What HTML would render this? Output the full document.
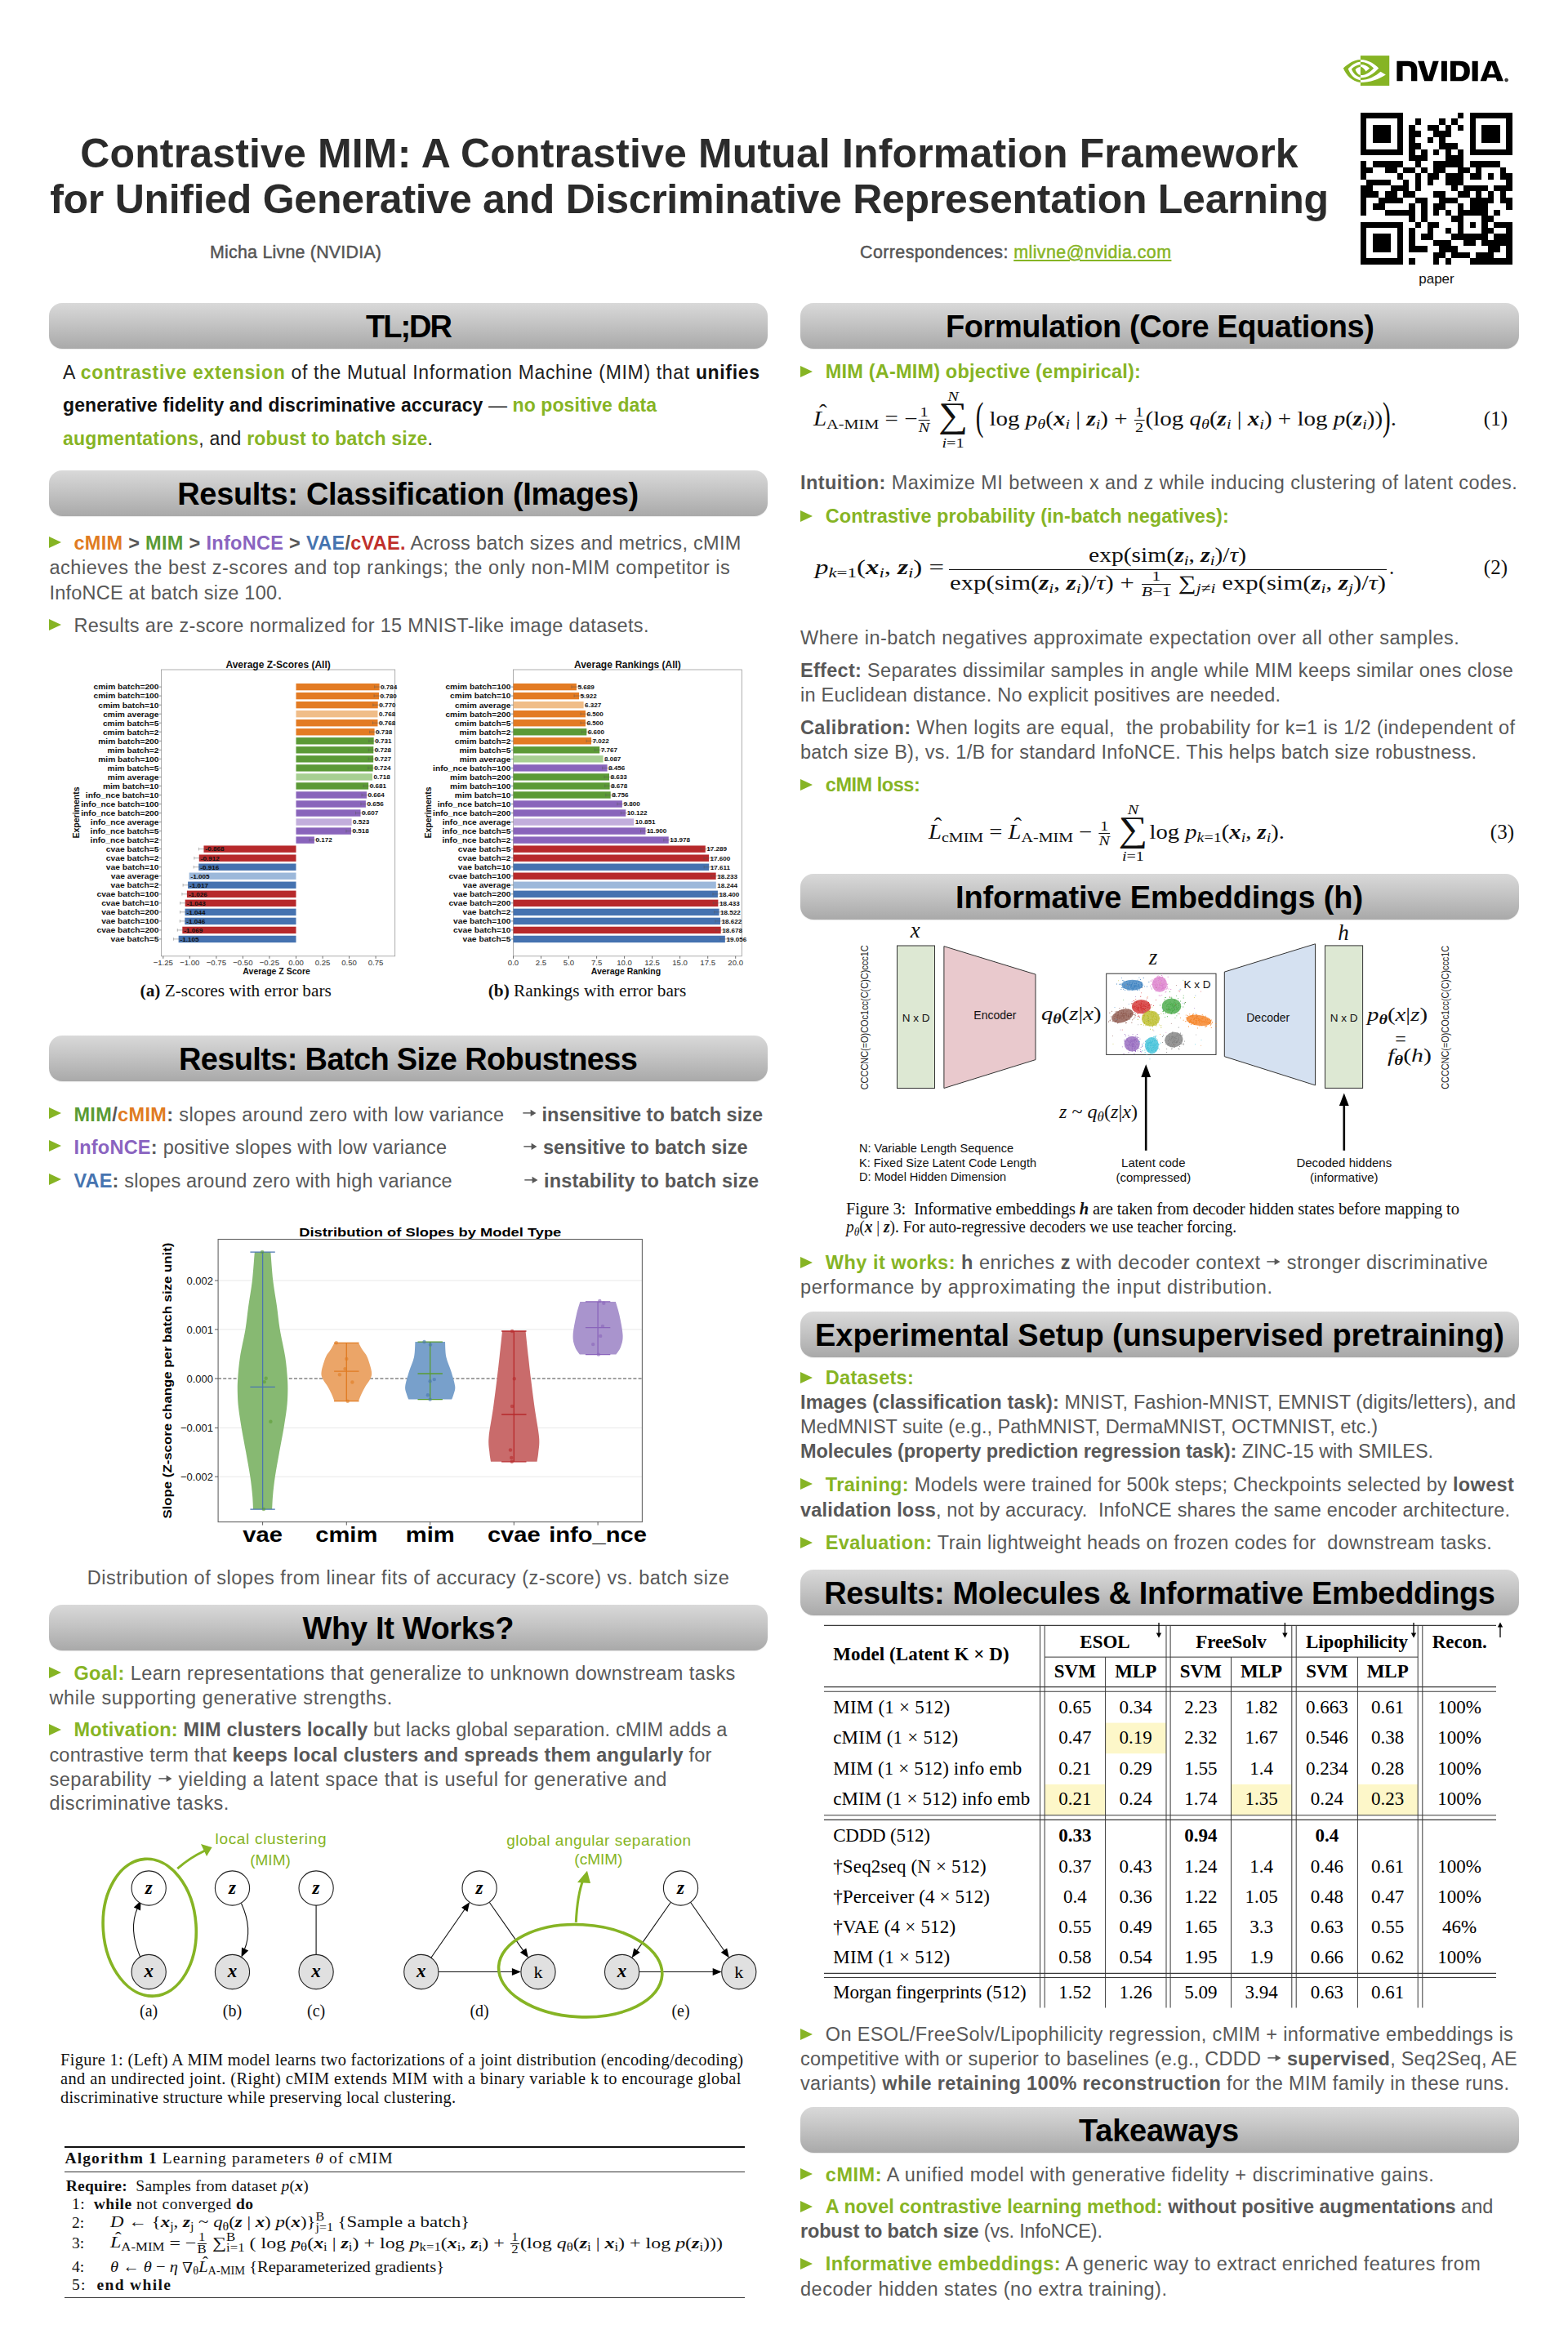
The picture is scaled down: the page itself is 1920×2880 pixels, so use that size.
<!DOCTYPE html><html><head><meta charset="utf-8"><title>Contrastive MIM poster</title><style>
*{margin:0;padding:0;box-sizing:border-box}
html,body{width:1920px;height:2880px;background:#fff;overflow:hidden}
body{position:relative;font-family:'Liberation Sans',sans-serif}
.t{position:absolute;white-space:nowrap}
.bar{position:absolute;border-radius:16px;background:linear-gradient(#d9d9d9,#c4c4c4 45%,#a9a9a9);text-align:center;font:bold 38px 'Liberation Sans',sans-serif;color:#000;box-shadow:0 1px 1px rgba(0,0,0,.08)}
.tri{position:absolute;width:0;height:0;border-top:7px solid transparent;border-bottom:7px solid transparent;border-left:15px solid #86b424}
.g{color:#86b424;font-weight:bold}
b{font-weight:bold}
svg{position:absolute;overflow:visible}
svg.arr{position:static;display:inline-block;vertical-align:0.15em;overflow:visible}
i.v{font-family:'Liberation Serif';font-style:italic}
sub,sup{font-size:0.7em;line-height:0}
sub{vertical-align:-0.25em}
sup{vertical-align:0.45em}
.ss{display:inline-block;vertical-align:-0.3em;line-height:0.75em;font-size:0.7em;text-align:left}
.ss sup,.ss sub{display:block;font-size:1em;vertical-align:0;line-height:0.9em}
.fr{display:inline-block;vertical-align:-0.45em;font-size:0.7em;line-height:1em;text-align:center;margin:0 1px}
.fr span{display:block}
.fr span:first-child{border-bottom:1px solid currentColor;padding:0 1px}
.hat{display:inline-block;font-style:italic;position:relative}
.hat::before{content:'\02C6';position:absolute;left:0.24em;top:-0.32em;font-style:normal;font-size:1em}
.nab{display:inline-block;transform:scaleY(-1)}
.op{display:inline-block;vertical-align:middle;text-align:center;line-height:1;margin:0 2px}
.op .lim{display:block;font-size:0.7em;line-height:1.05em}
.op .sym{display:block;font-size:1.75em;line-height:0.95em;font-style:normal;position:relative;top:-0.14em}
.op .lim:last-child{position:relative;top:-0.17em}
.bp{display:inline-block;transform:scaleY(1.9);transform-origin:50% 60%}


</style></head><body><div class="t" style="left:844px;top:162.80px;font-size:50px;line-height:50px;color:#2b2b2b;font-weight:bold;font-family:'Liberation Sans';letter-spacing:0.154px;transform:translateX(-50%);">Contrastive MIM: A Contrastive Mutual Information Framework</div>
<div class="t" style="left:844px;top:219.00px;font-size:50px;line-height:50px;color:#2b2b2b;font-weight:bold;font-family:'Liberation Sans';letter-spacing:-0.280px;transform:translateX(-50%);">for Unified Generative and Discriminative Representation Learning</div>
<div class="t" style="left:257px;top:298.80px;font-size:21.4px;line-height:21.4px;color:#555;font-weight:normal;font-family:'Liberation Sans';-webkit-text-stroke:0.45px currentColor;letter-spacing:0.229px;">Micha Livne (NVIDIA)</div>
<div class="t" style="left:1053px;top:298.80px;font-size:21.4px;line-height:21.4px;color:#555;font-weight:normal;font-family:'Liberation Sans';-webkit-text-stroke:0.45px currentColor;letter-spacing:0.439px;">Correspondences: <span style="color:#86b424;text-decoration:underline;text-decoration-thickness:1.5px;text-underline-offset:2px">mlivne@nvidia.com</span></div>
<svg style="left:1640px;top:62px" width="66" height="48" viewBox="0 0 1568 1140">
<rect x="615" y="145" width="840" height="875" fill="#86b424"/>
<path fill="#fff" d="M615,260 C850,265 1050,400 1145,510 C1000,680 820,790 615,790 L615,715 C780,720 900,620 1000,510 C880,390 760,325 615,325 Z"/>
<path fill="#fff" d="M615,405 C730,405 820,450 880,515 L770,605 C720,520 680,475 615,475 Z"/>
<path fill="#fff" d="M615,855 C850,850 1050,740 1200,610 L1350,700 C1150,830 900,925 615,925 Z"/>
<path fill="#86b424" d="M615,260 C420,270 250,380 115,510 C200,720 380,900 615,925 L615,860 C430,840 320,700 255,530 C350,420 470,335 615,325 Z"/>
<path fill="#86b424" d="M615,405 C500,420 420,470 355,535 C410,680 500,750 615,780 L615,715 C540,690 490,630 465,550 C510,500 560,475 615,475 Z"/>
</svg>
<svg style="left:1630px;top:55px" width="230" height="60" viewBox="0 0 1568 409">
<path fill="#000" d="M548,135 L640,135 Q718,135 718,210 L718,302 L668,302 L668,210 Q668,177 640,177 L597,177 L597,302 L548,302 Z"/>
<path fill="#000" d="M723,135 L775,135 L813,265 L850,135 L898,135 L845,302 L778,302 Z"/>
<rect x="920" y="135" width="47" height="167" fill="#000"/>
<path fill="#000" fill-rule="evenodd" d="M995,135 L1075,135 Q1158,135 1158,218 Q1158,302 1075,302 L995,302 Z M1042,172 L1065,172 Q1110,172 1110,218 Q1110,268 1065,268 L1042,268 Z"/>
<rect x="1177" y="135" width="48" height="167" fill="#000"/>
<path fill="#000" fill-rule="evenodd" d="M1245,302 L1310,135 L1372,135 L1438,302 L1385,302 L1375,272 L1305,272 L1295,302 Z M1312,245 L1368,245 L1340,168 Z"/>
<circle cx="1463" cy="293" r="13" fill="#444" stroke="#000" stroke-width="4"/>
</svg>
<svg style="left:1666.4px;top:137.9px" width="185.5" height="185.5" viewBox="0 0 25 25" shape-rendering="crispEdges"><path d="M0,0h7v1h-7zM16,0h1v1h-1zM18,0h7v1h-7zM0,1h1v1h-1zM6,1h1v1h-1zM9,1h1v1h-1zM13,1h1v1h-1zM15,1h1v1h-1zM18,1h1v1h-1zM24,1h1v1h-1zM0,2h1v1h-1zM2,2h3v1h-3zM6,2h1v1h-1zM8,2h1v1h-1zM11,2h2v1h-2zM14,2h1v1h-1zM16,2h1v1h-1zM18,2h1v1h-1zM20,2h3v1h-3zM24,2h1v1h-1zM0,3h1v1h-1zM2,3h3v1h-3zM6,3h1v1h-1zM8,3h2v1h-2zM12,3h3v1h-3zM18,3h1v1h-1zM20,3h3v1h-3zM24,3h1v1h-1zM0,4h1v1h-1zM2,4h3v1h-3zM6,4h1v1h-1zM8,4h1v1h-1zM11,4h1v1h-1zM13,4h1v1h-1zM18,4h1v1h-1zM20,4h3v1h-3zM24,4h1v1h-1zM0,5h1v1h-1zM6,5h1v1h-1zM8,5h2v1h-2zM13,5h3v1h-3zM18,5h1v1h-1zM24,5h1v1h-1zM0,6h7v1h-7zM8,6h1v1h-1zM10,6h1v1h-1zM12,6h1v1h-1zM14,6h1v1h-1zM16,6h1v1h-1zM18,6h7v1h-7zM8,7h3v1h-3zM14,7h3v1h-3zM0,8h1v1h-1zM2,8h5v1h-5zM9,8h1v1h-1zM12,8h5v1h-5zM18,8h5v1h-5zM0,9h2v1h-2zM4,9h2v1h-2zM7,9h2v1h-2zM10,9h1v1h-1zM12,9h2v1h-2zM16,9h2v1h-2zM19,9h1v1h-1zM23,9h1v1h-1zM0,10h1v1h-1zM6,10h1v1h-1zM9,10h1v1h-1zM11,10h2v1h-2zM14,10h3v1h-3zM18,10h2v1h-2zM21,10h1v1h-1zM23,10h2v1h-2zM1,11h4v1h-4zM7,11h1v1h-1zM9,11h1v1h-1zM11,11h1v1h-1zM14,11h3v1h-3zM24,11h1v1h-1zM0,12h2v1h-2zM5,12h3v1h-3zM9,12h1v1h-1zM15,12h1v1h-1zM17,12h4v1h-4zM22,12h3v1h-3zM0,13h3v1h-3zM4,13h2v1h-2zM7,13h2v1h-2zM12,13h2v1h-2zM16,13h2v1h-2zM19,13h1v1h-1zM21,13h1v1h-1zM23,13h1v1h-1zM0,14h1v1h-1zM3,14h4v1h-4zM9,14h2v1h-2zM13,14h3v1h-3zM18,14h4v1h-4zM23,14h2v1h-2zM0,15h1v1h-1zM2,15h2v1h-2zM8,15h1v1h-1zM10,15h1v1h-1zM12,15h2v1h-2zM16,15h1v1h-1zM18,15h3v1h-3zM24,15h1v1h-1zM0,16h1v1h-1zM4,16h5v1h-5zM10,16h1v1h-1zM12,16h1v1h-1zM14,16h1v1h-1zM16,16h5v1h-5zM22,16h1v1h-1zM8,17h1v1h-1zM10,17h1v1h-1zM15,17h2v1h-2zM20,17h2v1h-2zM0,18h7v1h-7zM9,18h1v1h-1zM11,18h2v1h-2zM16,18h1v1h-1zM18,18h1v1h-1zM20,18h1v1h-1zM22,18h3v1h-3zM0,19h1v1h-1zM6,19h1v1h-1zM8,19h1v1h-1zM11,19h1v1h-1zM14,19h1v1h-1zM16,19h1v1h-1zM20,19h2v1h-2zM24,19h1v1h-1zM0,20h1v1h-1zM2,20h3v1h-3zM6,20h1v1h-1zM8,20h1v1h-1zM10,20h2v1h-2zM15,20h6v1h-6zM22,20h3v1h-3zM0,21h1v1h-1zM2,21h3v1h-3zM6,21h1v1h-1zM8,21h1v1h-1zM12,21h3v1h-3zM17,21h2v1h-2zM20,21h5v1h-5zM0,22h1v1h-1zM2,22h3v1h-3zM6,22h1v1h-1zM8,22h3v1h-3zM13,22h3v1h-3zM21,22h2v1h-2zM24,22h1v1h-1zM0,23h1v1h-1zM6,23h1v1h-1zM12,23h2v1h-2zM15,23h3v1h-3zM19,23h3v1h-3zM24,23h1v1h-1zM0,24h7v1h-7zM8,24h1v1h-1zM12,24h1v1h-1zM14,24h1v1h-1zM18,24h7v1h-7z" fill="#000"/></svg>
<div class="t" style="left:1759px;top:333.00px;font-size:17px;line-height:17px;color:#111;font-weight:normal;font-family:'Liberation Sans';transform:translateX(-50%);">paper</div>
<div class="bar" style="left:60px;top:371px;width:880px;height:56px;line-height:56px"></div>
<div class="t" style="left:500.0px;top:381.00px;font-size:38px;line-height:38px;color:#000;font-weight:bold;font-family:'Liberation Sans';letter-spacing:-1.992px;transform:translateX(-50%);">TL;DR</div>
<div class="bar" style="left:60px;top:575.5px;width:880px;height:56px;line-height:56px"></div>
<div class="t" style="left:499.5px;top:585.50px;font-size:38px;line-height:38px;color:#000;font-weight:bold;font-family:'Liberation Sans';letter-spacing:-0.303px;transform:translateX(-50%);">Results: Classification (Images)</div>
<div class="bar" style="left:60px;top:1268px;width:880px;height:56px;line-height:56px"></div>
<div class="t" style="left:499.6px;top:1278.00px;font-size:38px;line-height:38px;color:#000;font-weight:bold;font-family:'Liberation Sans';letter-spacing:-0.644px;transform:translateX(-50%);">Results: Batch Size Robustness</div>
<div class="bar" style="left:60px;top:1965px;width:880px;height:56px;line-height:56px"></div>
<div class="t" style="left:499.9px;top:1975.00px;font-size:38px;line-height:38px;color:#000;font-weight:bold;font-family:'Liberation Sans';letter-spacing:-0.350px;transform:translateX(-50%);">Why It Works?</div>
<div class="bar" style="left:980px;top:371px;width:880px;height:56px;line-height:56px"></div>
<div class="t" style="left:1420.1999999999998px;top:381.00px;font-size:38px;line-height:38px;color:#000;font-weight:bold;font-family:'Liberation Sans';letter-spacing:-0.423px;transform:translateX(-50%);">Formulation (Core Equations)</div>
<div class="bar" style="left:980px;top:1070px;width:880px;height:56px;line-height:56px"></div>
<div class="t" style="left:1419.5px;top:1080.00px;font-size:38px;line-height:38px;color:#000;font-weight:bold;font-family:'Liberation Sans';letter-spacing:-0.139px;transform:translateX(-50%);">Informative Embeddings (h)</div>
<div class="bar" style="left:980px;top:1606px;width:880px;height:56px;line-height:56px"></div>
<div class="t" style="left:1419.9px;top:1616.00px;font-size:38px;line-height:38px;color:#000;font-weight:bold;font-family:'Liberation Sans';letter-spacing:-0.067px;transform:translateX(-50%);">Experimental Setup (unsupervised pretraining)</div>
<div class="bar" style="left:980px;top:1922px;width:880px;height:56px;line-height:56px"></div>
<div class="t" style="left:1419.9px;top:1932.00px;font-size:38px;line-height:38px;color:#000;font-weight:bold;font-family:'Liberation Sans';letter-spacing:-0.342px;transform:translateX(-50%);">Results: Molecules &amp; Informative Embeddings</div>
<div class="bar" style="left:980px;top:2580px;width:880px;height:56px;line-height:56px"></div>
<div class="t" style="left:1419.0px;top:2590.00px;font-size:38px;line-height:38px;color:#000;font-weight:bold;font-family:'Liberation Sans';letter-spacing:-0.236px;transform:translateX(-50%);">Takeaways</div>
<div class="t" style="left:77px;top:445.40px;font-size:23px;line-height:23px;color:#1e1e1e;font-weight:normal;font-family:'Liberation Sans';letter-spacing:0.670px;">A <span class="g">contrastive extension</span> of the Mutual Information Machine (MIM) that <b style="color:#111">unifies</b></div>
<div class="t" style="left:77px;top:485.20px;font-size:23px;line-height:23px;color:#1e1e1e;font-weight:normal;font-family:'Liberation Sans';letter-spacing:0.093px;"><b style="color:#111">generative fidelity and discriminative accuracy</b> — <span class="g">no positive data</span></div>
<div class="t" style="left:77px;top:525.80px;font-size:23px;line-height:23px;color:#1e1e1e;font-weight:normal;font-family:'Liberation Sans';letter-spacing:0.211px;"><span class="g">augmentations</span>, and <span class="g">robust to batch size</span>.</div>
<div class="tri" style="left:60px;top:657px"></div>
<div class="t" style="left:90.4px;top:654.30px;font-size:23.5px;line-height:23.5px;color:#585858;font-weight:normal;font-family:'Liberation Sans';letter-spacing:0.302px;"><b style="color:#e07b22">cMIM</b> <b>&gt;</b> <b style="color:#5a9b34">MIM</b> <b>&gt;</b> <b style="color:#8a64c0">InfoNCE</b> <b>&gt;</b> <b style="color:#4674b0">VAE</b><b>/</b><b style="color:#c0302c">cVAE.</b> Across batch sizes and metrics, cMIM</div>
<div class="t" style="left:60.4px;top:684.40px;font-size:23.5px;line-height:23.5px;color:#585858;font-weight:normal;font-family:'Liberation Sans';letter-spacing:0.549px;">achieves the best z-scores and top rankings; the only non-MIM competitor is</div>
<div class="t" style="left:60.4px;top:715.00px;font-size:23.5px;line-height:23.5px;color:#585858;font-weight:normal;font-family:'Liberation Sans';letter-spacing:0.234px;">InfoNCE at batch size 100.</div>
<div class="tri" style="left:60px;top:757.5px"></div>
<div class="t" style="left:90.4px;top:754.60px;font-size:23.5px;line-height:23.5px;color:#585858;font-weight:normal;font-family:'Liberation Sans';letter-spacing:0.312px;">Results are z-score normalized for 15 MNIST-like image datasets.</div>
<div class="tri" style="left:60px;top:1356.0px"></div>
<div class="t" style="left:90.4px;top:1353.50px;font-size:23.5px;line-height:23.5px;color:#585858;font-weight:normal;font-family:'Liberation Sans';letter-spacing:0.354px;"><b style="color:#5a9b34">MIM</b><b>/</b><b style="color:#e07b22">cMIM</b><b>:</b> slopes around zero with low variance</div>
<div class="t" style="left:638.7px;top:1353.50px;font-size:23.5px;line-height:23.5px;color:#585858;font-weight:normal;font-family:'Liberation Sans';letter-spacing:0.004px;"><svg class="arr" viewBox="0 0 18 12" width="0.78em" height="0.5em"><path d="M1,6H12" stroke="currentColor" stroke-width="1.5"/><path d="M10.5,1.8 L17.5,6 L10.5,10.2 Z" fill="currentColor"/></svg> <b>insensitive to batch size</b></div>
<div class="tri" style="left:60px;top:1396.3px"></div>
<div class="t" style="left:90.4px;top:1393.80px;font-size:23.5px;line-height:23.5px;color:#585858;font-weight:normal;font-family:'Liberation Sans';letter-spacing:0.243px;"><b style="color:#8a64c0">InfoNCE</b><b>:</b> positive slopes with low variance</div>
<div class="t" style="left:640px;top:1393.80px;font-size:23.5px;line-height:23.5px;color:#585858;font-weight:normal;font-family:'Liberation Sans';letter-spacing:0.052px;"><svg class="arr" viewBox="0 0 18 12" width="0.78em" height="0.5em"><path d="M1,6H12" stroke="currentColor" stroke-width="1.5"/><path d="M10.5,1.8 L17.5,6 L10.5,10.2 Z" fill="currentColor"/></svg> <b>sensitive to batch size</b></div>
<div class="tri" style="left:60px;top:1437.3px"></div>
<div class="t" style="left:90.4px;top:1434.80px;font-size:23.5px;line-height:23.5px;color:#585858;font-weight:normal;font-family:'Liberation Sans';letter-spacing:0.191px;"><b style="color:#4674b0">VAE</b><b>:</b> slopes around zero with high variance</div>
<div class="t" style="left:641px;top:1434.80px;font-size:23.5px;line-height:23.5px;color:#585858;font-weight:normal;font-family:'Liberation Sans';letter-spacing:0.184px;"><svg class="arr" viewBox="0 0 18 12" width="0.78em" height="0.5em"><path d="M1,6H12" stroke="currentColor" stroke-width="1.5"/><path d="M10.5,1.8 L17.5,6 L10.5,10.2 Z" fill="currentColor"/></svg> <b>instability to batch size</b></div>
<div class="tri" style="left:60px;top:2041px"></div>
<div class="t" style="left:90.4px;top:2037.70px;font-size:23.5px;line-height:23.5px;color:#585858;font-weight:normal;font-family:'Liberation Sans';letter-spacing:0.449px;"><span class="g">Goal:</span> Learn representations that generalize to unknown downstream tasks</div>
<div class="t" style="left:60.4px;top:2067.50px;font-size:23.5px;line-height:23.5px;color:#585858;font-weight:normal;font-family:'Liberation Sans';letter-spacing:0.653px;">while supporting generative strengths.</div>
<div class="tri" style="left:60px;top:2110.5px"></div>
<div class="t" style="left:90.4px;top:2107.40px;font-size:23.5px;line-height:23.5px;color:#585858;font-weight:normal;font-family:'Liberation Sans';letter-spacing:0.191px;"><span class="g">Motivation:</span> <b>MIM clusters locally</b> but lacks global separation. cMIM adds a</div>
<div class="t" style="left:60.4px;top:2137.70px;font-size:23.5px;line-height:23.5px;color:#585858;font-weight:normal;font-family:'Liberation Sans';letter-spacing:0.216px;">contrastive term that <b>keeps local clusters and spreads them angularly</b> for</div>
<div class="t" style="left:60.4px;top:2168.00px;font-size:23.5px;line-height:23.5px;color:#585858;font-weight:normal;font-family:'Liberation Sans';letter-spacing:0.554px;">separability <svg class="arr" viewBox="0 0 18 12" width="0.78em" height="0.5em"><path d="M1,6H12" stroke="currentColor" stroke-width="1.5"/><path d="M10.5,1.8 L17.5,6 L10.5,10.2 Z" fill="currentColor"/></svg> yielding a latent space that is useful for generative and</div>
<div class="t" style="left:60.4px;top:2197.20px;font-size:23.5px;line-height:23.5px;color:#585858;font-weight:normal;font-family:'Liberation Sans';letter-spacing:0.487px;">discriminative tasks.</div>
<svg style="left:60px;top:790px" width="440" height="450" viewBox="60 790 440 450"><rect x="197.5" y="820" width="286.2" height="350.79999999999995" fill="none" stroke="#999" stroke-width="0.8"/><rect x="362.50" y="836.90" width="102.08" height="8.4" fill="#e37b23"/><path d="M458.6,841.1H470.6M458.6,839.3v3.6M470.6,839.3v3.6" stroke="#555" stroke-width="0.6" opacity="0.7"/><text transform="translate(194.5,844.4) scale(1.09,1)" text-anchor="end" font-size="9.4" font-weight="bold" fill="#111">cmim batch=200</text><path d="M195.0,841.1h2.5" stroke="#444" stroke-width="0.6"/><text transform="translate(466.1,843.9) scale(1.08,1)" font-size="7.5" font-weight="bold" fill="#111">0.784</text><rect x="362.50" y="847.93" width="101.56" height="8.4" fill="#e37b23"/><path d="M458.1,852.1H470.1M458.1,850.3v3.6M470.1,850.3v3.6" stroke="#555" stroke-width="0.6" opacity="0.7"/><text transform="translate(194.5,855.4) scale(1.09,1)" text-anchor="end" font-size="9.4" font-weight="bold" fill="#111">cmim batch=100</text><path d="M195.0,852.1h2.5" stroke="#444" stroke-width="0.6"/><text transform="translate(465.6,854.9) scale(1.08,1)" font-size="7.5" font-weight="bold" fill="#111">0.780</text><rect x="362.50" y="858.96" width="100.25" height="8.4" fill="#e37b23"/><path d="M456.8,863.2H468.8M456.8,861.4v3.6M468.8,861.4v3.6" stroke="#555" stroke-width="0.6" opacity="0.7"/><text transform="translate(194.5,866.5) scale(1.09,1)" text-anchor="end" font-size="9.4" font-weight="bold" fill="#111">cmim batch=10</text><path d="M195.0,863.2h2.5" stroke="#444" stroke-width="0.6"/><text transform="translate(464.3,866.0) scale(1.08,1)" font-size="7.5" font-weight="bold" fill="#111">0.770</text><rect x="362.50" y="869.99" width="99.99" height="8.4" fill="#f0bd88"/><text transform="translate(194.5,877.5) scale(1.09,1)" text-anchor="end" font-size="9.4" font-weight="bold" fill="#111">cmim average</text><path d="M195.0,874.2h2.5" stroke="#444" stroke-width="0.6"/><text transform="translate(464.0,877.0) scale(1.08,1)" font-size="7.5" font-weight="bold" fill="#111">0.768</text><rect x="362.50" y="881.02" width="99.99" height="8.4" fill="#e37b23"/><path d="M456.5,885.2H468.5M456.5,883.4v3.6M468.5,883.4v3.6" stroke="#555" stroke-width="0.6" opacity="0.7"/><text transform="translate(194.5,888.5) scale(1.09,1)" text-anchor="end" font-size="9.4" font-weight="bold" fill="#111">cmim batch=5</text><path d="M195.0,885.2h2.5" stroke="#444" stroke-width="0.6"/><text transform="translate(464.0,888.0) scale(1.08,1)" font-size="7.5" font-weight="bold" fill="#111">0.768</text><rect x="362.50" y="892.05" width="96.09" height="8.4" fill="#e37b23"/><path d="M452.6,896.2H464.6M452.6,894.5v3.6M464.6,894.5v3.6" stroke="#555" stroke-width="0.6" opacity="0.7"/><text transform="translate(194.5,899.5) scale(1.09,1)" text-anchor="end" font-size="9.4" font-weight="bold" fill="#111">cmim batch=2</text><path d="M195.0,896.2h2.5" stroke="#444" stroke-width="0.6"/><text transform="translate(460.1,899.0) scale(1.08,1)" font-size="7.5" font-weight="bold" fill="#111">0.738</text><rect x="362.50" y="903.08" width="95.18" height="8.4" fill="#5b9a36"/><path d="M451.7,907.3H463.7M451.7,905.5v3.6M463.7,905.5v3.6" stroke="#555" stroke-width="0.6" opacity="0.7"/><text transform="translate(194.5,910.6) scale(1.09,1)" text-anchor="end" font-size="9.4" font-weight="bold" fill="#111">mim batch=200</text><path d="M195.0,907.3h2.5" stroke="#444" stroke-width="0.6"/><text transform="translate(459.2,910.1) scale(1.08,1)" font-size="7.5" font-weight="bold" fill="#111">0.731</text><rect x="362.50" y="914.11" width="94.79" height="8.4" fill="#5b9a36"/><path d="M451.3,918.3H463.3M451.3,916.5v3.6M463.3,916.5v3.6" stroke="#555" stroke-width="0.6" opacity="0.7"/><text transform="translate(194.5,921.6) scale(1.09,1)" text-anchor="end" font-size="9.4" font-weight="bold" fill="#111">mim batch=2</text><path d="M195.0,918.3h2.5" stroke="#444" stroke-width="0.6"/><text transform="translate(458.8,921.1) scale(1.08,1)" font-size="7.5" font-weight="bold" fill="#111">0.728</text><rect x="362.50" y="925.14" width="94.66" height="8.4" fill="#5b9a36"/><path d="M451.2,929.3H463.2M451.2,927.5v3.6M463.2,927.5v3.6" stroke="#555" stroke-width="0.6" opacity="0.7"/><text transform="translate(194.5,932.6) scale(1.09,1)" text-anchor="end" font-size="9.4" font-weight="bold" fill="#111">mim batch=100</text><path d="M195.0,929.3h2.5" stroke="#444" stroke-width="0.6"/><text transform="translate(458.7,932.1) scale(1.08,1)" font-size="7.5" font-weight="bold" fill="#111">0.727</text><rect x="362.50" y="936.17" width="94.26" height="8.4" fill="#5b9a36"/><path d="M450.8,940.4H462.8M450.8,938.6v3.6M462.8,938.6v3.6" stroke="#555" stroke-width="0.6" opacity="0.7"/><text transform="translate(194.5,943.7) scale(1.09,1)" text-anchor="end" font-size="9.4" font-weight="bold" fill="#111">mim batch=5</text><path d="M195.0,940.4h2.5" stroke="#444" stroke-width="0.6"/><text transform="translate(458.3,943.2) scale(1.08,1)" font-size="7.5" font-weight="bold" fill="#111">0.724</text><rect x="362.50" y="947.20" width="93.48" height="8.4" fill="#a7cf92"/><text transform="translate(194.5,954.7) scale(1.09,1)" text-anchor="end" font-size="9.4" font-weight="bold" fill="#111">mim average</text><path d="M195.0,951.4h2.5" stroke="#444" stroke-width="0.6"/><text transform="translate(457.5,954.2) scale(1.08,1)" font-size="7.5" font-weight="bold" fill="#111">0.718</text><rect x="362.50" y="958.23" width="88.67" height="8.4" fill="#5b9a36"/><path d="M445.2,962.4H457.2M445.2,960.6v3.6M457.2,960.6v3.6" stroke="#555" stroke-width="0.6" opacity="0.7"/><text transform="translate(194.5,965.7) scale(1.09,1)" text-anchor="end" font-size="9.4" font-weight="bold" fill="#111">mim batch=10</text><path d="M195.0,962.4h2.5" stroke="#444" stroke-width="0.6"/><text transform="translate(452.7,965.2) scale(1.08,1)" font-size="7.5" font-weight="bold" fill="#111">0.681</text><rect x="362.50" y="969.26" width="86.45" height="8.4" fill="#8964bb"/><path d="M443.0,973.5H455.0M443.0,971.7v3.6M455.0,971.7v3.6" stroke="#555" stroke-width="0.6" opacity="0.7"/><text transform="translate(194.5,976.8) scale(1.09,1)" text-anchor="end" font-size="9.4" font-weight="bold" fill="#111">info_nce batch=10</text><path d="M195.0,973.5h2.5" stroke="#444" stroke-width="0.6"/><text transform="translate(450.5,976.3) scale(1.08,1)" font-size="7.5" font-weight="bold" fill="#111">0.664</text><rect x="362.50" y="980.29" width="85.41" height="8.4" fill="#8964bb"/><path d="M441.9,984.5H453.9M441.9,982.7v3.6M453.9,982.7v3.6" stroke="#555" stroke-width="0.6" opacity="0.7"/><text transform="translate(194.5,987.8) scale(1.09,1)" text-anchor="end" font-size="9.4" font-weight="bold" fill="#111">info_nce batch=100</text><path d="M195.0,984.5h2.5" stroke="#444" stroke-width="0.6"/><text transform="translate(449.4,987.3) scale(1.08,1)" font-size="7.5" font-weight="bold" fill="#111">0.656</text><rect x="362.50" y="991.32" width="79.03" height="8.4" fill="#8964bb"/><path d="M435.5,995.5H447.5M435.5,993.7v3.6M447.5,993.7v3.6" stroke="#555" stroke-width="0.6" opacity="0.7"/><text transform="translate(194.5,998.8) scale(1.09,1)" text-anchor="end" font-size="9.4" font-weight="bold" fill="#111">info_nce batch=200</text><path d="M195.0,995.5h2.5" stroke="#444" stroke-width="0.6"/><text transform="translate(443.0,998.3) scale(1.08,1)" font-size="7.5" font-weight="bold" fill="#111">0.607</text><rect x="362.50" y="1002.35" width="68.09" height="8.4" fill="#c2aedc"/><text transform="translate(194.5,1009.8) scale(1.09,1)" text-anchor="end" font-size="9.4" font-weight="bold" fill="#111">info_nce average</text><path d="M195.0,1006.5h2.5" stroke="#444" stroke-width="0.6"/><text transform="translate(432.1,1009.3) scale(1.08,1)" font-size="7.5" font-weight="bold" fill="#111">0.523</text><rect x="362.50" y="1013.38" width="67.44" height="8.4" fill="#8964bb"/><path d="M423.9,1017.6H435.9M423.9,1015.8v3.6M435.9,1015.8v3.6" stroke="#555" stroke-width="0.6" opacity="0.7"/><text transform="translate(194.5,1020.9) scale(1.09,1)" text-anchor="end" font-size="9.4" font-weight="bold" fill="#111">info_nce batch=5</text><path d="M195.0,1017.6h2.5" stroke="#444" stroke-width="0.6"/><text transform="translate(431.4,1020.4) scale(1.08,1)" font-size="7.5" font-weight="bold" fill="#111">0.518</text><rect x="362.50" y="1024.41" width="22.39" height="8.4" fill="#8964bb"/><path d="M378.9,1028.6H390.9M378.9,1026.8v3.6M390.9,1026.8v3.6" stroke="#555" stroke-width="0.6" opacity="0.7"/><text transform="translate(194.5,1031.9) scale(1.09,1)" text-anchor="end" font-size="9.4" font-weight="bold" fill="#111">info_nce batch=2</text><path d="M195.0,1028.6h2.5" stroke="#444" stroke-width="0.6"/><text transform="translate(386.4,1031.4) scale(1.08,1)" font-size="7.5" font-weight="bold" fill="#111">0.172</text><rect x="249.49" y="1035.44" width="113.01" height="8.4" fill="#b7292b"/><path d="M243.5,1039.6H255.5M243.5,1037.8v3.6M255.5,1037.8v3.6" stroke="#555" stroke-width="0.6" opacity="0.7"/><text transform="translate(194.5,1042.9) scale(1.09,1)" text-anchor="end" font-size="9.4" font-weight="bold" fill="#111">cvae batch=5</text><path d="M195.0,1039.6h2.5" stroke="#444" stroke-width="0.6"/><text transform="translate(251.5,1042.4) scale(1.08,1)" font-size="7.5" font-weight="bold" fill="#111">-0.868</text><rect x="243.76" y="1046.47" width="118.74" height="8.4" fill="#b7292b"/><path d="M237.8,1050.7H249.8M237.8,1048.9v3.6M249.8,1048.9v3.6" stroke="#555" stroke-width="0.6" opacity="0.7"/><text transform="translate(194.5,1054.0) scale(1.09,1)" text-anchor="end" font-size="9.4" font-weight="bold" fill="#111">cvae batch=2</text><path d="M195.0,1050.7h2.5" stroke="#444" stroke-width="0.6"/><text transform="translate(245.8,1053.5) scale(1.08,1)" font-size="7.5" font-weight="bold" fill="#111">-0.912</text><rect x="243.24" y="1057.50" width="119.26" height="8.4" fill="#4572b0"/><path d="M237.2,1061.7H249.2M237.2,1059.9v3.6M249.2,1059.9v3.6" stroke="#555" stroke-width="0.6" opacity="0.7"/><text transform="translate(194.5,1065.0) scale(1.09,1)" text-anchor="end" font-size="9.4" font-weight="bold" fill="#111">vae batch=10</text><path d="M195.0,1061.7h2.5" stroke="#444" stroke-width="0.6"/><text transform="translate(245.2,1064.5) scale(1.08,1)" font-size="7.5" font-weight="bold" fill="#111">-0.916</text><rect x="231.65" y="1068.53" width="130.85" height="8.4" fill="#9cb8da"/><text transform="translate(194.5,1076.0) scale(1.09,1)" text-anchor="end" font-size="9.4" font-weight="bold" fill="#111">vae average</text><path d="M195.0,1072.7h2.5" stroke="#444" stroke-width="0.6"/><text transform="translate(233.6,1075.5) scale(1.08,1)" font-size="7.5" font-weight="bold" fill="#111">-1.005</text><rect x="230.09" y="1079.56" width="132.41" height="8.4" fill="#4572b0"/><path d="M224.1,1083.8H236.1M224.1,1082.0v3.6M236.1,1082.0v3.6" stroke="#555" stroke-width="0.6" opacity="0.7"/><text transform="translate(194.5,1087.1) scale(1.09,1)" text-anchor="end" font-size="9.4" font-weight="bold" fill="#111">vae batch=2</text><path d="M195.0,1083.8h2.5" stroke="#444" stroke-width="0.6"/><text transform="translate(232.1,1086.6) scale(1.08,1)" font-size="7.5" font-weight="bold" fill="#111">-1.017</text><rect x="228.91" y="1090.59" width="133.59" height="8.4" fill="#b7292b"/><path d="M222.9,1094.8H234.9M222.9,1093.0v3.6M234.9,1093.0v3.6" stroke="#555" stroke-width="0.6" opacity="0.7"/><text transform="translate(194.5,1098.1) scale(1.09,1)" text-anchor="end" font-size="9.4" font-weight="bold" fill="#111">cvae batch=100</text><path d="M195.0,1094.8h2.5" stroke="#444" stroke-width="0.6"/><text transform="translate(230.9,1097.6) scale(1.08,1)" font-size="7.5" font-weight="bold" fill="#111">-1.026</text><rect x="226.70" y="1101.62" width="135.80" height="8.4" fill="#b7292b"/><path d="M220.7,1105.8H232.7M220.7,1104.0v3.6M232.7,1104.0v3.6" stroke="#555" stroke-width="0.6" opacity="0.7"/><text transform="translate(194.5,1109.1) scale(1.09,1)" text-anchor="end" font-size="9.4" font-weight="bold" fill="#111">cvae batch=10</text><path d="M195.0,1105.8h2.5" stroke="#444" stroke-width="0.6"/><text transform="translate(228.7,1108.6) scale(1.08,1)" font-size="7.5" font-weight="bold" fill="#111">-1.043</text><rect x="226.57" y="1112.65" width="135.93" height="8.4" fill="#4572b0"/><path d="M220.6,1116.8H232.6M220.6,1115.0v3.6M232.6,1115.0v3.6" stroke="#555" stroke-width="0.6" opacity="0.7"/><text transform="translate(194.5,1120.1) scale(1.09,1)" text-anchor="end" font-size="9.4" font-weight="bold" fill="#111">vae batch=200</text><path d="M195.0,1116.8h2.5" stroke="#444" stroke-width="0.6"/><text transform="translate(228.6,1119.6) scale(1.08,1)" font-size="7.5" font-weight="bold" fill="#111">-1.044</text><rect x="226.31" y="1123.68" width="136.19" height="8.4" fill="#4572b0"/><path d="M220.3,1127.9H232.3M220.3,1126.1v3.6M232.3,1126.1v3.6" stroke="#555" stroke-width="0.6" opacity="0.7"/><text transform="translate(194.5,1131.2) scale(1.09,1)" text-anchor="end" font-size="9.4" font-weight="bold" fill="#111">vae batch=100</text><path d="M195.0,1127.9h2.5" stroke="#444" stroke-width="0.6"/><text transform="translate(228.3,1130.7) scale(1.08,1)" font-size="7.5" font-weight="bold" fill="#111">-1.046</text><rect x="223.32" y="1134.71" width="139.18" height="8.4" fill="#b7292b"/><path d="M217.3,1138.9H229.3M217.3,1137.1v3.6M229.3,1137.1v3.6" stroke="#555" stroke-width="0.6" opacity="0.7"/><text transform="translate(194.5,1142.2) scale(1.09,1)" text-anchor="end" font-size="9.4" font-weight="bold" fill="#111">cvae batch=200</text><path d="M195.0,1138.9h2.5" stroke="#444" stroke-width="0.6"/><text transform="translate(225.3,1141.7) scale(1.08,1)" font-size="7.5" font-weight="bold" fill="#111">-1.069</text><rect x="218.63" y="1145.74" width="143.87" height="8.4" fill="#4572b0"/><path d="M212.6,1149.9H224.6M212.6,1148.1v3.6M224.6,1148.1v3.6" stroke="#555" stroke-width="0.6" opacity="0.7"/><text transform="translate(194.5,1153.2) scale(1.09,1)" text-anchor="end" font-size="9.4" font-weight="bold" fill="#111">vae batch=5</text><path d="M195.0,1149.9h2.5" stroke="#444" stroke-width="0.6"/><text transform="translate(220.6,1152.7) scale(1.08,1)" font-size="7.5" font-weight="bold" fill="#111">-1.105</text><path d="M199.8,1170.8v3" stroke="#333" stroke-width="0.7"/><text x="199.8" y="1182.3" text-anchor="middle" font-size="9.6" fill="#333">−1.25</text><path d="M232.3,1170.8v3" stroke="#333" stroke-width="0.7"/><text x="232.3" y="1182.3" text-anchor="middle" font-size="9.6" fill="#333">−1.00</text><path d="M264.9,1170.8v3" stroke="#333" stroke-width="0.7"/><text x="264.9" y="1182.3" text-anchor="middle" font-size="9.6" fill="#333">−0.75</text><path d="M297.4,1170.8v3" stroke="#333" stroke-width="0.7"/><text x="297.4" y="1182.3" text-anchor="middle" font-size="9.6" fill="#333">−0.50</text><path d="M329.9,1170.8v3" stroke="#333" stroke-width="0.7"/><text x="329.9" y="1182.3" text-anchor="middle" font-size="9.6" fill="#333">−0.25</text><path d="M362.5,1170.8v3" stroke="#333" stroke-width="0.7"/><text x="362.5" y="1182.3" text-anchor="middle" font-size="9.6" fill="#333">0.00</text><path d="M395.1,1170.8v3" stroke="#333" stroke-width="0.7"/><text x="395.1" y="1182.3" text-anchor="middle" font-size="9.6" fill="#333">0.25</text><path d="M427.6,1170.8v3" stroke="#333" stroke-width="0.7"/><text x="427.6" y="1182.3" text-anchor="middle" font-size="9.6" fill="#333">0.50</text><path d="M460.1,1170.8v3" stroke="#333" stroke-width="0.7"/><text x="460.1" y="1182.3" text-anchor="middle" font-size="9.6" fill="#333">0.75</text><text x="340.6" y="817.5" text-anchor="middle" font-size="12" font-weight="bold" fill="#111">Average Z-Scores (All)</text><text x="338.6" y="1192.8" text-anchor="middle" font-size="10.5" font-weight="bold" fill="#111">Average Z Score</text><text transform="translate(97,995) rotate(-90)" text-anchor="middle" font-size="10.5" font-weight="bold" fill="#111">Experiments</text></svg>
<div class="t" style="left:288.7px;top:1203.00px;font-size:21.3px;line-height:21.3px;color:#111;font-weight:normal;font-family:'Liberation Serif';transform:translateX(-50%);"><b>(a)</b> Z-scores with error bars</div>
<svg style="left:500px;top:790px" width="440" height="450" viewBox="500 790 440 450"><rect x="628.5" y="820" width="279.79999999999995" height="350.79999999999995" fill="none" stroke="#999" stroke-width="0.8"/><rect x="628.50" y="836.90" width="77.43" height="8.4" fill="#e37b23"/><path d="M699.9,841.1H711.9M699.9,839.3v3.6M711.9,839.3v3.6" stroke="#555" stroke-width="0.6" opacity="0.7"/><text transform="translate(625.4,844.4) scale(1.09,1)" text-anchor="end" font-size="9.4" font-weight="bold" fill="#111">cmim batch=100</text><path d="M626.0,841.1h2.5" stroke="#444" stroke-width="0.6"/><text transform="translate(707.4,843.9) scale(1.08,1)" font-size="7.5" font-weight="bold" fill="#111">5.689</text><rect x="628.50" y="847.93" width="80.60" height="8.4" fill="#e37b23"/><path d="M703.1,852.1H715.1M703.1,850.3v3.6M715.1,850.3v3.6" stroke="#555" stroke-width="0.6" opacity="0.7"/><text transform="translate(625.4,855.4) scale(1.09,1)" text-anchor="end" font-size="9.4" font-weight="bold" fill="#111">cmim batch=10</text><path d="M626.0,852.1h2.5" stroke="#444" stroke-width="0.6"/><text transform="translate(710.6,854.9) scale(1.08,1)" font-size="7.5" font-weight="bold" fill="#111">5.922</text><rect x="628.50" y="858.96" width="86.11" height="8.4" fill="#f0bd88"/><text transform="translate(625.4,866.5) scale(1.09,1)" text-anchor="end" font-size="9.4" font-weight="bold" fill="#111">cmim average</text><path d="M626.0,863.2h2.5" stroke="#444" stroke-width="0.6"/><text transform="translate(716.1,866.0) scale(1.08,1)" font-size="7.5" font-weight="bold" fill="#111">6.327</text><rect x="628.50" y="869.99" width="88.47" height="8.4" fill="#e37b23"/><path d="M711.0,874.2H723.0M711.0,872.4v3.6M723.0,872.4v3.6" stroke="#555" stroke-width="0.6" opacity="0.7"/><text transform="translate(625.4,877.5) scale(1.09,1)" text-anchor="end" font-size="9.4" font-weight="bold" fill="#111">cmim batch=200</text><path d="M626.0,874.2h2.5" stroke="#444" stroke-width="0.6"/><text transform="translate(718.5,877.0) scale(1.08,1)" font-size="7.5" font-weight="bold" fill="#111">6.500</text><rect x="628.50" y="881.02" width="88.47" height="8.4" fill="#e37b23"/><path d="M711.0,885.2H723.0M711.0,883.4v3.6M723.0,883.4v3.6" stroke="#555" stroke-width="0.6" opacity="0.7"/><text transform="translate(625.4,888.5) scale(1.09,1)" text-anchor="end" font-size="9.4" font-weight="bold" fill="#111">cmim batch=5</text><path d="M626.0,885.2h2.5" stroke="#444" stroke-width="0.6"/><text transform="translate(718.5,888.0) scale(1.08,1)" font-size="7.5" font-weight="bold" fill="#111">6.500</text><rect x="628.50" y="892.05" width="89.83" height="8.4" fill="#5b9a36"/><path d="M712.3,896.2H724.3M712.3,894.5v3.6M724.3,894.5v3.6" stroke="#555" stroke-width="0.6" opacity="0.7"/><text transform="translate(625.4,899.5) scale(1.09,1)" text-anchor="end" font-size="9.4" font-weight="bold" fill="#111">mim batch=2</text><path d="M626.0,896.2h2.5" stroke="#444" stroke-width="0.6"/><text transform="translate(719.8,899.0) scale(1.08,1)" font-size="7.5" font-weight="bold" fill="#111">6.600</text><rect x="628.50" y="903.08" width="95.57" height="8.4" fill="#e37b23"/><path d="M718.1,907.3H730.1M718.1,905.5v3.6M730.1,905.5v3.6" stroke="#555" stroke-width="0.6" opacity="0.7"/><text transform="translate(625.4,910.6) scale(1.09,1)" text-anchor="end" font-size="9.4" font-weight="bold" fill="#111">cmim batch=2</text><path d="M626.0,907.3h2.5" stroke="#444" stroke-width="0.6"/><text transform="translate(725.6,910.1) scale(1.08,1)" font-size="7.5" font-weight="bold" fill="#111">7.022</text><rect x="628.50" y="914.11" width="105.71" height="8.4" fill="#5b9a36"/><path d="M728.2,918.3H740.2M728.2,916.5v3.6M740.2,916.5v3.6" stroke="#555" stroke-width="0.6" opacity="0.7"/><text transform="translate(625.4,921.6) scale(1.09,1)" text-anchor="end" font-size="9.4" font-weight="bold" fill="#111">mim batch=5</text><path d="M626.0,918.3h2.5" stroke="#444" stroke-width="0.6"/><text transform="translate(735.7,921.1) scale(1.08,1)" font-size="7.5" font-weight="bold" fill="#111">7.767</text><rect x="628.50" y="925.14" width="110.06" height="8.4" fill="#a7cf92"/><text transform="translate(625.4,932.6) scale(1.09,1)" text-anchor="end" font-size="9.4" font-weight="bold" fill="#111">mim average</text><path d="M626.0,929.3h2.5" stroke="#444" stroke-width="0.6"/><text transform="translate(740.1,932.1) scale(1.08,1)" font-size="7.5" font-weight="bold" fill="#111">8.087</text><rect x="628.50" y="936.17" width="115.09" height="8.4" fill="#8964bb"/><path d="M737.6,940.4H749.6M737.6,938.6v3.6M749.6,938.6v3.6" stroke="#555" stroke-width="0.6" opacity="0.7"/><text transform="translate(625.4,943.7) scale(1.09,1)" text-anchor="end" font-size="9.4" font-weight="bold" fill="#111">info_nce batch=100</text><path d="M626.0,940.4h2.5" stroke="#444" stroke-width="0.6"/><text transform="translate(745.1,943.2) scale(1.08,1)" font-size="7.5" font-weight="bold" fill="#111">8.456</text><rect x="628.50" y="947.20" width="117.50" height="8.4" fill="#5b9a36"/><path d="M740.0,951.4H752.0M740.0,949.6v3.6M752.0,949.6v3.6" stroke="#555" stroke-width="0.6" opacity="0.7"/><text transform="translate(625.4,954.7) scale(1.09,1)" text-anchor="end" font-size="9.4" font-weight="bold" fill="#111">mim batch=200</text><path d="M626.0,951.4h2.5" stroke="#444" stroke-width="0.6"/><text transform="translate(747.5,954.2) scale(1.08,1)" font-size="7.5" font-weight="bold" fill="#111">8.633</text><rect x="628.50" y="958.23" width="118.11" height="8.4" fill="#5b9a36"/><path d="M740.6,962.4H752.6M740.6,960.6v3.6M752.6,960.6v3.6" stroke="#555" stroke-width="0.6" opacity="0.7"/><text transform="translate(625.4,965.7) scale(1.09,1)" text-anchor="end" font-size="9.4" font-weight="bold" fill="#111">mim batch=100</text><path d="M626.0,962.4h2.5" stroke="#444" stroke-width="0.6"/><text transform="translate(748.1,965.2) scale(1.08,1)" font-size="7.5" font-weight="bold" fill="#111">8.678</text><rect x="628.50" y="969.26" width="119.17" height="8.4" fill="#5b9a36"/><path d="M741.7,973.5H753.7M741.7,971.7v3.6M753.7,971.7v3.6" stroke="#555" stroke-width="0.6" opacity="0.7"/><text transform="translate(625.4,976.8) scale(1.09,1)" text-anchor="end" font-size="9.4" font-weight="bold" fill="#111">mim batch=10</text><path d="M626.0,973.5h2.5" stroke="#444" stroke-width="0.6"/><text transform="translate(749.2,976.3) scale(1.08,1)" font-size="7.5" font-weight="bold" fill="#111">8.756</text><rect x="628.50" y="980.29" width="133.38" height="8.4" fill="#8964bb"/><path d="M755.9,984.5H767.9M755.9,982.7v3.6M767.9,982.7v3.6" stroke="#555" stroke-width="0.6" opacity="0.7"/><text transform="translate(625.4,987.8) scale(1.09,1)" text-anchor="end" font-size="9.4" font-weight="bold" fill="#111">info_nce batch=10</text><path d="M626.0,984.5h2.5" stroke="#444" stroke-width="0.6"/><text transform="translate(763.4,987.3) scale(1.08,1)" font-size="7.5" font-weight="bold" fill="#111">9.800</text><rect x="628.50" y="991.32" width="137.76" height="8.4" fill="#8964bb"/><path d="M760.3,995.5H772.3M760.3,993.7v3.6M772.3,993.7v3.6" stroke="#555" stroke-width="0.6" opacity="0.7"/><text transform="translate(625.4,998.8) scale(1.09,1)" text-anchor="end" font-size="9.4" font-weight="bold" fill="#111">info_nce batch=200</text><path d="M626.0,995.5h2.5" stroke="#444" stroke-width="0.6"/><text transform="translate(767.8,998.3) scale(1.08,1)" font-size="7.5" font-weight="bold" fill="#111">10.122</text><rect x="628.50" y="1002.35" width="147.68" height="8.4" fill="#c2aedc"/><text transform="translate(625.4,1009.8) scale(1.09,1)" text-anchor="end" font-size="9.4" font-weight="bold" fill="#111">info_nce average</text><path d="M626.0,1006.5h2.5" stroke="#444" stroke-width="0.6"/><text transform="translate(777.7,1009.3) scale(1.08,1)" font-size="7.5" font-weight="bold" fill="#111">10.851</text><rect x="628.50" y="1013.38" width="161.96" height="8.4" fill="#8964bb"/><path d="M784.5,1017.6H796.5M784.5,1015.8v3.6M796.5,1015.8v3.6" stroke="#555" stroke-width="0.6" opacity="0.7"/><text transform="translate(625.4,1020.9) scale(1.09,1)" text-anchor="end" font-size="9.4" font-weight="bold" fill="#111">info_nce batch=5</text><path d="M626.0,1017.6h2.5" stroke="#444" stroke-width="0.6"/><text transform="translate(792.0,1020.4) scale(1.08,1)" font-size="7.5" font-weight="bold" fill="#111">11.900</text><rect x="628.50" y="1024.41" width="190.24" height="8.4" fill="#8964bb"/><path d="M812.7,1028.6H824.7M812.7,1026.8v3.6M824.7,1026.8v3.6" stroke="#555" stroke-width="0.6" opacity="0.7"/><text transform="translate(625.4,1031.9) scale(1.09,1)" text-anchor="end" font-size="9.4" font-weight="bold" fill="#111">info_nce batch=2</text><path d="M626.0,1028.6h2.5" stroke="#444" stroke-width="0.6"/><text transform="translate(820.2,1031.4) scale(1.08,1)" font-size="7.5" font-weight="bold" fill="#111">13.978</text><rect x="628.50" y="1035.44" width="235.30" height="8.4" fill="#b7292b"/><path d="M857.8,1039.6H869.8M857.8,1037.8v3.6M869.8,1037.8v3.6" stroke="#555" stroke-width="0.6" opacity="0.7"/><text transform="translate(625.4,1042.9) scale(1.09,1)" text-anchor="end" font-size="9.4" font-weight="bold" fill="#111">cvae batch=5</text><path d="M626.0,1039.6h2.5" stroke="#444" stroke-width="0.6"/><text transform="translate(865.3,1042.4) scale(1.08,1)" font-size="7.5" font-weight="bold" fill="#111">17.289</text><rect x="628.50" y="1046.47" width="239.54" height="8.4" fill="#b7292b"/><path d="M862.0,1050.7H874.0M862.0,1048.9v3.6M874.0,1048.9v3.6" stroke="#555" stroke-width="0.6" opacity="0.7"/><text transform="translate(625.4,1054.0) scale(1.09,1)" text-anchor="end" font-size="9.4" font-weight="bold" fill="#111">cvae batch=2</text><path d="M626.0,1050.7h2.5" stroke="#444" stroke-width="0.6"/><text transform="translate(869.5,1053.5) scale(1.08,1)" font-size="7.5" font-weight="bold" fill="#111">17.600</text><rect x="628.50" y="1057.50" width="239.69" height="8.4" fill="#4572b0"/><path d="M862.2,1061.7H874.2M862.2,1059.9v3.6M874.2,1059.9v3.6" stroke="#555" stroke-width="0.6" opacity="0.7"/><text transform="translate(625.4,1065.0) scale(1.09,1)" text-anchor="end" font-size="9.4" font-weight="bold" fill="#111">vae batch=10</text><path d="M626.0,1061.7h2.5" stroke="#444" stroke-width="0.6"/><text transform="translate(869.7,1064.5) scale(1.08,1)" font-size="7.5" font-weight="bold" fill="#111">17.611</text><rect x="628.50" y="1068.53" width="248.15" height="8.4" fill="#b7292b"/><path d="M870.7,1072.7H882.7M870.7,1070.9v3.6M882.7,1070.9v3.6" stroke="#555" stroke-width="0.6" opacity="0.7"/><text transform="translate(625.4,1076.0) scale(1.09,1)" text-anchor="end" font-size="9.4" font-weight="bold" fill="#111">cvae batch=100</text><path d="M626.0,1072.7h2.5" stroke="#444" stroke-width="0.6"/><text transform="translate(878.2,1075.5) scale(1.08,1)" font-size="7.5" font-weight="bold" fill="#111">18.233</text><rect x="628.50" y="1079.56" width="248.30" height="8.4" fill="#9cb8da"/><text transform="translate(625.4,1087.1) scale(1.09,1)" text-anchor="end" font-size="9.4" font-weight="bold" fill="#111">vae average</text><path d="M626.0,1083.8h2.5" stroke="#444" stroke-width="0.6"/><text transform="translate(878.3,1086.6) scale(1.08,1)" font-size="7.5" font-weight="bold" fill="#111">18.244</text><rect x="628.50" y="1090.59" width="250.42" height="8.4" fill="#4572b0"/><path d="M872.9,1094.8H884.9M872.9,1093.0v3.6M884.9,1093.0v3.6" stroke="#555" stroke-width="0.6" opacity="0.7"/><text transform="translate(625.4,1098.1) scale(1.09,1)" text-anchor="end" font-size="9.4" font-weight="bold" fill="#111">vae batch=200</text><path d="M626.0,1094.8h2.5" stroke="#444" stroke-width="0.6"/><text transform="translate(880.4,1097.6) scale(1.08,1)" font-size="7.5" font-weight="bold" fill="#111">18.400</text><rect x="628.50" y="1101.62" width="250.87" height="8.4" fill="#b7292b"/><path d="M873.4,1105.8H885.4M873.4,1104.0v3.6M885.4,1104.0v3.6" stroke="#555" stroke-width="0.6" opacity="0.7"/><text transform="translate(625.4,1109.1) scale(1.09,1)" text-anchor="end" font-size="9.4" font-weight="bold" fill="#111">cvae batch=200</text><path d="M626.0,1105.8h2.5" stroke="#444" stroke-width="0.6"/><text transform="translate(880.9,1108.6) scale(1.08,1)" font-size="7.5" font-weight="bold" fill="#111">18.433</text><rect x="628.50" y="1112.65" width="252.08" height="8.4" fill="#4572b0"/><path d="M874.6,1116.8H886.6M874.6,1115.0v3.6M886.6,1115.0v3.6" stroke="#555" stroke-width="0.6" opacity="0.7"/><text transform="translate(625.4,1120.1) scale(1.09,1)" text-anchor="end" font-size="9.4" font-weight="bold" fill="#111">vae batch=2</text><path d="M626.0,1116.8h2.5" stroke="#444" stroke-width="0.6"/><text transform="translate(882.1,1119.6) scale(1.08,1)" font-size="7.5" font-weight="bold" fill="#111">18.522</text><rect x="628.50" y="1123.68" width="253.45" height="8.4" fill="#4572b0"/><path d="M875.9,1127.9H887.9M875.9,1126.1v3.6M887.9,1126.1v3.6" stroke="#555" stroke-width="0.6" opacity="0.7"/><text transform="translate(625.4,1131.2) scale(1.09,1)" text-anchor="end" font-size="9.4" font-weight="bold" fill="#111">vae batch=100</text><path d="M626.0,1127.9h2.5" stroke="#444" stroke-width="0.6"/><text transform="translate(883.4,1130.7) scale(1.08,1)" font-size="7.5" font-weight="bold" fill="#111">18.622</text><rect x="628.50" y="1134.71" width="254.21" height="8.4" fill="#b7292b"/><path d="M876.7,1138.9H888.7M876.7,1137.1v3.6M888.7,1137.1v3.6" stroke="#555" stroke-width="0.6" opacity="0.7"/><text transform="translate(625.4,1142.2) scale(1.09,1)" text-anchor="end" font-size="9.4" font-weight="bold" fill="#111">cvae batch=10</text><path d="M626.0,1138.9h2.5" stroke="#444" stroke-width="0.6"/><text transform="translate(884.2,1141.7) scale(1.08,1)" font-size="7.5" font-weight="bold" fill="#111">18.678</text><rect x="628.50" y="1145.74" width="259.35" height="8.4" fill="#4572b0"/><path d="M881.9,1149.9H893.9M881.9,1148.1v3.6M893.9,1148.1v3.6" stroke="#555" stroke-width="0.6" opacity="0.7"/><text transform="translate(625.4,1153.2) scale(1.09,1)" text-anchor="end" font-size="9.4" font-weight="bold" fill="#111">vae batch=5</text><path d="M626.0,1149.9h2.5" stroke="#444" stroke-width="0.6"/><text transform="translate(889.4,1152.7) scale(1.08,1)" font-size="7.5" font-weight="bold" fill="#111">19.056</text><path d="M628.5,1170.8v3" stroke="#333" stroke-width="0.7"/><text x="628.5" y="1182.3" text-anchor="middle" font-size="9.6" fill="#333">0.0</text><path d="M662.5,1170.8v3" stroke="#333" stroke-width="0.7"/><text x="662.5" y="1182.3" text-anchor="middle" font-size="9.6" fill="#333">2.5</text><path d="M696.5,1170.8v3" stroke="#333" stroke-width="0.7"/><text x="696.5" y="1182.3" text-anchor="middle" font-size="9.6" fill="#333">5.0</text><path d="M730.6,1170.8v3" stroke="#333" stroke-width="0.7"/><text x="730.6" y="1182.3" text-anchor="middle" font-size="9.6" fill="#333">7.5</text><path d="M764.6,1170.8v3" stroke="#333" stroke-width="0.7"/><text x="764.6" y="1182.3" text-anchor="middle" font-size="9.6" fill="#333">10.0</text><path d="M798.6,1170.8v3" stroke="#333" stroke-width="0.7"/><text x="798.6" y="1182.3" text-anchor="middle" font-size="9.6" fill="#333">12.5</text><path d="M832.6,1170.8v3" stroke="#333" stroke-width="0.7"/><text x="832.6" y="1182.3" text-anchor="middle" font-size="9.6" fill="#333">15.0</text><path d="M866.7,1170.8v3" stroke="#333" stroke-width="0.7"/><text x="866.7" y="1182.3" text-anchor="middle" font-size="9.6" fill="#333">17.5</text><path d="M900.7,1170.8v3" stroke="#333" stroke-width="0.7"/><text x="900.7" y="1182.3" text-anchor="middle" font-size="9.6" fill="#333">20.0</text><text x="768.4" y="817.5" text-anchor="middle" font-size="12" font-weight="bold" fill="#111">Average Rankings (All)</text><text x="766.4" y="1192.8" text-anchor="middle" font-size="10.5" font-weight="bold" fill="#111">Average Ranking</text><text transform="translate(528,995) rotate(-90)" text-anchor="middle" font-size="10.5" font-weight="bold" fill="#111">Experiments</text></svg>
<div class="t" style="left:719px;top:1203.00px;font-size:21.3px;line-height:21.3px;color:#111;font-weight:normal;font-family:'Liberation Serif';transform:translateX(-50%);"><b>(b)</b> Rankings with error bars</div>
<svg style="left:170px;top:1490px" width="640" height="420" viewBox="170 1490 640 420"><path d="M267,1568H786" stroke="#e8e8e8" stroke-width="1"/><path d="M267,1627.9H786" stroke="#e8e8e8" stroke-width="1"/><path d="M267,1748.4H786" stroke="#e8e8e8" stroke-width="1"/><path d="M267,1808.2H786" stroke="#e8e8e8" stroke-width="1"/><path d="M267,1688H786" stroke="#444" stroke-width="1" stroke-dasharray="4,2.2"/><path d="M331.40,1533.21 C331.88,1539.02 333.03,1557.02 334.30,1568.04 C335.57,1579.05 337.60,1589.32 339.00,1599.29 C340.40,1609.26 340.98,1617.44 342.70,1627.86 C344.42,1638.27 347.75,1651.67 349.30,1661.79 C350.85,1671.90 351.50,1681.13 352.00,1688.57 C352.50,1696.01 352.45,1700.48 352.30,1706.43 C352.15,1712.38 351.90,1717.29 351.10,1724.29 C350.30,1731.28 349.00,1739.46 347.50,1748.39 C346.00,1757.32 343.88,1767.89 342.10,1777.86 C340.32,1787.83 338.13,1799.29 336.80,1808.21 C335.47,1817.14 334.70,1824.79 334.10,1831.43 C333.50,1838.07 333.35,1845.27 333.20,1848.04 L310.00,1848.04 C309.85,1845.27 309.70,1838.07 309.10,1831.43 C308.50,1824.79 307.73,1817.14 306.40,1808.21 C305.07,1799.29 302.88,1787.83 301.10,1777.86 C299.32,1767.89 297.20,1757.32 295.70,1748.39 C294.20,1739.46 292.90,1731.28 292.10,1724.29 C291.30,1717.29 291.05,1712.38 290.90,1706.43 C290.75,1700.48 290.70,1696.01 291.20,1688.57 C291.70,1681.13 292.35,1671.90 293.90,1661.79 C295.45,1651.67 298.78,1638.27 300.50,1627.86 C302.22,1617.44 302.80,1609.26 304.20,1599.29 C305.60,1589.32 307.63,1579.05 308.90,1568.04 C310.17,1557.02 311.32,1539.02 311.80,1533.21 Z" fill="#87b972"/><path d="M321.6,1533.2142857142858V1848.0357142857142M306.40000000000003,1533.2142857142858h30.4M306.40000000000003,1848.0357142857142h30.4M306.40000000000003,1698.4h30.4" stroke="#4a76b0" stroke-width="1.3" fill="none"/><circle cx="321.1" cy="1532.9" r="2.2" fill="#5a9b34" opacity="0.6"/><circle cx="325.7" cy="1687.7" r="2.2" fill="#5a9b34" opacity="0.6"/><circle cx="323.8" cy="1692.1" r="2.2" fill="#5a9b34" opacity="0.6"/><circle cx="331.4" cy="1740.7" r="2.2" fill="#5a9b34" opacity="0.6"/><circle cx="322.9" cy="1848.0" r="2.2" fill="#5a9b34" opacity="0.6"/><path d="M439.00,1644.29 C439.80,1645.71 442.02,1649.94 443.80,1652.86 C445.58,1655.77 447.83,1657.32 449.70,1661.79 C451.57,1666.25 454.40,1675.18 455.00,1679.64 C455.60,1684.11 454.55,1685.60 453.30,1688.57 C452.05,1691.55 449.25,1694.52 447.50,1697.50 C445.75,1700.48 444.22,1703.39 442.80,1706.43 C441.38,1709.46 439.63,1714.17 439.00,1715.71 L409.60,1715.71 C408.97,1714.17 407.22,1709.46 405.80,1706.43 C404.38,1703.39 402.85,1700.48 401.10,1697.50 C399.35,1694.52 396.55,1691.55 395.30,1688.57 C394.05,1685.60 393.00,1684.11 393.60,1679.64 C394.20,1675.18 397.03,1666.25 398.90,1661.79 C400.77,1657.32 403.02,1655.77 404.80,1652.86 C406.58,1649.94 408.80,1645.71 409.60,1644.29 Z" fill="#eba568"/><path d="M424.3,1644.2857142857142V1715.7142857142858M409.1,1644.2857142857142h30.4M409.1,1715.7142857142858h30.4M409.1,1679.1h30.4" stroke="#e07b22" stroke-width="1.3" fill="none"/><circle cx="411.8" cy="1644.3" r="2.2" fill="#e07b22" opacity="0.6"/><circle cx="424.3" cy="1663.9" r="2.2" fill="#e07b22" opacity="0.6"/><circle cx="422.5" cy="1676.1" r="2.2" fill="#e07b22" opacity="0.6"/><circle cx="415.9" cy="1683.2" r="2.2" fill="#e07b22" opacity="0.6"/><circle cx="431.4" cy="1692.5" r="2.2" fill="#e07b22" opacity="0.6"/><circle cx="425.7" cy="1715.7" r="2.2" fill="#e07b22" opacity="0.6"/><path d="M545.00,1643.04 C545.23,1646.16 545.13,1655.68 546.40,1661.79 C547.67,1667.89 550.80,1673.69 552.60,1679.64 C554.40,1685.60 556.68,1693.04 557.20,1697.50 C557.72,1701.96 556.38,1703.75 555.70,1706.43 C555.02,1709.11 553.53,1712.38 553.10,1713.57 L500.30,1713.57 C499.87,1712.38 498.38,1709.11 497.70,1706.43 C497.02,1703.75 495.68,1701.96 496.20,1697.50 C496.72,1693.04 499.00,1685.60 500.80,1679.64 C502.60,1673.69 505.73,1667.89 507.00,1661.79 C508.27,1655.68 508.17,1646.16 508.40,1643.04 Z" fill="#78a0cb"/><path d="M526.7,1643.0357142857142V1713.5714285714287M511.50000000000006,1643.0357142857142h30.4M511.50000000000006,1713.5714285714287h30.4M511.50000000000006,1682h30.4" stroke="#5a9b34" stroke-width="1.3" fill="none"/><circle cx="519.5" cy="1643.0" r="2.2" fill="#4674b0" opacity="0.6"/><circle cx="527.0" cy="1646.6" r="2.2" fill="#4674b0" opacity="0.6"/><circle cx="526.6" cy="1691.2" r="2.2" fill="#4674b0" opacity="0.6"/><circle cx="531.8" cy="1689.1" r="2.2" fill="#4674b0" opacity="0.6"/><circle cx="523.9" cy="1708.2" r="2.2" fill="#4674b0" opacity="0.6"/><circle cx="526.6" cy="1713.6" r="2.2" fill="#4674b0" opacity="0.6"/><path d="M643.60,1630.00 C644.17,1635.30 645.92,1652.02 647.00,1661.79 C648.08,1671.55 648.82,1678.15 650.10,1688.57 C651.38,1698.99 653.03,1712.38 654.70,1724.29 C656.37,1736.19 659.33,1751.07 660.10,1760.00 C660.87,1768.93 659.72,1772.89 659.30,1777.86 C658.88,1782.83 657.88,1787.83 657.60,1789.82 L601.00,1789.82 C600.72,1787.83 599.72,1782.83 599.30,1777.86 C598.88,1772.89 597.73,1768.93 598.50,1760.00 C599.27,1751.07 602.23,1736.19 603.90,1724.29 C605.57,1712.38 607.22,1698.99 608.50,1688.57 C609.78,1678.15 610.52,1671.55 611.60,1661.79 C612.68,1652.02 614.43,1635.30 615.00,1630.00 Z" fill="#c96b6b"/><path d="M629.3,1630.0V1789.8214285714287M614.0999999999999,1630.0h30.4M614.0999999999999,1789.8214285714287h30.4M614.0999999999999,1732h30.4" stroke="#b7292b" stroke-width="1.3" fill="none"/><circle cx="627.1" cy="1630.0" r="2.2" fill="#b7292b" opacity="0.6"/><circle cx="629.8" cy="1688.2" r="2.2" fill="#b7292b" opacity="0.6"/><circle cx="627.1" cy="1722.0" r="2.2" fill="#b7292b" opacity="0.6"/><circle cx="625.0" cy="1775.5" r="2.2" fill="#b7292b" opacity="0.6"/><circle cx="626.2" cy="1785.0" r="2.2" fill="#b7292b" opacity="0.6"/><circle cx="626.8" cy="1789.8" r="2.2" fill="#b7292b" opacity="0.6"/><path d="M753.90,1593.93 C754.65,1596.61 756.95,1603.15 758.40,1610.00 C759.85,1616.85 762.32,1628.45 762.60,1635.00 C762.88,1641.55 761.47,1645.36 760.10,1649.29 C758.73,1653.21 755.35,1657.02 754.40,1658.57 L709.80,1658.57 C708.85,1657.02 705.47,1653.21 704.10,1649.29 C702.73,1645.36 701.32,1641.55 701.60,1635.00 C701.88,1628.45 704.35,1616.85 705.80,1610.00 C707.25,1603.15 709.55,1596.61 710.30,1593.93 Z" fill="#a994cd"/><path d="M732.1,1593.9285714285713V1658.5714285714287M716.9,1593.9285714285713h30.4M716.9,1658.5714285714287h30.4M716.9,1625.7h30.4" stroke="#8a64bb" stroke-width="1.3" fill="none"/><circle cx="734.3" cy="1593.0" r="2.2" fill="#8a64bb" opacity="0.6"/><circle cx="739.3" cy="1595.7" r="2.2" fill="#8a64bb" opacity="0.6"/><circle cx="737.9" cy="1623.9" r="2.2" fill="#8a64bb" opacity="0.6"/><circle cx="735.2" cy="1635.9" r="2.2" fill="#8a64bb" opacity="0.6"/><circle cx="726.2" cy="1646.1" r="2.2" fill="#8a64bb" opacity="0.6"/><circle cx="732.9" cy="1658.6" r="2.2" fill="#8a64bb" opacity="0.6"/><rect x="267.1" y="1517.5" width="519.3" height="346.1" fill="none" stroke="#666" stroke-width="1.1"/><path d="M263,1568h4" stroke="#333" stroke-width="0.8"/><text x="261" y="1572.6" text-anchor="end" font-size="13" fill="#111">0.002</text><path d="M263,1627.9h4" stroke="#333" stroke-width="0.8"/><text x="261" y="1632.5" text-anchor="end" font-size="13" fill="#111">0.001</text><path d="M263,1688h4" stroke="#333" stroke-width="0.8"/><text x="261" y="1692.6" text-anchor="end" font-size="13" fill="#111">0.000</text><path d="M263,1748.4h4" stroke="#333" stroke-width="0.8"/><text x="261" y="1753.0" text-anchor="end" font-size="13" fill="#111">−0.001</text><path d="M263,1808.2h4" stroke="#333" stroke-width="0.8"/><text x="261" y="1812.8" text-anchor="end" font-size="13" fill="#111">−0.002</text><path d="M321.6,1863.6v4" stroke="#333" stroke-width="0.8"/><text transform="translate(321.6,1887.5) scale(1.1,1)" text-anchor="middle" font-size="26.5" font-weight="bold" fill="#000">vae</text><path d="M424.3,1863.6v4" stroke="#333" stroke-width="0.8"/><text transform="translate(424.3,1887.5) scale(1.1,1)" text-anchor="middle" font-size="26.5" font-weight="bold" fill="#000">cmim</text><path d="M526.7,1863.6v4" stroke="#333" stroke-width="0.8"/><text transform="translate(526.7,1887.5) scale(1.1,1)" text-anchor="middle" font-size="26.5" font-weight="bold" fill="#000">mim</text><path d="M629.3,1863.6v4" stroke="#333" stroke-width="0.8"/><text transform="translate(629.3,1887.5) scale(1.1,1)" text-anchor="middle" font-size="26.5" font-weight="bold" fill="#000">cvae</text><path d="M732.1,1863.6v4" stroke="#333" stroke-width="0.8"/><text transform="translate(732.1,1887.5) scale(1.1,1)" text-anchor="middle" font-size="26.5" font-weight="bold" fill="#000">info_nce</text><text x="526.8" y="1513.6" text-anchor="middle" font-size="15" font-weight="bold" fill="#000" textLength="321" lengthAdjust="spacingAndGlyphs">Distribution of Slopes by Model Type</text><text transform="translate(209.5,1690.6) rotate(-90)" text-anchor="middle" font-size="14.2" font-weight="bold" fill="#000" textLength="338" lengthAdjust="spacingAndGlyphs">Slope (Z-score change per batch size unit)</text></svg>
<div class="t" style="left:500px;top:1921.00px;font-size:23.5px;line-height:23.5px;color:#585858;font-weight:normal;font-family:'Liberation Sans';letter-spacing:0.519px;transform:translateX(-50%);">Distribution of slopes from linear fits of accuracy (z-score) vs. batch size</div>
<svg style="left:60px;top:2230px" width="880" height="260" viewBox="60 2230 880 260"><path d="M171.8,2396.5 Q157,2362 168.5,2336" stroke="#111" stroke-width="1.1" fill="none"/><path d="M172.5,2327.5L172.0,2339.4L163.8,2335.6Z" fill="#000"/><path d="M295.4,2330.4 Q310,2362 299,2388" stroke="#111" stroke-width="1.1" fill="none"/><path d="M295.5,2396.5L296.0,2384.6L304.2,2388.4Z" fill="#000"/><path d="M387.1,2333.1V2393.4" stroke="#111" stroke-width="1.1"/><circle cx="182.2" cy="2312" r="21.1" fill="#fff" stroke="#222" stroke-width="1.1"/><text x="182.2" y="2318.5" text-anchor="middle" font-family="Liberation Serif" font-style="italic" font-weight="bold" font-size="23" fill="#000">z</text><circle cx="182.2" cy="2414.5" r="21.1" fill="#e0e0e0" stroke="#222" stroke-width="1.1"/><text x="182.2" y="2421.0" text-anchor="middle" font-family="Liberation Serif" font-style="italic" font-weight="bold" font-size="23" fill="#000">x</text><circle cx="284.5" cy="2312" r="21.1" fill="#fff" stroke="#222" stroke-width="1.1"/><text x="284.5" y="2318.5" text-anchor="middle" font-family="Liberation Serif" font-style="italic" font-weight="bold" font-size="23" fill="#000">z</text><circle cx="284.5" cy="2414.5" r="21.1" fill="#e0e0e0" stroke="#222" stroke-width="1.1"/><text x="284.5" y="2421.0" text-anchor="middle" font-family="Liberation Serif" font-style="italic" font-weight="bold" font-size="23" fill="#000">x</text><circle cx="387.1" cy="2312" r="21.1" fill="#fff" stroke="#222" stroke-width="1.1"/><text x="387.1" y="2318.5" text-anchor="middle" font-family="Liberation Serif" font-style="italic" font-weight="bold" font-size="23" fill="#000">z</text><circle cx="387.1" cy="2414.5" r="21.1" fill="#e0e0e0" stroke="#222" stroke-width="1.1"/><text x="387.1" y="2421.0" text-anchor="middle" font-family="Liberation Serif" font-style="italic" font-weight="bold" font-size="23" fill="#000">x</text><path d="M527.8,2397.2L569.9,2336.7" stroke="#111" stroke-width="1.1" fill="none"/><path d="M575.1,2329.3L572.5,2340.9L565.1,2335.8Z" fill="#000"/><path d="M536.9,2414.5L628.9,2414.5" stroke="#111" stroke-width="1.1" fill="none"/><path d="M637.9,2414.5L626.9,2419.0L626.9,2410.0Z" fill="#000"/><path d="M599.2,2329.3L641.7,2389.9" stroke="#111" stroke-width="1.1" fill="none"/><path d="M646.9,2397.2L636.9,2390.8L644.3,2385.6Z" fill="#000"/><path d="M821.4,2329.3L778.9,2389.9" stroke="#111" stroke-width="1.1" fill="none"/><path d="M773.7,2397.2L776.3,2385.6L783.7,2390.8Z" fill="#000"/><path d="M845.5,2329.3L887.6,2389.8" stroke="#111" stroke-width="1.1" fill="none"/><path d="M892.8,2397.2L882.8,2390.7L890.2,2385.6Z" fill="#000"/><path d="M782.7,2414.5L874.7,2414.5" stroke="#111" stroke-width="1.1" fill="none"/><path d="M883.7,2414.5L872.7,2419.0L872.7,2410.0Z" fill="#000"/><circle cx="587.1" cy="2312" r="21.1" fill="#fff" stroke="#222" stroke-width="1.1"/><text x="587.1" y="2318.5" text-anchor="middle" font-family="Liberation Serif" font-style="italic" font-weight="bold" font-size="23" fill="#000">z</text><circle cx="515.8" cy="2414.5" r="21.1" fill="#e0e0e0" stroke="#222" stroke-width="1.1"/><text x="515.8" y="2421.0" text-anchor="middle" font-family="Liberation Serif" font-style="italic" font-weight="bold" font-size="23" fill="#000">x</text><circle cx="659" cy="2414.5" r="21.1" fill="#e0e0e0" stroke="#222" stroke-width="1.1"/><text x="659" y="2421.5" text-anchor="middle" font-family="Liberation Serif" font-size="22" fill="#000">k</text><circle cx="833.5" cy="2312" r="21.1" fill="#fff" stroke="#222" stroke-width="1.1"/><text x="833.5" y="2318.5" text-anchor="middle" font-family="Liberation Serif" font-style="italic" font-weight="bold" font-size="23" fill="#000">z</text><circle cx="761.6" cy="2414.5" r="21.1" fill="#e0e0e0" stroke="#222" stroke-width="1.1"/><text x="761.6" y="2421.0" text-anchor="middle" font-family="Liberation Serif" font-style="italic" font-weight="bold" font-size="23" fill="#000">x</text><circle cx="904.8" cy="2414.5" r="21.1" fill="#e0e0e0" stroke="#222" stroke-width="1.1"/><text x="904.8" y="2421.5" text-anchor="middle" font-family="Liberation Serif" font-size="22" fill="#000">k</text><ellipse cx="183.2" cy="2360.2" rx="56.9" ry="84" fill="none" stroke="#86b424" stroke-width="3.6" transform="rotate(-4 183.2 2360.2)"/><ellipse cx="710.7" cy="2413.2" rx="100.2" ry="56.5" fill="none" stroke="#86b424" stroke-width="3.6" transform="rotate(3 710.7 2413.2)"/><path d="M217.3,2288.1 Q232,2275 251,2266" stroke="#86b424" stroke-width="3" fill="none"/><path d="M259.6,2262.1 L246,2258 L253,2273 Z" fill="#86b424"/><path d="M705.3,2353.8 Q707,2320 714,2302" stroke="#86b424" stroke-width="3" fill="none"/><path d="M719,2290.7 L707,2305 L723,2306 Z" fill="#86b424"/></svg>
<div class="t" style="left:263.5px;top:2241.80px;font-size:19px;line-height:19px;color:#86b424;font-weight:normal;font-family:'Liberation Sans';letter-spacing:0.689px;">local clustering</div>
<div class="t" style="left:331px;top:2267.80px;font-size:19px;line-height:19px;color:#86b424;font-weight:normal;font-family:'Liberation Sans';transform:translateX(-50%);">(MIM)</div>
<div class="t" style="left:620.2px;top:2244.00px;font-size:19px;line-height:19px;color:#86b424;font-weight:normal;font-family:'Liberation Sans';letter-spacing:0.525px;">global angular separation</div>
<div class="t" style="left:732.9px;top:2267.40px;font-size:19px;line-height:19px;color:#86b424;font-weight:normal;font-family:'Liberation Sans';transform:translateX(-50%);">(cMIM)</div>
<div class="t" style="left:182.2px;top:2452.00px;font-size:20px;line-height:20px;color:#111;font-weight:normal;font-family:'Liberation Serif';transform:translateX(-50%);">(a)</div>
<div class="t" style="left:284.5px;top:2452.00px;font-size:20px;line-height:20px;color:#111;font-weight:normal;font-family:'Liberation Serif';transform:translateX(-50%);">(b)</div>
<div class="t" style="left:387.1px;top:2452.00px;font-size:20px;line-height:20px;color:#111;font-weight:normal;font-family:'Liberation Serif';transform:translateX(-50%);">(c)</div>
<div class="t" style="left:587.1px;top:2452.00px;font-size:20px;line-height:20px;color:#111;font-weight:normal;font-family:'Liberation Serif';transform:translateX(-50%);">(d)</div>
<div class="t" style="left:833.5px;top:2452.00px;font-size:20px;line-height:20px;color:#111;font-weight:normal;font-family:'Liberation Serif';transform:translateX(-50%);">(e)</div>
<div class="t" style="left:74px;top:2512.30px;font-size:20.4px;line-height:20.4px;color:#111;font-weight:normal;font-family:'Liberation Serif';letter-spacing:0.311px;">Figure 1: (Left) A MIM model learns two factorizations of a joint distribution (encoding/decoding)</div>
<div class="t" style="left:74px;top:2535.30px;font-size:20.4px;line-height:20.4px;color:#111;font-weight:normal;font-family:'Liberation Serif';letter-spacing:0.426px;">and an undirected joint. (Right) cMIM extends MIM with a binary variable k to encourage global</div>
<div class="t" style="left:74px;top:2558.30px;font-size:20.4px;line-height:20.4px;color:#111;font-weight:normal;font-family:'Liberation Serif';letter-spacing:0.242px;">discriminative structure while preserving local clustering.</div>
<div style="position:absolute;left:79px;top:2628px;width:833px;height:1.6px;background:#111"></div>
<div style="position:absolute;left:79px;top:2659px;width:833px;height:1px;background:#333"></div>
<div style="position:absolute;left:79px;top:2813.2px;width:833px;height:1px;background:#333"></div>
<div class="t" style="left:79.5px;top:2633.20px;font-size:19.5px;line-height:19.5px;color:#111;font-weight:normal;font-family:'Liberation Serif';letter-spacing:1.094px;"><b>Algorithm 1</b> Learning parameters <i>θ</i> of cMIM</div>
<div class="t" style="left:80.7px;top:2667.00px;font-size:19.5px;line-height:19.5px;color:#111;font-weight:normal;font-family:'Liberation Serif';letter-spacing:0.256px;"><b>Require:</b>&nbsp; Samples from dataset <i>p</i>(<b><i>x</i></b>)</div>
<div class="t" style="left:88px;top:2688.60px;font-size:19.5px;line-height:19.5px;color:#111;font-weight:normal;font-family:'Liberation Serif';letter-spacing:0.466px;">1:&nbsp; <b>while</b> not converged <b>do</b></div>
<div class="t" style="left:88px;top:2711.60px;font-size:19.5px;line-height:19.5px;color:#111;font-weight:normal;font-family:'Liberation Serif';">2:</div>
<div class="t" style="left:135px;top:2709.41px;font-size:19.5px;line-height:19.5px;color:#111;font-weight:normal;font-family:'Liberation Serif';transform-origin:0 0;transform: scaleX(1.1709);"><i>D</i> ← {<b><i>x</i></b><sub>j</sub>, <b><i>z</i></b><sub>j</sub> ~ <i>q</i><sub>θ</sub>(<b><i>z</i></b> | <b><i>x</i></b>) <i>p</i>(<b><i>x</i></b>)}<span class="ss"><sup>B</sup><sub>j=1</sub></span> {Sample a batch}</div>
<div class="t" style="left:88px;top:2736.50px;font-size:19.5px;line-height:19.5px;color:#111;font-weight:normal;font-family:'Liberation Serif';">3:</div>
<div class="t" style="left:135px;top:2732.98px;font-size:19.5px;line-height:19.5px;color:#111;font-weight:normal;font-family:'Liberation Serif';transform-origin:0 0;transform: scaleX(1.2281);"><span class="hat">L</span><sub>A-MIM</sub> = −<span class="fr"><span>1</span><span>B</span></span> ∑<span class="ss"><sup>B</sup><sub>i=1</sub></span> ( log <i>p</i><sub>θ</sub>(<b><i>x</i></b><sub>i</sub> | <b><i>z</i></b><sub>i</sub>) + log <i>p</i><sub>k=1</sub>(<b><i>x</i></b><sub>i</sub>, <b><i>z</i></b><sub>i</sub>) + <span class="fr"><span>1</span><span>2</span></span>(log <i>q</i><sub>θ</sub>(<b><i>z</i></b><sub>i</sub> | <b><i>x</i></b><sub>i</sub>) + log <i>p</i>(<b><i>z</i></b><sub>i</sub>)))</div>
<div class="t" style="left:88px;top:2765.80px;font-size:19.5px;line-height:19.5px;color:#111;font-weight:normal;font-family:'Liberation Serif';">4:</div>
<div class="t" style="left:135px;top:2765.80px;font-size:19.5px;line-height:19.5px;color:#111;font-weight:normal;font-family:'Liberation Serif';transform-origin:0 0;transform: scaleX(1.0516);"><i>θ</i> ← <i>θ</i> − <i>η</i> <span class="nab">Δ</span><sub>θ</sub><span class="hat">L</span><sub>A-MIM</sub> {Reparameterized gradients}</div>
<div class="t" style="left:88px;top:2787.50px;font-size:19.5px;line-height:19.5px;color:#111;font-weight:normal;font-family:'Liberation Serif';letter-spacing:1.370px;">5:&nbsp; <b>end while</b></div>
<div class="tri" style="left:980px;top:447.5px"></div>
<div class="t" style="left:1010.8px;top:443.90px;font-size:23.5px;line-height:23.5px;color:#555;font-weight:normal;font-family:'Liberation Sans';letter-spacing:0.184px;"><span class="g">MIM (A-MIM) objective (empirical):</span></div>
<div class="t" style="left:996px;top:475.81px;font-size:25px;line-height:25px;color:#111;font-weight:normal;font-family:'Liberation Serif';transform-origin:0 0;transform: scaleX(1.1589);"><span class="hat">L</span><sub>A-MIM</sub> = −<span class="fr"><span>1</span><span><i>N</i></span></span> <span class="op"><span class="lim"><i>N</i></span><span class="sym">∑</span><span class="lim"><i>i</i>=1</span></span> <span class="bp">(</span> log <i>p</i><sub><i>θ</i></sub>(<b><i>x</i></b><sub><i>i</i></sub> | <b><i>z</i></b><sub><i>i</i></sub>) + <span class="fr"><span>1</span><span>2</span></span>(log <i>q</i><sub><i>θ</i></sub>(<b><i>z</i></b><sub><i>i</i></sub> | <b><i>x</i></b><sub><i>i</i></sub>) + log <i>p</i>(<b><i>z</i></b><sub><i>i</i></sub>))<span class="bp">)</span>.</div>
<div class="t" style="left:1846px;top:499.70px;font-size:25px;line-height:25px;color:#111;font-weight:normal;font-family:'Liberation Serif';transform:translateX(-100%);">(1)</div>
<div class="t" style="left:980px;top:580.10px;font-size:23.5px;line-height:23.5px;color:#585858;font-weight:normal;font-family:'Liberation Sans';letter-spacing:0.425px;"><b>Intuition:</b> Maximize MI between x and z while inducing clustering of latent codes.</div>
<div class="tri" style="left:980px;top:624.5px"></div>
<div class="t" style="left:1010.8px;top:620.50px;font-size:23.5px;line-height:23.5px;color:#555;font-weight:normal;font-family:'Liberation Sans';letter-spacing:0.039px;"><span class="g">Contrastive probability (in-batch negatives):</span></div>
<div class="t" style="left:998.2px;top:681.80px;font-size:25px;line-height:25px;color:#111;font-weight:normal;font-family:'Liberation Serif';transform-origin:0 0;transform: scaleX(1.3122);"><i>p</i><sub><i>k</i>=1</sub>(<b><i>x</i></b><sub><i>i</i></sub>, <b><i>z</i></b><sub><i>i</i></sub>) =</div>
<div class="t" style="left:1332.5px;top:667.10px;font-size:25px;line-height:25px;color:#111;font-weight:normal;font-family:'Liberation Serif';transform-origin:0 0;transform: scaleX(1.1829);">exp(sim(<b><i>z</i></b><sub><i>i</i></sub>, <b><i>z</i></b><sub><i>i</i></sub>)/<i>τ</i>)</div>
<div style="position:absolute;left:1162px;top:696.8px;width:536px;height:1.2px;background:#111"></div>
<div class="t" style="left:1163px;top:697.27px;font-size:25px;line-height:25px;color:#111;font-weight:normal;font-family:'Liberation Serif';transform-origin:0 0;transform: scaleX(1.2306);">exp(sim(<b><i>z</i></b><sub><i>i</i></sub>, <b><i>z</i></b><sub><i>i</i></sub>)/<i>τ</i>) + <span class="fr"><span>1</span><span><i>B</i>−1</span></span> ∑<sub><i>j</i>≠<i>i</i></sub> exp(sim(<b><i>z</i></b><sub><i>i</i></sub>, <b><i>z</i></b><sub><i>j</i></sub>)/<i>τ</i>)</div>
<div class="t" style="left:1701px;top:681.80px;font-size:25px;line-height:25px;color:#111;font-weight:normal;font-family:'Liberation Serif';">.</div>
<div class="t" style="left:1846px;top:681.80px;font-size:25px;line-height:25px;color:#111;font-weight:normal;font-family:'Liberation Serif';transform:translateX(-100%);">(2)</div>
<div class="t" style="left:980px;top:769.70px;font-size:23.5px;line-height:23.5px;color:#585858;font-weight:normal;font-family:'Liberation Sans';letter-spacing:0.489px;">Where in-batch negatives approximate expectation over all other samples.</div>
<div class="t" style="left:980px;top:809.80px;font-size:23.5px;line-height:23.5px;color:#585858;font-weight:normal;font-family:'Liberation Sans';letter-spacing:0.302px;"><b>Effect:</b> Separates dissimilar samples in angle while MIM keeps similar ones close</div>
<div class="t" style="left:980px;top:839.90px;font-size:23.5px;line-height:23.5px;color:#585858;font-weight:normal;font-family:'Liberation Sans';letter-spacing:0.264px;">in Euclidean distance. No explicit positives are needed.</div>
<div class="t" style="left:980px;top:880.10px;font-size:23.5px;line-height:23.5px;color:#585858;font-weight:normal;font-family:'Liberation Sans';letter-spacing:0.404px;"><b>Calibration:</b> When logits are equal,&nbsp; the probability for k=1 is 1/2 (independent of</div>
<div class="t" style="left:980px;top:909.70px;font-size:23.5px;line-height:23.5px;color:#585858;font-weight:normal;font-family:'Liberation Sans';letter-spacing:0.259px;">batch size B), vs. 1/B for standard InfoNCE. This helps batch size robustness.</div>
<div class="tri" style="left:980px;top:954px"></div>
<div class="t" style="left:1010.8px;top:949.90px;font-size:23.5px;line-height:23.5px;color:#555;font-weight:normal;font-family:'Liberation Sans';letter-spacing:-0.460px;"><span class="g">cMIM loss:</span></div>
<div class="t" style="left:1137.3px;top:982.31px;font-size:25px;line-height:25px;color:#111;font-weight:normal;font-family:'Liberation Serif';transform-origin:0 0;transform: scaleX(1.1449);"><span class="hat">L</span><sub>cMIM</sub> = <span class="hat">L</span><sub>A-MIM</sub> − <span class="fr"><span>1</span><span><i>N</i></span></span> <span class="op"><span class="lim"><i>N</i></span><span class="sym">∑</span><span class="lim"><i>i</i>=1</span></span>log <i>p</i><sub><i>k</i>=1</sub>(<b><i>x</i></b><sub><i>i</i></sub>, <b><i>z</i></b><sub><i>i</i></sub>).</div>
<div class="t" style="left:1854px;top:1006.20px;font-size:25px;line-height:25px;color:#111;font-weight:normal;font-family:'Liberation Serif';transform:translateX(-100%);">(3)</div>
<svg style="left:1030px;top:1130px" width="760" height="340" viewBox="1030 1130 760 340"><rect x="1098.5" y="1158" width="46" height="174.5" fill="#dde8d3" stroke="#333" stroke-width="1"/><path d="M1155.9,1158.7 L1268,1193.1 L1268,1297.6 L1155.9,1332.5 Z" fill="#e9c9cd" stroke="#333" stroke-width="1"/><path d="M1499.3,1190.1 L1610.5,1155.8 L1610.5,1328.9 L1499.3,1293.7 Z" fill="#d5e1f1" stroke="#333" stroke-width="1"/><rect x="1622.5" y="1157.9" width="46.1" height="174.5" fill="#dde8d3" stroke="#333" stroke-width="1"/><rect x="1354.7" y="1192.2" width="134.3" height="99.2" fill="#fff" stroke="#333" stroke-width="1"/><g transform="rotate(0 1386.6 1206.2)"><ellipse cx="1386.6" cy="1206.2" rx="13.1" ry="6.5" fill="#3d82c0" opacity="0.8"/><path d="M1384.8,1208.0h0.9v0.9h-0.9zM1385.0,1205.1h0.9v0.9h-0.9zM1379.9,1205.4h0.9v0.9h-0.9zM1394.6,1207.7h0.9v0.9h-0.9zM1394.1,1207.1h0.9v0.9h-0.9zM1389.4,1206.9h0.9v0.9h-0.9zM1374.6,1209.2h0.9v0.9h-0.9zM1390.2,1208.0h0.9v0.9h-0.9zM1374.4,1200.0h0.9v0.9h-0.9zM1380.2,1204.5h0.9v0.9h-0.9zM1388.8,1206.0h0.9v0.9h-0.9zM1390.4,1203.9h0.9v0.9h-0.9zM1388.8,1207.6h0.9v0.9h-0.9zM1381.8,1212.3h0.9v0.9h-0.9zM1390.6,1210.5h0.9v0.9h-0.9zM1382.1,1203.6h0.9v0.9h-0.9zM1384.1,1205.8h0.9v0.9h-0.9zM1391.2,1207.1h0.9v0.9h-0.9zM1383.4,1202.8h0.9v0.9h-0.9zM1382.9,1210.5h0.9v0.9h-0.9zM1380.8,1207.1h0.9v0.9h-0.9zM1389.7,1200.9h0.9v0.9h-0.9zM1386.9,1210.8h0.9v0.9h-0.9zM1372.1,1205.1h0.9v0.9h-0.9zM1385.8,1203.3h0.9v0.9h-0.9zM1390.2,1206.0h0.9v0.9h-0.9zM1376.1,1209.1h0.9v0.9h-0.9zM1391.4,1209.6h0.9v0.9h-0.9zM1397.0,1207.5h0.9v0.9h-0.9zM1387.5,1201.6h0.9v0.9h-0.9zM1391.0,1204.0h0.9v0.9h-0.9zM1383.3,1201.7h0.9v0.9h-0.9zM1379.6,1204.3h0.9v0.9h-0.9zM1395.9,1199.0h0.9v0.9h-0.9zM1376.1,1207.1h0.9v0.9h-0.9zM1397.0,1208.3h0.9v0.9h-0.9zM1372.9,1197.2h0.9v0.9h-0.9zM1389.2,1203.6h0.9v0.9h-0.9zM1378.5,1209.7h0.9v0.9h-0.9zM1394.5,1206.8h0.9v0.9h-0.9zM1388.4,1207.7h0.9v0.9h-0.9zM1398.1,1208.4h0.9v0.9h-0.9zM1390.3,1208.1h0.9v0.9h-0.9zM1375.3,1210.8h0.9v0.9h-0.9zM1393.5,1208.1h0.9v0.9h-0.9zM1372.4,1203.9h0.9v0.9h-0.9zM1392.7,1199.8h0.9v0.9h-0.9zM1385.3,1209.8h0.9v0.9h-0.9zM1377.2,1211.9h0.9v0.9h-0.9zM1390.6,1205.7h0.9v0.9h-0.9zM1388.9,1208.5h0.9v0.9h-0.9zM1387.5,1210.3h0.9v0.9h-0.9zM1381.8,1204.7h0.9v0.9h-0.9zM1394.1,1206.3h0.9v0.9h-0.9zM1380.3,1209.6h0.9v0.9h-0.9zM1397.2,1204.6h0.9v0.9h-0.9zM1376.7,1205.7h0.9v0.9h-0.9zM1385.5,1205.1h0.9v0.9h-0.9zM1396.7,1202.5h0.9v0.9h-0.9zM1395.7,1201.7h0.9v0.9h-0.9zM1380.9,1208.4h0.9v0.9h-0.9zM1394.7,1209.3h0.9v0.9h-0.9zM1389.1,1206.7h0.9v0.9h-0.9zM1387.7,1208.2h0.9v0.9h-0.9zM1385.3,1207.2h0.9v0.9h-0.9zM1390.7,1206.2h0.9v0.9h-0.9zM1392.1,1208.2h0.9v0.9h-0.9zM1401.1,1207.4h0.9v0.9h-0.9zM1383.5,1204.9h0.9v0.9h-0.9zM1386.5,1209.5h0.9v0.9h-0.9zM1384.2,1207.6h0.9v0.9h-0.9zM1399.8,1197.1h0.9v0.9h-0.9zM1378.5,1207.1h0.9v0.9h-0.9zM1389.5,1207.0h0.9v0.9h-0.9zM1383.5,1208.5h0.9v0.9h-0.9zM1388.6,1204.3h0.9v0.9h-0.9zM1404.1,1207.5h0.9v0.9h-0.9zM1382.6,1205.8h0.9v0.9h-0.9zM1385.0,1206.0h0.9v0.9h-0.9zM1367.0,1204.5h0.9v0.9h-0.9zM1393.9,1202.0h0.9v0.9h-0.9zM1386.1,1209.6h0.9v0.9h-0.9zM1392.8,1211.5h0.9v0.9h-0.9zM1374.3,1204.9h0.9v0.9h-0.9zM1384.1,1208.4h0.9v0.9h-0.9zM1394.5,1196.7h0.9v0.9h-0.9zM1394.4,1201.1h0.9v0.9h-0.9zM1391.5,1200.9h0.9v0.9h-0.9zM1387.9,1210.4h0.9v0.9h-0.9zM1385.5,1206.9h0.9v0.9h-0.9zM1392.3,1206.7h0.9v0.9h-0.9zM1386.0,1211.7h0.9v0.9h-0.9zM1394.1,1205.2h0.9v0.9h-0.9zM1406.4,1202.1h0.9v0.9h-0.9zM1393.2,1205.3h0.9v0.9h-0.9zM1387.6,1208.7h0.9v0.9h-0.9zM1388.2,1208.5h0.9v0.9h-0.9zM1375.6,1200.8h0.9v0.9h-0.9zM1391.0,1202.8h0.9v0.9h-0.9zM1379.2,1201.0h0.9v0.9h-0.9zM1395.7,1208.9h0.9v0.9h-0.9zM1397.2,1202.9h0.9v0.9h-0.9zM1386.6,1202.1h0.9v0.9h-0.9zM1392.1,1211.9h0.9v0.9h-0.9zM1380.2,1211.7h0.9v0.9h-0.9zM1393.7,1205.6h0.9v0.9h-0.9zM1372.4,1211.2h0.9v0.9h-0.9zM1385.9,1204.1h0.9v0.9h-0.9zM1389.5,1207.7h0.9v0.9h-0.9zM1397.4,1202.6h0.9v0.9h-0.9zM1394.8,1211.5h0.9v0.9h-0.9zM1397.1,1205.6h0.9v0.9h-0.9zM1381.2,1209.8h0.9v0.9h-0.9zM1387.4,1206.6h0.9v0.9h-0.9zM1396.9,1205.3h0.9v0.9h-0.9zM1370.1,1204.8h0.9v0.9h-0.9zM1373.3,1209.1h0.9v0.9h-0.9zM1388.9,1204.0h0.9v0.9h-0.9zM1386.5,1209.2h0.9v0.9h-0.9zM1387.2,1210.9h0.9v0.9h-0.9z" fill="#3d82c0"/></g><g transform="rotate(0 1419.9 1205.1)"><ellipse cx="1419.9" cy="1205.1" rx="9.2" ry="9.6" fill="#dc80cc" opacity="0.8"/><path d="M1419.6,1210.6h0.9v0.9h-0.9zM1427.4,1213.6h0.9v0.9h-0.9zM1416.5,1209.7h0.9v0.9h-0.9zM1410.4,1199.4h0.9v0.9h-0.9zM1410.0,1210.7h0.9v0.9h-0.9zM1413.7,1205.0h0.9v0.9h-0.9zM1418.9,1204.9h0.9v0.9h-0.9zM1416.9,1206.3h0.9v0.9h-0.9zM1428.9,1205.3h0.9v0.9h-0.9zM1422.6,1210.4h0.9v0.9h-0.9zM1418.9,1198.5h0.9v0.9h-0.9zM1417.1,1210.8h0.9v0.9h-0.9zM1411.6,1202.0h0.9v0.9h-0.9zM1425.0,1209.3h0.9v0.9h-0.9zM1419.9,1209.3h0.9v0.9h-0.9zM1420.7,1198.9h0.9v0.9h-0.9zM1412.0,1201.7h0.9v0.9h-0.9zM1424.6,1202.1h0.9v0.9h-0.9zM1415.4,1201.0h0.9v0.9h-0.9zM1412.2,1204.5h0.9v0.9h-0.9zM1414.0,1207.0h0.9v0.9h-0.9zM1408.0,1206.8h0.9v0.9h-0.9zM1416.7,1194.9h0.9v0.9h-0.9zM1423.6,1203.6h0.9v0.9h-0.9zM1408.7,1200.5h0.9v0.9h-0.9zM1421.4,1202.7h0.9v0.9h-0.9zM1423.8,1209.0h0.9v0.9h-0.9zM1423.3,1206.8h0.9v0.9h-0.9zM1426.6,1208.6h0.9v0.9h-0.9zM1422.2,1194.1h0.9v0.9h-0.9zM1424.4,1212.0h0.9v0.9h-0.9zM1418.4,1202.6h0.9v0.9h-0.9zM1429.7,1195.8h0.9v0.9h-0.9zM1422.3,1217.9h0.9v0.9h-0.9zM1415.2,1208.7h0.9v0.9h-0.9zM1429.4,1204.5h0.9v0.9h-0.9zM1422.7,1209.9h0.9v0.9h-0.9zM1415.3,1204.6h0.9v0.9h-0.9zM1421.4,1209.4h0.9v0.9h-0.9zM1419.7,1204.1h0.9v0.9h-0.9zM1414.8,1203.2h0.9v0.9h-0.9zM1424.4,1205.6h0.9v0.9h-0.9zM1415.6,1200.7h0.9v0.9h-0.9zM1433.3,1211.1h0.9v0.9h-0.9zM1423.1,1191.4h0.9v0.9h-0.9zM1423.0,1207.6h0.9v0.9h-0.9zM1428.4,1207.4h0.9v0.9h-0.9zM1419.6,1207.9h0.9v0.9h-0.9zM1410.1,1210.5h0.9v0.9h-0.9zM1421.5,1201.4h0.9v0.9h-0.9zM1426.6,1214.6h0.9v0.9h-0.9zM1412.8,1201.6h0.9v0.9h-0.9zM1421.4,1206.1h0.9v0.9h-0.9zM1417.9,1200.0h0.9v0.9h-0.9zM1430.6,1210.6h0.9v0.9h-0.9zM1413.9,1198.0h0.9v0.9h-0.9zM1428.5,1210.3h0.9v0.9h-0.9zM1429.1,1209.4h0.9v0.9h-0.9zM1415.5,1206.5h0.9v0.9h-0.9zM1409.0,1201.2h0.9v0.9h-0.9zM1419.6,1207.9h0.9v0.9h-0.9zM1416.2,1204.4h0.9v0.9h-0.9zM1422.2,1207.1h0.9v0.9h-0.9zM1423.1,1206.2h0.9v0.9h-0.9zM1418.3,1209.3h0.9v0.9h-0.9zM1420.1,1200.8h0.9v0.9h-0.9zM1416.7,1205.1h0.9v0.9h-0.9zM1419.3,1205.9h0.9v0.9h-0.9zM1419.9,1206.0h0.9v0.9h-0.9zM1419.2,1198.5h0.9v0.9h-0.9zM1422.0,1210.6h0.9v0.9h-0.9zM1422.1,1204.1h0.9v0.9h-0.9zM1422.2,1200.0h0.9v0.9h-0.9zM1410.3,1205.4h0.9v0.9h-0.9zM1415.2,1209.0h0.9v0.9h-0.9zM1414.4,1191.3h0.9v0.9h-0.9zM1414.7,1213.4h0.9v0.9h-0.9zM1418.0,1197.9h0.9v0.9h-0.9zM1416.1,1207.8h0.9v0.9h-0.9zM1422.4,1206.0h0.9v0.9h-0.9zM1427.4,1208.8h0.9v0.9h-0.9zM1419.8,1208.2h0.9v0.9h-0.9zM1428.2,1210.2h0.9v0.9h-0.9zM1425.1,1199.4h0.9v0.9h-0.9zM1419.2,1208.9h0.9v0.9h-0.9zM1418.4,1210.7h0.9v0.9h-0.9zM1422.9,1209.9h0.9v0.9h-0.9zM1418.8,1218.5h0.9v0.9h-0.9zM1426.1,1204.0h0.9v0.9h-0.9zM1420.4,1218.8h0.9v0.9h-0.9zM1418.2,1209.7h0.9v0.9h-0.9zM1424.8,1205.1h0.9v0.9h-0.9zM1414.0,1206.1h0.9v0.9h-0.9zM1421.7,1211.0h0.9v0.9h-0.9zM1423.8,1205.2h0.9v0.9h-0.9zM1424.2,1207.9h0.9v0.9h-0.9zM1420.9,1205.4h0.9v0.9h-0.9zM1418.7,1208.7h0.9v0.9h-0.9zM1414.6,1201.8h0.9v0.9h-0.9zM1419.9,1197.4h0.9v0.9h-0.9zM1417.7,1194.5h0.9v0.9h-0.9zM1416.5,1208.1h0.9v0.9h-0.9zM1422.8,1204.8h0.9v0.9h-0.9zM1418.7,1197.6h0.9v0.9h-0.9zM1429.1,1207.8h0.9v0.9h-0.9zM1425.4,1200.5h0.9v0.9h-0.9zM1419.0,1195.5h0.9v0.9h-0.9zM1423.8,1210.0h0.9v0.9h-0.9zM1410.3,1204.8h0.9v0.9h-0.9zM1423.1,1195.8h0.9v0.9h-0.9zM1410.7,1199.5h0.9v0.9h-0.9zM1416.7,1197.7h0.9v0.9h-0.9zM1420.1,1206.4h0.9v0.9h-0.9zM1423.1,1208.8h0.9v0.9h-0.9zM1427.5,1211.2h0.9v0.9h-0.9zM1413.3,1202.4h0.9v0.9h-0.9zM1414.6,1199.4h0.9v0.9h-0.9zM1419.5,1205.1h0.9v0.9h-0.9zM1422.4,1196.7h0.9v0.9h-0.9zM1413.7,1205.0h0.9v0.9h-0.9z" fill="#dc80cc"/></g><g transform="rotate(0 1397.4 1232.7)"><ellipse cx="1397.4" cy="1232.7" rx="11.5" ry="8.6" fill="#d23030" opacity="0.8"/><path d="M1396.1,1231.2h0.9v0.9h-0.9zM1397.0,1229.1h0.9v0.9h-0.9zM1401.8,1234.4h0.9v0.9h-0.9zM1396.8,1229.5h0.9v0.9h-0.9zM1396.3,1219.8h0.9v0.9h-0.9zM1391.2,1232.9h0.9v0.9h-0.9zM1387.9,1233.6h0.9v0.9h-0.9zM1398.3,1226.2h0.9v0.9h-0.9zM1395.8,1231.2h0.9v0.9h-0.9zM1400.3,1235.6h0.9v0.9h-0.9zM1397.2,1228.7h0.9v0.9h-0.9zM1396.5,1232.4h0.9v0.9h-0.9zM1402.0,1234.1h0.9v0.9h-0.9zM1392.8,1226.3h0.9v0.9h-0.9zM1395.0,1229.2h0.9v0.9h-0.9zM1390.4,1232.2h0.9v0.9h-0.9zM1394.3,1233.2h0.9v0.9h-0.9zM1400.7,1230.7h0.9v0.9h-0.9zM1412.0,1231.2h0.9v0.9h-0.9zM1404.3,1233.3h0.9v0.9h-0.9zM1404.4,1221.5h0.9v0.9h-0.9zM1392.7,1233.9h0.9v0.9h-0.9zM1401.2,1243.7h0.9v0.9h-0.9zM1399.4,1238.7h0.9v0.9h-0.9zM1402.2,1237.2h0.9v0.9h-0.9zM1400.6,1232.0h0.9v0.9h-0.9zM1400.6,1227.6h0.9v0.9h-0.9zM1404.8,1227.9h0.9v0.9h-0.9zM1399.0,1242.7h0.9v0.9h-0.9zM1396.0,1232.8h0.9v0.9h-0.9zM1404.7,1232.8h0.9v0.9h-0.9zM1392.3,1233.9h0.9v0.9h-0.9zM1401.1,1236.1h0.9v0.9h-0.9zM1392.5,1241.0h0.9v0.9h-0.9zM1407.9,1232.8h0.9v0.9h-0.9zM1399.1,1230.7h0.9v0.9h-0.9zM1406.3,1229.4h0.9v0.9h-0.9zM1401.6,1230.4h0.9v0.9h-0.9zM1393.0,1236.1h0.9v0.9h-0.9zM1405.8,1232.7h0.9v0.9h-0.9zM1393.1,1236.5h0.9v0.9h-0.9zM1397.1,1234.2h0.9v0.9h-0.9zM1407.0,1238.0h0.9v0.9h-0.9zM1394.1,1243.5h0.9v0.9h-0.9zM1397.4,1236.4h0.9v0.9h-0.9zM1393.3,1232.5h0.9v0.9h-0.9zM1386.4,1241.1h0.9v0.9h-0.9zM1406.0,1227.0h0.9v0.9h-0.9zM1387.9,1225.0h0.9v0.9h-0.9zM1404.8,1230.5h0.9v0.9h-0.9zM1397.0,1231.2h0.9v0.9h-0.9zM1396.6,1227.6h0.9v0.9h-0.9zM1397.6,1225.9h0.9v0.9h-0.9zM1396.9,1234.2h0.9v0.9h-0.9zM1400.3,1231.6h0.9v0.9h-0.9zM1391.7,1233.5h0.9v0.9h-0.9zM1394.3,1240.1h0.9v0.9h-0.9zM1402.2,1232.2h0.9v0.9h-0.9zM1394.4,1229.4h0.9v0.9h-0.9zM1391.5,1231.0h0.9v0.9h-0.9zM1399.3,1235.1h0.9v0.9h-0.9zM1401.0,1242.6h0.9v0.9h-0.9zM1393.0,1232.8h0.9v0.9h-0.9zM1415.0,1223.9h0.9v0.9h-0.9zM1394.1,1233.5h0.9v0.9h-0.9zM1398.4,1234.6h0.9v0.9h-0.9zM1395.9,1234.4h0.9v0.9h-0.9zM1397.7,1236.3h0.9v0.9h-0.9zM1385.5,1228.5h0.9v0.9h-0.9zM1397.4,1227.8h0.9v0.9h-0.9zM1390.8,1235.7h0.9v0.9h-0.9zM1393.3,1235.7h0.9v0.9h-0.9zM1402.1,1234.1h0.9v0.9h-0.9zM1400.6,1232.2h0.9v0.9h-0.9zM1388.5,1232.6h0.9v0.9h-0.9zM1400.3,1230.2h0.9v0.9h-0.9zM1396.8,1236.2h0.9v0.9h-0.9zM1391.9,1235.7h0.9v0.9h-0.9zM1409.1,1230.1h0.9v0.9h-0.9zM1398.3,1232.0h0.9v0.9h-0.9zM1407.1,1234.2h0.9v0.9h-0.9zM1403.1,1229.4h0.9v0.9h-0.9zM1397.3,1232.7h0.9v0.9h-0.9zM1386.2,1239.5h0.9v0.9h-0.9zM1403.1,1224.4h0.9v0.9h-0.9zM1402.1,1232.1h0.9v0.9h-0.9zM1400.2,1234.4h0.9v0.9h-0.9zM1388.0,1231.7h0.9v0.9h-0.9zM1406.8,1230.0h0.9v0.9h-0.9zM1391.0,1226.3h0.9v0.9h-0.9zM1389.7,1234.3h0.9v0.9h-0.9zM1408.1,1234.7h0.9v0.9h-0.9zM1398.9,1243.3h0.9v0.9h-0.9zM1394.1,1229.5h0.9v0.9h-0.9zM1400.7,1235.3h0.9v0.9h-0.9zM1391.0,1227.2h0.9v0.9h-0.9zM1399.2,1233.9h0.9v0.9h-0.9zM1389.2,1231.7h0.9v0.9h-0.9zM1394.0,1234.9h0.9v0.9h-0.9zM1396.7,1232.3h0.9v0.9h-0.9zM1395.2,1237.7h0.9v0.9h-0.9zM1406.2,1231.0h0.9v0.9h-0.9zM1402.7,1229.1h0.9v0.9h-0.9zM1397.9,1236.2h0.9v0.9h-0.9zM1406.9,1230.9h0.9v0.9h-0.9zM1396.9,1233.6h0.9v0.9h-0.9zM1388.0,1232.8h0.9v0.9h-0.9zM1393.1,1234.5h0.9v0.9h-0.9zM1390.3,1223.4h0.9v0.9h-0.9zM1397.6,1233.9h0.9v0.9h-0.9zM1393.9,1236.9h0.9v0.9h-0.9zM1395.7,1229.8h0.9v0.9h-0.9zM1400.4,1225.3h0.9v0.9h-0.9zM1393.1,1232.6h0.9v0.9h-0.9zM1402.7,1231.9h0.9v0.9h-0.9zM1399.3,1229.6h0.9v0.9h-0.9zM1399.3,1240.6h0.9v0.9h-0.9zM1393.1,1243.9h0.9v0.9h-0.9zM1393.3,1232.8h0.9v0.9h-0.9zM1398.5,1237.5h0.9v0.9h-0.9z" fill="#d23030"/></g><g transform="rotate(0 1434.5 1232.1)"><ellipse cx="1434.5" cy="1232.1" rx="11.7" ry="9.6" fill="#45a845" opacity="0.8"/><path d="M1426.5,1221.0h0.9v0.9h-0.9zM1438.4,1236.3h0.9v0.9h-0.9zM1438.5,1245.9h0.9v0.9h-0.9zM1435.8,1233.4h0.9v0.9h-0.9zM1440.5,1234.0h0.9v0.9h-0.9zM1445.2,1225.6h0.9v0.9h-0.9zM1432.1,1214.0h0.9v0.9h-0.9zM1439.7,1230.1h0.9v0.9h-0.9zM1440.4,1243.4h0.9v0.9h-0.9zM1434.5,1230.8h0.9v0.9h-0.9zM1431.3,1227.7h0.9v0.9h-0.9zM1430.4,1235.5h0.9v0.9h-0.9zM1434.7,1232.4h0.9v0.9h-0.9zM1433.4,1236.9h0.9v0.9h-0.9zM1437.7,1231.4h0.9v0.9h-0.9zM1438.8,1231.3h0.9v0.9h-0.9zM1427.1,1239.8h0.9v0.9h-0.9zM1437.5,1227.1h0.9v0.9h-0.9zM1441.4,1233.9h0.9v0.9h-0.9zM1424.4,1240.6h0.9v0.9h-0.9zM1436.6,1236.8h0.9v0.9h-0.9zM1435.8,1231.3h0.9v0.9h-0.9zM1424.5,1237.2h0.9v0.9h-0.9zM1434.7,1230.6h0.9v0.9h-0.9zM1436.8,1232.5h0.9v0.9h-0.9zM1438.8,1230.1h0.9v0.9h-0.9zM1434.3,1220.8h0.9v0.9h-0.9zM1431.8,1235.7h0.9v0.9h-0.9zM1443.1,1230.2h0.9v0.9h-0.9zM1433.7,1240.4h0.9v0.9h-0.9zM1432.4,1236.0h0.9v0.9h-0.9zM1445.3,1232.3h0.9v0.9h-0.9zM1442.4,1228.4h0.9v0.9h-0.9zM1435.8,1231.7h0.9v0.9h-0.9zM1435.2,1238.0h0.9v0.9h-0.9zM1449.9,1228.6h0.9v0.9h-0.9zM1430.8,1234.7h0.9v0.9h-0.9zM1427.7,1234.7h0.9v0.9h-0.9zM1438.2,1230.6h0.9v0.9h-0.9zM1437.9,1223.9h0.9v0.9h-0.9zM1439.4,1224.0h0.9v0.9h-0.9zM1430.0,1229.2h0.9v0.9h-0.9zM1431.9,1236.6h0.9v0.9h-0.9zM1435.0,1230.0h0.9v0.9h-0.9zM1438.0,1240.4h0.9v0.9h-0.9zM1434.5,1234.0h0.9v0.9h-0.9zM1442.5,1233.5h0.9v0.9h-0.9zM1426.2,1245.2h0.9v0.9h-0.9zM1448.7,1221.6h0.9v0.9h-0.9zM1434.2,1234.3h0.9v0.9h-0.9zM1440.7,1235.6h0.9v0.9h-0.9zM1432.7,1226.6h0.9v0.9h-0.9zM1435.2,1237.5h0.9v0.9h-0.9zM1427.5,1226.7h0.9v0.9h-0.9zM1434.3,1221.9h0.9v0.9h-0.9zM1432.8,1229.8h0.9v0.9h-0.9zM1437.4,1228.4h0.9v0.9h-0.9zM1428.8,1230.0h0.9v0.9h-0.9zM1434.2,1228.6h0.9v0.9h-0.9zM1434.6,1236.0h0.9v0.9h-0.9zM1442.1,1241.1h0.9v0.9h-0.9zM1429.5,1229.9h0.9v0.9h-0.9zM1418.5,1242.1h0.9v0.9h-0.9zM1429.8,1231.9h0.9v0.9h-0.9zM1437.9,1224.9h0.9v0.9h-0.9zM1437.5,1232.0h0.9v0.9h-0.9zM1422.7,1233.6h0.9v0.9h-0.9zM1442.2,1222.3h0.9v0.9h-0.9zM1439.7,1233.2h0.9v0.9h-0.9zM1437.6,1234.4h0.9v0.9h-0.9zM1442.9,1230.9h0.9v0.9h-0.9zM1440.1,1229.9h0.9v0.9h-0.9zM1439.2,1227.8h0.9v0.9h-0.9zM1433.8,1241.2h0.9v0.9h-0.9zM1437.4,1231.3h0.9v0.9h-0.9zM1427.1,1227.9h0.9v0.9h-0.9zM1435.7,1237.0h0.9v0.9h-0.9zM1437.2,1234.9h0.9v0.9h-0.9zM1434.2,1239.2h0.9v0.9h-0.9zM1432.0,1229.2h0.9v0.9h-0.9zM1440.2,1232.4h0.9v0.9h-0.9zM1432.7,1229.1h0.9v0.9h-0.9zM1432.8,1235.4h0.9v0.9h-0.9zM1436.8,1225.7h0.9v0.9h-0.9zM1437.2,1233.0h0.9v0.9h-0.9zM1428.1,1236.2h0.9v0.9h-0.9zM1432.7,1230.3h0.9v0.9h-0.9zM1439.6,1239.1h0.9v0.9h-0.9zM1430.1,1234.4h0.9v0.9h-0.9zM1428.9,1244.3h0.9v0.9h-0.9zM1431.3,1238.4h0.9v0.9h-0.9zM1430.3,1236.4h0.9v0.9h-0.9zM1448.8,1218.7h0.9v0.9h-0.9zM1431.7,1234.7h0.9v0.9h-0.9zM1433.9,1228.6h0.9v0.9h-0.9zM1448.3,1232.5h0.9v0.9h-0.9zM1423.9,1236.6h0.9v0.9h-0.9zM1423.4,1238.2h0.9v0.9h-0.9zM1430.8,1232.9h0.9v0.9h-0.9zM1442.6,1232.7h0.9v0.9h-0.9zM1425.5,1223.2h0.9v0.9h-0.9zM1442.1,1236.0h0.9v0.9h-0.9zM1429.3,1236.6h0.9v0.9h-0.9zM1437.7,1235.5h0.9v0.9h-0.9zM1420.0,1230.5h0.9v0.9h-0.9zM1440.3,1236.0h0.9v0.9h-0.9zM1440.2,1219.2h0.9v0.9h-0.9zM1435.6,1234.7h0.9v0.9h-0.9zM1450.9,1227.1h0.9v0.9h-0.9zM1432.4,1232.3h0.9v0.9h-0.9zM1440.2,1229.8h0.9v0.9h-0.9zM1441.9,1228.0h0.9v0.9h-0.9zM1436.2,1229.3h0.9v0.9h-0.9zM1435.5,1228.5h0.9v0.9h-0.9zM1424.2,1237.9h0.9v0.9h-0.9zM1436.5,1229.2h0.9v0.9h-0.9zM1435.8,1237.3h0.9v0.9h-0.9zM1428.2,1231.5h0.9v0.9h-0.9zM1438.0,1234.9h0.9v0.9h-0.9zM1432.3,1221.0h0.9v0.9h-0.9z" fill="#45a845"/></g><g transform="rotate(-20 1374.5 1243.9)"><ellipse cx="1374.5" cy="1243.9" rx="13.8" ry="7.7" fill="#8c564b" opacity="0.8"/><path d="M1383.9,1245.3h0.9v0.9h-0.9zM1374.6,1242.7h0.9v0.9h-0.9zM1376.5,1242.1h0.9v0.9h-0.9zM1366.8,1240.8h0.9v0.9h-0.9zM1370.0,1241.3h0.9v0.9h-0.9zM1365.7,1246.6h0.9v0.9h-0.9zM1364.6,1246.7h0.9v0.9h-0.9zM1366.8,1245.4h0.9v0.9h-0.9zM1384.9,1244.8h0.9v0.9h-0.9zM1369.0,1244.1h0.9v0.9h-0.9zM1375.6,1236.6h0.9v0.9h-0.9zM1369.9,1244.6h0.9v0.9h-0.9zM1371.0,1244.2h0.9v0.9h-0.9zM1380.0,1247.1h0.9v0.9h-0.9zM1381.3,1246.4h0.9v0.9h-0.9zM1372.3,1243.8h0.9v0.9h-0.9zM1372.5,1242.6h0.9v0.9h-0.9zM1373.1,1236.6h0.9v0.9h-0.9zM1372.0,1243.8h0.9v0.9h-0.9zM1367.1,1243.8h0.9v0.9h-0.9zM1378.4,1243.2h0.9v0.9h-0.9zM1390.2,1232.9h0.9v0.9h-0.9zM1372.9,1236.2h0.9v0.9h-0.9zM1381.9,1255.1h0.9v0.9h-0.9zM1355.6,1244.4h0.9v0.9h-0.9zM1378.4,1242.6h0.9v0.9h-0.9zM1378.7,1234.4h0.9v0.9h-0.9zM1380.9,1245.5h0.9v0.9h-0.9zM1374.7,1241.4h0.9v0.9h-0.9zM1379.3,1241.8h0.9v0.9h-0.9zM1376.2,1241.7h0.9v0.9h-0.9zM1357.5,1243.8h0.9v0.9h-0.9zM1376.0,1247.1h0.9v0.9h-0.9zM1367.9,1243.8h0.9v0.9h-0.9zM1379.2,1244.5h0.9v0.9h-0.9zM1383.9,1252.3h0.9v0.9h-0.9zM1367.6,1235.8h0.9v0.9h-0.9zM1381.0,1250.4h0.9v0.9h-0.9zM1381.5,1247.3h0.9v0.9h-0.9zM1369.8,1240.9h0.9v0.9h-0.9zM1381.2,1240.0h0.9v0.9h-0.9zM1360.8,1239.7h0.9v0.9h-0.9zM1393.3,1252.0h0.9v0.9h-0.9zM1369.3,1240.8h0.9v0.9h-0.9zM1376.2,1240.7h0.9v0.9h-0.9zM1384.4,1243.6h0.9v0.9h-0.9zM1366.3,1249.4h0.9v0.9h-0.9zM1370.1,1244.8h0.9v0.9h-0.9zM1374.4,1242.6h0.9v0.9h-0.9zM1377.0,1241.0h0.9v0.9h-0.9zM1360.6,1234.6h0.9v0.9h-0.9zM1364.9,1240.7h0.9v0.9h-0.9zM1374.3,1244.1h0.9v0.9h-0.9zM1378.7,1244.4h0.9v0.9h-0.9zM1368.5,1240.9h0.9v0.9h-0.9zM1358.5,1243.2h0.9v0.9h-0.9zM1378.2,1246.1h0.9v0.9h-0.9zM1373.6,1243.2h0.9v0.9h-0.9zM1381.6,1244.0h0.9v0.9h-0.9zM1380.1,1246.4h0.9v0.9h-0.9zM1376.1,1249.4h0.9v0.9h-0.9zM1370.2,1242.4h0.9v0.9h-0.9zM1368.4,1240.5h0.9v0.9h-0.9zM1386.3,1251.3h0.9v0.9h-0.9zM1374.7,1246.3h0.9v0.9h-0.9zM1383.4,1247.3h0.9v0.9h-0.9zM1383.6,1238.6h0.9v0.9h-0.9zM1369.7,1245.8h0.9v0.9h-0.9zM1385.4,1244.3h0.9v0.9h-0.9zM1368.0,1242.4h0.9v0.9h-0.9zM1369.5,1240.3h0.9v0.9h-0.9zM1385.8,1241.3h0.9v0.9h-0.9zM1374.7,1253.0h0.9v0.9h-0.9zM1383.5,1245.3h0.9v0.9h-0.9zM1369.9,1245.6h0.9v0.9h-0.9zM1386.8,1246.5h0.9v0.9h-0.9zM1384.0,1244.3h0.9v0.9h-0.9zM1378.4,1243.0h0.9v0.9h-0.9zM1377.7,1249.4h0.9v0.9h-0.9zM1363.7,1243.6h0.9v0.9h-0.9zM1376.3,1241.5h0.9v0.9h-0.9zM1372.2,1247.2h0.9v0.9h-0.9zM1389.6,1246.6h0.9v0.9h-0.9zM1377.0,1237.3h0.9v0.9h-0.9zM1389.1,1244.2h0.9v0.9h-0.9zM1374.2,1239.2h0.9v0.9h-0.9zM1374.1,1239.3h0.9v0.9h-0.9zM1375.0,1245.9h0.9v0.9h-0.9zM1374.7,1245.1h0.9v0.9h-0.9zM1368.1,1249.9h0.9v0.9h-0.9zM1369.6,1236.2h0.9v0.9h-0.9zM1373.1,1240.7h0.9v0.9h-0.9zM1366.9,1242.4h0.9v0.9h-0.9zM1376.7,1238.9h0.9v0.9h-0.9zM1373.5,1249.9h0.9v0.9h-0.9zM1379.7,1243.3h0.9v0.9h-0.9zM1375.5,1243.4h0.9v0.9h-0.9zM1374.1,1247.0h0.9v0.9h-0.9zM1373.8,1233.7h0.9v0.9h-0.9zM1374.3,1240.1h0.9v0.9h-0.9zM1379.4,1241.3h0.9v0.9h-0.9zM1375.6,1253.1h0.9v0.9h-0.9zM1366.6,1239.1h0.9v0.9h-0.9zM1363.8,1233.8h0.9v0.9h-0.9zM1360.3,1245.4h0.9v0.9h-0.9zM1369.7,1236.0h0.9v0.9h-0.9zM1363.3,1246.5h0.9v0.9h-0.9zM1368.6,1242.3h0.9v0.9h-0.9zM1377.0,1249.6h0.9v0.9h-0.9zM1389.2,1248.3h0.9v0.9h-0.9zM1375.6,1244.7h0.9v0.9h-0.9zM1388.1,1249.9h0.9v0.9h-0.9zM1372.2,1245.8h0.9v0.9h-0.9zM1376.7,1244.1h0.9v0.9h-0.9zM1370.7,1238.3h0.9v0.9h-0.9zM1370.5,1237.4h0.9v0.9h-0.9zM1383.8,1246.2h0.9v0.9h-0.9zM1365.4,1249.8h0.9v0.9h-0.9zM1381.2,1235.8h0.9v0.9h-0.9zM1388.4,1247.3h0.9v0.9h-0.9z" fill="#8c564b"/></g><g transform="rotate(0 1409 1247.2)"><ellipse cx="1409" cy="1247.2" rx="10.9" ry="9.6" fill="#bcbd2a" opacity="0.8"/><path d="M1421.4,1240.7h0.9v0.9h-0.9zM1412.2,1249.4h0.9v0.9h-0.9zM1410.2,1248.1h0.9v0.9h-0.9zM1415.3,1239.3h0.9v0.9h-0.9zM1401.6,1239.9h0.9v0.9h-0.9zM1405.7,1244.0h0.9v0.9h-0.9zM1411.2,1248.6h0.9v0.9h-0.9zM1409.2,1243.6h0.9v0.9h-0.9zM1406.4,1252.2h0.9v0.9h-0.9zM1413.6,1247.7h0.9v0.9h-0.9zM1407.1,1255.4h0.9v0.9h-0.9zM1405.4,1250.6h0.9v0.9h-0.9zM1415.9,1245.8h0.9v0.9h-0.9zM1413.9,1241.3h0.9v0.9h-0.9zM1415.1,1248.3h0.9v0.9h-0.9zM1399.5,1250.7h0.9v0.9h-0.9zM1403.7,1253.9h0.9v0.9h-0.9zM1404.9,1246.3h0.9v0.9h-0.9zM1410.7,1245.4h0.9v0.9h-0.9zM1410.6,1244.3h0.9v0.9h-0.9zM1413.0,1247.2h0.9v0.9h-0.9zM1410.3,1232.7h0.9v0.9h-0.9zM1416.0,1247.4h0.9v0.9h-0.9zM1398.3,1247.7h0.9v0.9h-0.9zM1411.8,1252.8h0.9v0.9h-0.9zM1402.5,1255.3h0.9v0.9h-0.9zM1408.0,1259.8h0.9v0.9h-0.9zM1408.1,1250.8h0.9v0.9h-0.9zM1406.8,1241.3h0.9v0.9h-0.9zM1415.6,1252.0h0.9v0.9h-0.9zM1418.2,1251.7h0.9v0.9h-0.9zM1405.6,1238.4h0.9v0.9h-0.9zM1405.1,1243.6h0.9v0.9h-0.9zM1404.1,1250.3h0.9v0.9h-0.9zM1411.0,1245.8h0.9v0.9h-0.9zM1410.0,1246.4h0.9v0.9h-0.9zM1410.3,1251.2h0.9v0.9h-0.9zM1414.7,1243.6h0.9v0.9h-0.9zM1400.0,1254.7h0.9v0.9h-0.9zM1409.7,1253.0h0.9v0.9h-0.9zM1399.2,1245.5h0.9v0.9h-0.9zM1409.2,1239.6h0.9v0.9h-0.9zM1405.9,1251.0h0.9v0.9h-0.9zM1415.5,1255.6h0.9v0.9h-0.9zM1403.8,1239.8h0.9v0.9h-0.9zM1412.1,1252.2h0.9v0.9h-0.9zM1410.2,1240.3h0.9v0.9h-0.9zM1413.7,1251.4h0.9v0.9h-0.9zM1412.3,1244.6h0.9v0.9h-0.9zM1410.8,1251.4h0.9v0.9h-0.9zM1405.7,1237.5h0.9v0.9h-0.9zM1411.0,1249.7h0.9v0.9h-0.9zM1409.1,1251.9h0.9v0.9h-0.9zM1405.5,1246.8h0.9v0.9h-0.9zM1407.2,1250.2h0.9v0.9h-0.9zM1418.6,1245.9h0.9v0.9h-0.9zM1421.3,1255.3h0.9v0.9h-0.9zM1413.7,1250.3h0.9v0.9h-0.9zM1419.6,1246.2h0.9v0.9h-0.9zM1408.3,1241.6h0.9v0.9h-0.9zM1411.8,1254.3h0.9v0.9h-0.9zM1412.2,1249.4h0.9v0.9h-0.9zM1407.8,1248.1h0.9v0.9h-0.9zM1400.5,1252.7h0.9v0.9h-0.9zM1406.5,1241.4h0.9v0.9h-0.9zM1404.5,1242.9h0.9v0.9h-0.9zM1414.1,1252.8h0.9v0.9h-0.9zM1400.9,1252.1h0.9v0.9h-0.9zM1414.3,1244.1h0.9v0.9h-0.9zM1400.1,1243.3h0.9v0.9h-0.9zM1405.2,1249.0h0.9v0.9h-0.9zM1406.9,1236.5h0.9v0.9h-0.9zM1410.4,1239.1h0.9v0.9h-0.9zM1414.4,1240.8h0.9v0.9h-0.9zM1404.9,1242.7h0.9v0.9h-0.9zM1405.8,1254.0h0.9v0.9h-0.9zM1414.1,1250.4h0.9v0.9h-0.9zM1410.9,1239.1h0.9v0.9h-0.9zM1405.9,1244.3h0.9v0.9h-0.9zM1403.1,1249.9h0.9v0.9h-0.9zM1404.6,1243.5h0.9v0.9h-0.9zM1402.7,1236.4h0.9v0.9h-0.9zM1412.6,1254.2h0.9v0.9h-0.9zM1410.0,1242.1h0.9v0.9h-0.9zM1392.8,1248.1h0.9v0.9h-0.9zM1416.3,1248.8h0.9v0.9h-0.9zM1414.5,1255.0h0.9v0.9h-0.9zM1415.7,1244.9h0.9v0.9h-0.9zM1415.3,1251.3h0.9v0.9h-0.9zM1399.8,1245.1h0.9v0.9h-0.9zM1400.5,1246.6h0.9v0.9h-0.9zM1412.5,1241.6h0.9v0.9h-0.9zM1396.7,1254.0h0.9v0.9h-0.9zM1411.3,1254.9h0.9v0.9h-0.9zM1401.1,1252.8h0.9v0.9h-0.9zM1421.4,1257.8h0.9v0.9h-0.9zM1407.7,1248.6h0.9v0.9h-0.9zM1408.1,1252.5h0.9v0.9h-0.9zM1415.2,1247.7h0.9v0.9h-0.9zM1400.9,1251.1h0.9v0.9h-0.9zM1406.2,1250.5h0.9v0.9h-0.9zM1410.6,1255.7h0.9v0.9h-0.9zM1415.8,1244.8h0.9v0.9h-0.9zM1411.1,1256.5h0.9v0.9h-0.9zM1405.8,1249.5h0.9v0.9h-0.9zM1416.1,1253.8h0.9v0.9h-0.9zM1412.1,1240.2h0.9v0.9h-0.9zM1401.5,1248.5h0.9v0.9h-0.9zM1411.3,1260.6h0.9v0.9h-0.9zM1403.8,1253.2h0.9v0.9h-0.9zM1413.6,1238.4h0.9v0.9h-0.9zM1404.1,1248.1h0.9v0.9h-0.9zM1406.0,1246.4h0.9v0.9h-0.9zM1411.8,1242.9h0.9v0.9h-0.9zM1411.8,1243.8h0.9v0.9h-0.9zM1405.7,1250.0h0.9v0.9h-0.9zM1405.6,1248.7h0.9v0.9h-0.9zM1418.6,1247.3h0.9v0.9h-0.9zM1408.1,1251.1h0.9v0.9h-0.9zM1406.8,1252.9h0.9v0.9h-0.9z" fill="#bcbd2a"/></g><g transform="rotate(8 1467.9 1249.4)"><ellipse cx="1467.9" cy="1249.4" rx="15.5" ry="6.5" fill="#f58020" opacity="0.8"/><path d="M1457.0,1251.6h0.9v0.9h-0.9zM1463.5,1246.6h0.9v0.9h-0.9zM1483.0,1246.4h0.9v0.9h-0.9zM1482.8,1251.7h0.9v0.9h-0.9zM1480.3,1245.9h0.9v0.9h-0.9zM1478.1,1254.6h0.9v0.9h-0.9zM1466.9,1248.9h0.9v0.9h-0.9zM1488.8,1250.0h0.9v0.9h-0.9zM1464.3,1247.2h0.9v0.9h-0.9zM1471.7,1250.6h0.9v0.9h-0.9zM1469.4,1255.5h0.9v0.9h-0.9zM1465.1,1251.1h0.9v0.9h-0.9zM1480.3,1245.8h0.9v0.9h-0.9zM1476.7,1255.9h0.9v0.9h-0.9zM1456.4,1245.5h0.9v0.9h-0.9zM1459.1,1242.8h0.9v0.9h-0.9zM1471.8,1242.8h0.9v0.9h-0.9zM1472.1,1254.6h0.9v0.9h-0.9zM1454.2,1248.3h0.9v0.9h-0.9zM1451.6,1252.2h0.9v0.9h-0.9zM1461.6,1248.5h0.9v0.9h-0.9zM1468.4,1251.3h0.9v0.9h-0.9zM1465.0,1249.5h0.9v0.9h-0.9zM1463.3,1249.8h0.9v0.9h-0.9zM1457.9,1249.6h0.9v0.9h-0.9zM1451.5,1247.7h0.9v0.9h-0.9zM1484.2,1249.7h0.9v0.9h-0.9zM1457.2,1250.3h0.9v0.9h-0.9zM1459.6,1243.5h0.9v0.9h-0.9zM1461.6,1252.0h0.9v0.9h-0.9zM1471.2,1249.1h0.9v0.9h-0.9zM1460.0,1245.6h0.9v0.9h-0.9zM1479.4,1250.3h0.9v0.9h-0.9zM1459.8,1241.9h0.9v0.9h-0.9zM1456.2,1258.2h0.9v0.9h-0.9zM1458.1,1249.1h0.9v0.9h-0.9zM1469.7,1248.8h0.9v0.9h-0.9zM1465.5,1244.5h0.9v0.9h-0.9zM1459.0,1255.4h0.9v0.9h-0.9zM1461.5,1252.4h0.9v0.9h-0.9zM1453.5,1248.4h0.9v0.9h-0.9zM1470.1,1253.1h0.9v0.9h-0.9zM1458.4,1251.5h0.9v0.9h-0.9zM1471.2,1246.8h0.9v0.9h-0.9zM1472.0,1246.2h0.9v0.9h-0.9zM1461.1,1249.3h0.9v0.9h-0.9zM1444.8,1249.0h0.9v0.9h-0.9zM1459.4,1244.2h0.9v0.9h-0.9zM1464.3,1252.1h0.9v0.9h-0.9zM1464.5,1253.9h0.9v0.9h-0.9zM1458.0,1244.7h0.9v0.9h-0.9zM1481.1,1250.8h0.9v0.9h-0.9zM1475.9,1246.5h0.9v0.9h-0.9zM1474.7,1250.3h0.9v0.9h-0.9zM1473.4,1249.5h0.9v0.9h-0.9zM1478.2,1247.1h0.9v0.9h-0.9zM1459.7,1244.1h0.9v0.9h-0.9zM1477.8,1246.8h0.9v0.9h-0.9zM1459.0,1246.1h0.9v0.9h-0.9zM1464.1,1244.9h0.9v0.9h-0.9zM1465.4,1247.2h0.9v0.9h-0.9zM1463.2,1246.0h0.9v0.9h-0.9zM1468.2,1247.8h0.9v0.9h-0.9zM1468.9,1250.3h0.9v0.9h-0.9zM1470.8,1241.6h0.9v0.9h-0.9zM1463.3,1246.6h0.9v0.9h-0.9zM1474.5,1243.8h0.9v0.9h-0.9zM1461.8,1248.4h0.9v0.9h-0.9zM1465.0,1252.9h0.9v0.9h-0.9zM1464.1,1252.8h0.9v0.9h-0.9zM1455.4,1243.0h0.9v0.9h-0.9zM1478.3,1250.9h0.9v0.9h-0.9zM1472.0,1249.8h0.9v0.9h-0.9zM1472.0,1245.1h0.9v0.9h-0.9zM1476.0,1247.5h0.9v0.9h-0.9zM1476.3,1249.7h0.9v0.9h-0.9zM1451.1,1244.8h0.9v0.9h-0.9zM1477.5,1248.9h0.9v0.9h-0.9zM1464.5,1250.3h0.9v0.9h-0.9zM1464.3,1247.5h0.9v0.9h-0.9zM1468.8,1249.9h0.9v0.9h-0.9zM1480.8,1249.6h0.9v0.9h-0.9zM1483.9,1255.8h0.9v0.9h-0.9zM1482.5,1253.2h0.9v0.9h-0.9zM1469.0,1249.9h0.9v0.9h-0.9zM1466.7,1246.8h0.9v0.9h-0.9zM1467.3,1247.1h0.9v0.9h-0.9zM1481.8,1251.3h0.9v0.9h-0.9zM1464.1,1242.6h0.9v0.9h-0.9zM1467.4,1247.9h0.9v0.9h-0.9zM1458.7,1245.4h0.9v0.9h-0.9zM1448.8,1251.4h0.9v0.9h-0.9zM1467.3,1258.6h0.9v0.9h-0.9zM1467.6,1248.9h0.9v0.9h-0.9zM1480.2,1249.9h0.9v0.9h-0.9zM1469.3,1248.1h0.9v0.9h-0.9zM1462.8,1254.7h0.9v0.9h-0.9zM1476.4,1255.5h0.9v0.9h-0.9zM1464.9,1249.5h0.9v0.9h-0.9zM1460.4,1252.8h0.9v0.9h-0.9zM1456.1,1251.4h0.9v0.9h-0.9zM1477.2,1254.4h0.9v0.9h-0.9zM1459.9,1253.3h0.9v0.9h-0.9zM1461.8,1246.7h0.9v0.9h-0.9zM1456.6,1253.5h0.9v0.9h-0.9zM1481.9,1247.3h0.9v0.9h-0.9zM1461.4,1248.2h0.9v0.9h-0.9zM1489.2,1253.0h0.9v0.9h-0.9zM1463.3,1243.0h0.9v0.9h-0.9zM1462.2,1253.6h0.9v0.9h-0.9zM1483.8,1248.5h0.9v0.9h-0.9zM1462.0,1247.6h0.9v0.9h-0.9zM1451.9,1252.6h0.9v0.9h-0.9zM1458.7,1253.2h0.9v0.9h-0.9zM1453.4,1244.9h0.9v0.9h-0.9zM1470.4,1246.7h0.9v0.9h-0.9zM1474.5,1249.4h0.9v0.9h-0.9zM1457.9,1251.6h0.9v0.9h-0.9zM1475.1,1242.6h0.9v0.9h-0.9zM1483.4,1251.2h0.9v0.9h-0.9z" fill="#f58020"/></g><g transform="rotate(0 1386.2 1278.1)"><ellipse cx="1386.2" cy="1278.1" rx="9.6" ry="9.4" fill="#9467bd" opacity="0.8"/><path d="M1390.2,1268.5h0.9v0.9h-0.9zM1382.4,1276.3h0.9v0.9h-0.9zM1391.9,1270.5h0.9v0.9h-0.9zM1381.5,1267.6h0.9v0.9h-0.9zM1384.9,1279.9h0.9v0.9h-0.9zM1377.3,1275.0h0.9v0.9h-0.9zM1388.9,1286.3h0.9v0.9h-0.9zM1389.7,1276.5h0.9v0.9h-0.9zM1380.0,1273.3h0.9v0.9h-0.9zM1382.7,1278.9h0.9v0.9h-0.9zM1385.9,1286.7h0.9v0.9h-0.9zM1387.7,1272.6h0.9v0.9h-0.9zM1394.3,1283.0h0.9v0.9h-0.9zM1386.7,1274.4h0.9v0.9h-0.9zM1376.4,1272.8h0.9v0.9h-0.9zM1391.0,1273.9h0.9v0.9h-0.9zM1379.3,1279.1h0.9v0.9h-0.9zM1387.5,1281.2h0.9v0.9h-0.9zM1389.7,1285.4h0.9v0.9h-0.9zM1381.8,1283.2h0.9v0.9h-0.9zM1381.0,1281.7h0.9v0.9h-0.9zM1387.1,1279.4h0.9v0.9h-0.9zM1391.3,1278.0h0.9v0.9h-0.9zM1392.1,1282.6h0.9v0.9h-0.9zM1386.9,1275.2h0.9v0.9h-0.9zM1382.2,1275.4h0.9v0.9h-0.9zM1385.1,1278.0h0.9v0.9h-0.9zM1401.9,1281.4h0.9v0.9h-0.9zM1390.2,1273.6h0.9v0.9h-0.9zM1382.5,1276.4h0.9v0.9h-0.9zM1387.2,1272.7h0.9v0.9h-0.9zM1394.7,1275.2h0.9v0.9h-0.9zM1391.9,1266.0h0.9v0.9h-0.9zM1386.2,1279.5h0.9v0.9h-0.9zM1387.2,1281.2h0.9v0.9h-0.9zM1387.7,1278.9h0.9v0.9h-0.9zM1376.2,1274.4h0.9v0.9h-0.9zM1373.9,1281.4h0.9v0.9h-0.9zM1387.8,1277.1h0.9v0.9h-0.9zM1381.9,1275.1h0.9v0.9h-0.9zM1395.9,1287.1h0.9v0.9h-0.9zM1385.9,1284.8h0.9v0.9h-0.9zM1377.8,1268.1h0.9v0.9h-0.9zM1383.7,1273.6h0.9v0.9h-0.9zM1383.3,1279.1h0.9v0.9h-0.9zM1402.1,1274.7h0.9v0.9h-0.9zM1386.5,1279.5h0.9v0.9h-0.9zM1386.0,1282.9h0.9v0.9h-0.9zM1395.5,1271.7h0.9v0.9h-0.9zM1387.1,1276.7h0.9v0.9h-0.9zM1388.1,1270.2h0.9v0.9h-0.9zM1376.9,1266.1h0.9v0.9h-0.9zM1389.0,1279.1h0.9v0.9h-0.9zM1386.6,1265.9h0.9v0.9h-0.9zM1384.2,1274.2h0.9v0.9h-0.9zM1378.8,1273.4h0.9v0.9h-0.9zM1389.9,1280.9h0.9v0.9h-0.9zM1386.1,1280.8h0.9v0.9h-0.9zM1383.0,1278.5h0.9v0.9h-0.9zM1386.4,1281.0h0.9v0.9h-0.9zM1385.8,1277.4h0.9v0.9h-0.9zM1385.5,1274.8h0.9v0.9h-0.9zM1398.0,1280.8h0.9v0.9h-0.9zM1388.5,1290.0h0.9v0.9h-0.9zM1393.6,1270.0h0.9v0.9h-0.9zM1389.9,1282.4h0.9v0.9h-0.9zM1396.1,1284.9h0.9v0.9h-0.9zM1390.3,1272.0h0.9v0.9h-0.9zM1381.6,1279.5h0.9v0.9h-0.9zM1388.9,1272.8h0.9v0.9h-0.9zM1384.2,1276.0h0.9v0.9h-0.9zM1386.5,1279.8h0.9v0.9h-0.9zM1384.7,1271.7h0.9v0.9h-0.9zM1392.7,1286.4h0.9v0.9h-0.9zM1385.6,1283.4h0.9v0.9h-0.9zM1388.5,1281.5h0.9v0.9h-0.9zM1388.7,1274.1h0.9v0.9h-0.9zM1389.2,1283.3h0.9v0.9h-0.9zM1381.5,1288.3h0.9v0.9h-0.9zM1397.2,1287.5h0.9v0.9h-0.9zM1396.7,1281.9h0.9v0.9h-0.9zM1384.4,1275.0h0.9v0.9h-0.9zM1381.9,1278.7h0.9v0.9h-0.9zM1386.0,1281.6h0.9v0.9h-0.9zM1375.6,1290.1h0.9v0.9h-0.9zM1398.2,1278.0h0.9v0.9h-0.9zM1389.8,1280.6h0.9v0.9h-0.9zM1387.6,1277.0h0.9v0.9h-0.9zM1385.6,1273.8h0.9v0.9h-0.9zM1387.1,1278.0h0.9v0.9h-0.9zM1387.9,1273.7h0.9v0.9h-0.9zM1386.4,1278.3h0.9v0.9h-0.9zM1389.4,1272.6h0.9v0.9h-0.9zM1388.4,1283.2h0.9v0.9h-0.9zM1389.3,1276.2h0.9v0.9h-0.9zM1383.6,1276.9h0.9v0.9h-0.9zM1390.0,1286.1h0.9v0.9h-0.9zM1385.4,1274.8h0.9v0.9h-0.9zM1388.2,1279.2h0.9v0.9h-0.9zM1381.4,1274.3h0.9v0.9h-0.9zM1385.7,1281.6h0.9v0.9h-0.9zM1379.9,1272.8h0.9v0.9h-0.9zM1388.8,1271.8h0.9v0.9h-0.9zM1386.8,1279.9h0.9v0.9h-0.9zM1385.6,1272.8h0.9v0.9h-0.9zM1385.9,1276.4h0.9v0.9h-0.9zM1388.0,1273.8h0.9v0.9h-0.9zM1391.9,1269.4h0.9v0.9h-0.9zM1385.3,1278.1h0.9v0.9h-0.9zM1391.3,1275.0h0.9v0.9h-0.9zM1389.1,1275.2h0.9v0.9h-0.9zM1390.1,1287.1h0.9v0.9h-0.9zM1384.1,1280.4h0.9v0.9h-0.9zM1381.3,1283.1h0.9v0.9h-0.9zM1392.6,1278.3h0.9v0.9h-0.9zM1380.2,1280.2h0.9v0.9h-0.9zM1392.2,1283.7h0.9v0.9h-0.9zM1390.5,1268.6h0.9v0.9h-0.9zM1382.6,1285.5h0.9v0.9h-0.9zM1379.7,1284.0h0.9v0.9h-0.9z" fill="#9467bd"/></g><g transform="rotate(0 1410.4 1280.1)"><ellipse cx="1410.4" cy="1280.1" rx="8.4" ry="10.2" fill="#3fc0d8" opacity="0.8"/><path d="M1419.0,1284.4h0.9v0.9h-0.9zM1415.5,1278.2h0.9v0.9h-0.9zM1404.8,1279.5h0.9v0.9h-0.9zM1409.5,1279.8h0.9v0.9h-0.9zM1413.6,1279.3h0.9v0.9h-0.9zM1411.3,1282.5h0.9v0.9h-0.9zM1410.4,1290.5h0.9v0.9h-0.9zM1412.4,1280.6h0.9v0.9h-0.9zM1409.4,1276.6h0.9v0.9h-0.9zM1416.6,1280.9h0.9v0.9h-0.9zM1405.4,1276.9h0.9v0.9h-0.9zM1409.8,1277.6h0.9v0.9h-0.9zM1415.4,1273.6h0.9v0.9h-0.9zM1412.7,1280.9h0.9v0.9h-0.9zM1405.0,1280.4h0.9v0.9h-0.9zM1410.0,1282.9h0.9v0.9h-0.9zM1408.3,1281.8h0.9v0.9h-0.9zM1402.8,1274.0h0.9v0.9h-0.9zM1414.0,1286.0h0.9v0.9h-0.9zM1410.3,1276.7h0.9v0.9h-0.9zM1415.4,1268.3h0.9v0.9h-0.9zM1406.7,1283.9h0.9v0.9h-0.9zM1413.4,1274.3h0.9v0.9h-0.9zM1401.7,1288.3h0.9v0.9h-0.9zM1411.1,1275.1h0.9v0.9h-0.9zM1410.7,1285.2h0.9v0.9h-0.9zM1398.5,1286.3h0.9v0.9h-0.9zM1413.8,1268.4h0.9v0.9h-0.9zM1413.9,1270.1h0.9v0.9h-0.9zM1415.6,1282.3h0.9v0.9h-0.9zM1420.7,1276.7h0.9v0.9h-0.9zM1410.4,1286.0h0.9v0.9h-0.9zM1407.5,1276.1h0.9v0.9h-0.9zM1408.7,1279.7h0.9v0.9h-0.9zM1405.4,1282.8h0.9v0.9h-0.9zM1412.9,1280.5h0.9v0.9h-0.9zM1418.2,1278.3h0.9v0.9h-0.9zM1416.4,1277.0h0.9v0.9h-0.9zM1413.9,1269.2h0.9v0.9h-0.9zM1411.3,1279.1h0.9v0.9h-0.9zM1408.1,1276.7h0.9v0.9h-0.9zM1408.8,1276.1h0.9v0.9h-0.9zM1400.3,1276.7h0.9v0.9h-0.9zM1407.9,1277.2h0.9v0.9h-0.9zM1405.5,1279.3h0.9v0.9h-0.9zM1414.0,1278.7h0.9v0.9h-0.9zM1408.1,1287.7h0.9v0.9h-0.9zM1414.9,1285.3h0.9v0.9h-0.9zM1415.7,1278.3h0.9v0.9h-0.9zM1409.8,1286.4h0.9v0.9h-0.9zM1407.9,1279.4h0.9v0.9h-0.9zM1412.1,1282.2h0.9v0.9h-0.9zM1409.1,1285.6h0.9v0.9h-0.9zM1409.6,1284.2h0.9v0.9h-0.9zM1415.3,1283.8h0.9v0.9h-0.9zM1413.8,1273.6h0.9v0.9h-0.9zM1404.4,1276.6h0.9v0.9h-0.9zM1412.6,1288.5h0.9v0.9h-0.9zM1404.8,1281.8h0.9v0.9h-0.9zM1406.5,1276.0h0.9v0.9h-0.9zM1409.1,1284.0h0.9v0.9h-0.9zM1411.4,1286.7h0.9v0.9h-0.9zM1405.9,1285.1h0.9v0.9h-0.9zM1414.7,1280.5h0.9v0.9h-0.9zM1412.6,1276.9h0.9v0.9h-0.9zM1405.4,1277.8h0.9v0.9h-0.9zM1407.5,1296.4h0.9v0.9h-0.9zM1408.2,1289.4h0.9v0.9h-0.9zM1411.3,1281.9h0.9v0.9h-0.9zM1413.8,1275.7h0.9v0.9h-0.9zM1414.6,1282.2h0.9v0.9h-0.9zM1403.4,1283.5h0.9v0.9h-0.9zM1412.9,1282.6h0.9v0.9h-0.9zM1417.7,1277.8h0.9v0.9h-0.9zM1412.7,1284.3h0.9v0.9h-0.9zM1406.3,1286.8h0.9v0.9h-0.9zM1403.7,1272.8h0.9v0.9h-0.9zM1412.8,1274.0h0.9v0.9h-0.9zM1409.9,1270.8h0.9v0.9h-0.9zM1410.7,1273.7h0.9v0.9h-0.9zM1412.0,1271.5h0.9v0.9h-0.9zM1412.5,1278.6h0.9v0.9h-0.9zM1410.7,1279.7h0.9v0.9h-0.9zM1411.0,1272.7h0.9v0.9h-0.9zM1398.6,1280.3h0.9v0.9h-0.9zM1406.1,1277.5h0.9v0.9h-0.9zM1412.4,1268.9h0.9v0.9h-0.9zM1406.9,1276.7h0.9v0.9h-0.9zM1405.5,1281.9h0.9v0.9h-0.9zM1409.8,1275.5h0.9v0.9h-0.9zM1405.9,1284.6h0.9v0.9h-0.9zM1407.4,1283.4h0.9v0.9h-0.9zM1412.5,1269.4h0.9v0.9h-0.9zM1405.4,1280.1h0.9v0.9h-0.9zM1412.0,1284.5h0.9v0.9h-0.9zM1414.1,1285.9h0.9v0.9h-0.9zM1408.7,1278.9h0.9v0.9h-0.9zM1414.0,1277.7h0.9v0.9h-0.9zM1415.3,1271.2h0.9v0.9h-0.9zM1413.4,1279.1h0.9v0.9h-0.9zM1401.4,1285.6h0.9v0.9h-0.9zM1411.8,1280.2h0.9v0.9h-0.9zM1405.5,1277.5h0.9v0.9h-0.9zM1417.3,1275.4h0.9v0.9h-0.9zM1394.5,1275.3h0.9v0.9h-0.9zM1404.9,1279.4h0.9v0.9h-0.9zM1408.6,1275.0h0.9v0.9h-0.9zM1406.5,1286.0h0.9v0.9h-0.9zM1403.8,1291.1h0.9v0.9h-0.9zM1407.9,1274.0h0.9v0.9h-0.9zM1414.0,1283.3h0.9v0.9h-0.9zM1405.6,1284.3h0.9v0.9h-0.9zM1402.0,1274.9h0.9v0.9h-0.9zM1415.6,1278.7h0.9v0.9h-0.9zM1404.4,1283.0h0.9v0.9h-0.9zM1414.6,1280.0h0.9v0.9h-0.9zM1402.1,1278.2h0.9v0.9h-0.9zM1412.3,1284.4h0.9v0.9h-0.9zM1418.9,1278.7h0.9v0.9h-0.9zM1408.2,1279.9h0.9v0.9h-0.9z" fill="#3fc0d8"/></g><g transform="rotate(-10 1437.4 1273.1)"><ellipse cx="1437.4" cy="1273.1" rx="11.1" ry="9.4" fill="#808080" opacity="0.8"/><path d="M1444.7,1268.2h0.9v0.9h-0.9zM1445.3,1258.9h0.9v0.9h-0.9zM1442.2,1269.6h0.9v0.9h-0.9zM1440.2,1276.7h0.9v0.9h-0.9zM1430.2,1272.7h0.9v0.9h-0.9zM1438.9,1276.1h0.9v0.9h-0.9zM1431.8,1268.0h0.9v0.9h-0.9zM1425.7,1286.2h0.9v0.9h-0.9zM1436.2,1271.9h0.9v0.9h-0.9zM1428.3,1277.9h0.9v0.9h-0.9zM1434.2,1280.5h0.9v0.9h-0.9zM1442.6,1273.2h0.9v0.9h-0.9zM1441.8,1267.3h0.9v0.9h-0.9zM1435.4,1270.1h0.9v0.9h-0.9zM1429.7,1273.2h0.9v0.9h-0.9zM1436.5,1280.5h0.9v0.9h-0.9zM1417.0,1269.6h0.9v0.9h-0.9zM1431.8,1270.7h0.9v0.9h-0.9zM1440.0,1275.2h0.9v0.9h-0.9zM1437.6,1270.6h0.9v0.9h-0.9zM1440.4,1275.0h0.9v0.9h-0.9zM1426.2,1271.7h0.9v0.9h-0.9zM1429.0,1267.0h0.9v0.9h-0.9zM1438.3,1273.4h0.9v0.9h-0.9zM1438.1,1268.6h0.9v0.9h-0.9zM1436.2,1268.4h0.9v0.9h-0.9zM1439.7,1276.7h0.9v0.9h-0.9zM1448.1,1279.7h0.9v0.9h-0.9zM1432.5,1270.7h0.9v0.9h-0.9zM1431.7,1274.7h0.9v0.9h-0.9zM1449.4,1276.8h0.9v0.9h-0.9zM1424.0,1266.6h0.9v0.9h-0.9zM1429.5,1275.8h0.9v0.9h-0.9zM1437.4,1274.7h0.9v0.9h-0.9zM1448.2,1268.8h0.9v0.9h-0.9zM1432.3,1283.3h0.9v0.9h-0.9zM1439.5,1269.1h0.9v0.9h-0.9zM1425.1,1265.2h0.9v0.9h-0.9zM1422.6,1273.5h0.9v0.9h-0.9zM1437.7,1278.2h0.9v0.9h-0.9zM1436.6,1269.5h0.9v0.9h-0.9zM1432.9,1282.9h0.9v0.9h-0.9zM1426.7,1274.0h0.9v0.9h-0.9zM1437.6,1276.3h0.9v0.9h-0.9zM1434.9,1275.7h0.9v0.9h-0.9zM1442.4,1272.3h0.9v0.9h-0.9zM1434.6,1272.1h0.9v0.9h-0.9zM1431.5,1272.0h0.9v0.9h-0.9zM1435.6,1274.2h0.9v0.9h-0.9zM1445.5,1279.9h0.9v0.9h-0.9zM1434.7,1276.2h0.9v0.9h-0.9zM1439.2,1277.0h0.9v0.9h-0.9zM1437.5,1274.5h0.9v0.9h-0.9zM1434.6,1269.0h0.9v0.9h-0.9zM1442.7,1279.8h0.9v0.9h-0.9zM1441.4,1275.4h0.9v0.9h-0.9zM1439.0,1270.8h0.9v0.9h-0.9zM1426.6,1276.5h0.9v0.9h-0.9zM1438.6,1270.2h0.9v0.9h-0.9zM1431.5,1279.7h0.9v0.9h-0.9zM1426.4,1282.2h0.9v0.9h-0.9zM1441.3,1285.4h0.9v0.9h-0.9zM1433.0,1273.0h0.9v0.9h-0.9zM1434.3,1273.9h0.9v0.9h-0.9zM1436.1,1269.2h0.9v0.9h-0.9zM1443.9,1269.0h0.9v0.9h-0.9zM1434.3,1276.0h0.9v0.9h-0.9zM1434.1,1270.9h0.9v0.9h-0.9zM1439.6,1271.2h0.9v0.9h-0.9zM1429.8,1272.6h0.9v0.9h-0.9zM1436.1,1281.9h0.9v0.9h-0.9zM1430.7,1278.1h0.9v0.9h-0.9zM1432.6,1271.3h0.9v0.9h-0.9zM1435.4,1274.5h0.9v0.9h-0.9zM1442.6,1282.2h0.9v0.9h-0.9zM1433.5,1280.0h0.9v0.9h-0.9zM1443.4,1277.3h0.9v0.9h-0.9zM1432.8,1277.8h0.9v0.9h-0.9zM1436.7,1274.9h0.9v0.9h-0.9zM1435.8,1276.5h0.9v0.9h-0.9zM1444.2,1279.0h0.9v0.9h-0.9zM1436.2,1278.3h0.9v0.9h-0.9zM1446.2,1268.3h0.9v0.9h-0.9zM1446.3,1266.2h0.9v0.9h-0.9zM1440.7,1276.2h0.9v0.9h-0.9zM1446.4,1274.5h0.9v0.9h-0.9zM1434.5,1269.0h0.9v0.9h-0.9zM1429.8,1277.1h0.9v0.9h-0.9zM1436.0,1269.4h0.9v0.9h-0.9zM1440.6,1269.1h0.9v0.9h-0.9zM1434.7,1270.7h0.9v0.9h-0.9zM1447.5,1280.7h0.9v0.9h-0.9zM1436.4,1265.0h0.9v0.9h-0.9zM1439.1,1273.5h0.9v0.9h-0.9zM1439.5,1276.0h0.9v0.9h-0.9zM1435.5,1277.9h0.9v0.9h-0.9zM1442.5,1274.2h0.9v0.9h-0.9zM1434.9,1270.6h0.9v0.9h-0.9zM1441.6,1267.4h0.9v0.9h-0.9zM1436.4,1269.2h0.9v0.9h-0.9zM1428.9,1276.2h0.9v0.9h-0.9zM1437.2,1273.3h0.9v0.9h-0.9zM1442.7,1265.4h0.9v0.9h-0.9zM1437.0,1274.6h0.9v0.9h-0.9zM1442.5,1267.5h0.9v0.9h-0.9zM1441.7,1274.2h0.9v0.9h-0.9zM1445.6,1279.0h0.9v0.9h-0.9zM1440.7,1284.2h0.9v0.9h-0.9zM1437.4,1270.9h0.9v0.9h-0.9zM1435.3,1268.2h0.9v0.9h-0.9zM1437.2,1263.4h0.9v0.9h-0.9zM1436.9,1275.3h0.9v0.9h-0.9zM1443.4,1271.3h0.9v0.9h-0.9zM1445.8,1269.7h0.9v0.9h-0.9zM1436.6,1263.4h0.9v0.9h-0.9zM1432.8,1269.0h0.9v0.9h-0.9zM1446.3,1275.8h0.9v0.9h-0.9zM1430.8,1275.8h0.9v0.9h-0.9zM1440.3,1271.9h0.9v0.9h-0.9zM1437.5,1271.6h0.9v0.9h-0.9z" fill="#808080"/></g><circle cx="1393.3" cy="1246.4" r="0.5" fill="#3fc0d8" opacity="0.7"/><circle cx="1427.3" cy="1221.2" r="0.5" fill="#45a845" opacity="0.7"/><circle cx="1382.2" cy="1229.5" r="0.5" fill="#3d82c0" opacity="0.7"/><circle cx="1386.2" cy="1226.4" r="0.5" fill="#dc80cc" opacity="0.7"/><circle cx="1444.3" cy="1241.3" r="0.5" fill="#d23030" opacity="0.7"/><circle cx="1390.5" cy="1220.5" r="0.5" fill="#9467bd" opacity="0.7"/><circle cx="1445.0" cy="1211.3" r="0.5" fill="#3fc0d8" opacity="0.7"/><circle cx="1445.8" cy="1211.3" r="0.5" fill="#bcbd2a" opacity="0.7"/><circle cx="1432.5" cy="1220.5" r="0.5" fill="#d23030" opacity="0.7"/><circle cx="1427.8" cy="1264.6" r="0.5" fill="#dc80cc" opacity="0.7"/><circle cx="1443.2" cy="1213.2" r="0.5" fill="#d23030" opacity="0.7"/><circle cx="1462.7" cy="1234.5" r="0.5" fill="#9467bd" opacity="0.7"/><circle cx="1375.7" cy="1224.6" r="0.5" fill="#45a845" opacity="0.7"/><circle cx="1420.4" cy="1203.7" r="0.5" fill="#bcbd2a" opacity="0.7"/><circle cx="1398.5" cy="1209.4" r="0.5" fill="#8c564b" opacity="0.7"/><circle cx="1415.8" cy="1209.6" r="0.5" fill="#8c564b" opacity="0.7"/><circle cx="1415.4" cy="1248.4" r="0.5" fill="#bcbd2a" opacity="0.7"/><circle cx="1382.2" cy="1206.1" r="0.5" fill="#8c564b" opacity="0.7"/><circle cx="1418.2" cy="1283.3" r="0.5" fill="#3d82c0" opacity="0.7"/><circle cx="1372.1" cy="1261.0" r="0.5" fill="#9467bd" opacity="0.7"/><circle cx="1393.7" cy="1254.8" r="0.5" fill="#808080" opacity="0.7"/><circle cx="1420.6" cy="1266.6" r="0.5" fill="#f58020" opacity="0.7"/><circle cx="1363.0" cy="1278.2" r="0.5" fill="#bcbd2a" opacity="0.7"/><circle cx="1437.3" cy="1279.5" r="0.5" fill="#8c564b" opacity="0.7"/><circle cx="1440.4" cy="1206.6" r="0.5" fill="#8c564b" opacity="0.7"/><circle cx="1365.0" cy="1233.6" r="0.5" fill="#3d82c0" opacity="0.7"/><circle cx="1397.6" cy="1215.8" r="0.5" fill="#d23030" opacity="0.7"/><circle cx="1463.5" cy="1278.8" r="0.5" fill="#3fc0d8" opacity="0.7"/><circle cx="1374.3" cy="1261.1" r="0.5" fill="#d23030" opacity="0.7"/><circle cx="1451.1" cy="1227.8" r="0.5" fill="#8c564b" opacity="0.7"/><circle cx="1439.7" cy="1230.3" r="0.5" fill="#d23030" opacity="0.7"/><circle cx="1406.2" cy="1246.8" r="0.5" fill="#45a845" opacity="0.7"/><circle cx="1462.5" cy="1221.6" r="0.5" fill="#bcbd2a" opacity="0.7"/><circle cx="1367.0" cy="1248.2" r="0.5" fill="#3d82c0" opacity="0.7"/><circle cx="1470.6" cy="1280.3" r="0.5" fill="#f58020" opacity="0.7"/><circle cx="1412.8" cy="1262.1" r="0.5" fill="#9467bd" opacity="0.7"/><circle cx="1434.3" cy="1253.3" r="0.5" fill="#8c564b" opacity="0.7"/><circle cx="1444.6" cy="1213.9" r="0.5" fill="#d23030" opacity="0.7"/><circle cx="1438.4" cy="1234.1" r="0.5" fill="#9467bd" opacity="0.7"/><circle cx="1464.1" cy="1240.7" r="0.5" fill="#3d82c0" opacity="0.7"/><circle cx="1448.8" cy="1200.2" r="0.5" fill="#45a845" opacity="0.7"/><circle cx="1464.6" cy="1266.9" r="0.5" fill="#808080" opacity="0.7"/><circle cx="1379.2" cy="1206.1" r="0.5" fill="#f58020" opacity="0.7"/><circle cx="1423.8" cy="1235.8" r="0.5" fill="#3d82c0" opacity="0.7"/><circle cx="1369.5" cy="1200.7" r="0.5" fill="#bcbd2a" opacity="0.7"/><circle cx="1470.5" cy="1214.0" r="0.5" fill="#d23030" opacity="0.7"/><circle cx="1362.5" cy="1268.4" r="0.5" fill="#8c564b" opacity="0.7"/><circle cx="1430.1" cy="1239.9" r="0.5" fill="#bcbd2a" opacity="0.7"/><circle cx="1400.8" cy="1239.1" r="0.5" fill="#3fc0d8" opacity="0.7"/><circle cx="1471.0" cy="1273.6" r="0.5" fill="#3fc0d8" opacity="0.7"/><circle cx="1477.4" cy="1252.7" r="0.5" fill="#f58020" opacity="0.7"/><circle cx="1448.7" cy="1228.2" r="0.5" fill="#3d82c0" opacity="0.7"/><circle cx="1429.8" cy="1235.8" r="0.5" fill="#8c564b" opacity="0.7"/><circle cx="1419.7" cy="1255.0" r="0.5" fill="#bcbd2a" opacity="0.7"/><circle cx="1465.8" cy="1245.1" r="0.5" fill="#8c564b" opacity="0.7"/><circle cx="1463.8" cy="1218.9" r="0.5" fill="#3d82c0" opacity="0.7"/><circle cx="1445.0" cy="1212.5" r="0.5" fill="#9467bd" opacity="0.7"/><circle cx="1406.6" cy="1249.4" r="0.5" fill="#808080" opacity="0.7"/><circle cx="1405.2" cy="1220.4" r="0.5" fill="#f58020" opacity="0.7"/><circle cx="1409.6" cy="1209.7" r="0.5" fill="#9467bd" opacity="0.7"/><path d="M1403.2,1408.8V1317" stroke="#000" stroke-width="2.6"/><path d="M1403.2,1303.2 L1397.3,1319 L1409.1,1319 Z" fill="#000"/><path d="M1645.8,1408.8V1352" stroke="#000" stroke-width="2.6"/><path d="M1645.8,1338.6 L1639.9,1354 L1651.7,1354 Z" fill="#000"/><text transform="translate(1062.5,1245.8) rotate(-90)" text-anchor="middle" font-size="12.6" fill="#222" textLength="177" lengthAdjust="spacingAndGlyphs">CCCCNC(=O)COc1cc(C(C)C)ccc1C</text><text transform="translate(1774,1245.8) rotate(-90)" text-anchor="middle" font-size="12.6" fill="#222" textLength="176" lengthAdjust="spacingAndGlyphs">CCCCNC(=O)COc1cc(C(C)C)ccc1C</text><text x="1121.5" y="1250.5" text-anchor="middle" font-size="13.5" fill="#111">N x D</text><text x="1645.5" y="1250.9" text-anchor="middle" font-size="13.5" fill="#111">N x D</text><text x="1218.4" y="1248.2" text-anchor="middle" font-size="14" fill="#111">Encoder</text><text x="1552.7" y="1250.9" text-anchor="middle" font-size="14" fill="#111">Decoder</text><text x="1466" y="1209.8" text-anchor="middle" font-size="13.5" fill="#111">K x D</text></svg>
<div class="t" style="left:1120.8px;top:1126.40px;font-size:27px;line-height:27px;color:#111;font-weight:normal;font-family:'Liberation Serif';transform:translateX(-50%);"><i>x</i></div>
<div class="t" style="left:1411.9px;top:1159.30px;font-size:27px;line-height:27px;color:#111;font-weight:normal;font-family:'Liberation Serif';transform:translateX(-50%);"><i>z</i></div>
<div class="t" style="left:1645.1px;top:1128.50px;font-size:27px;line-height:27px;color:#111;font-weight:normal;font-family:'Liberation Serif';transform:translateX(-50%);"><i>h</i></div>
<div class="t" style="left:1275.3px;top:1229.40px;font-size:24px;line-height:24px;color:#111;font-weight:normal;font-family:'Liberation Serif';transform-origin:0 0;transform: scaleX(1.1945);"><i>q</i><sub><b><i>θ</i></b></sub>(<i>z</i>|<i>x</i>)</div>
<div class="t" style="left:1674.4px;top:1230.30px;font-size:24px;line-height:24px;color:#111;font-weight:normal;font-family:'Liberation Serif';transform-origin:0 0;transform: scaleX(1.2026);"><i>p</i><sub><b><i>θ</i></b></sub>(<i>x</i>|<i>z</i>)</div>
<div class="t" style="left:1715px;top:1260.00px;font-size:24px;line-height:24px;color:#111;font-weight:normal;font-family:'Liberation Serif';transform:translateX(-50%);">=</div>
<div class="t" style="left:1699.4px;top:1280.20px;font-size:24px;line-height:24px;color:#111;font-weight:normal;font-family:'Liberation Serif';transform-origin:0 0;transform: scaleX(1.2445);"><i>f</i><sub><b><i>θ</i></b></sub>(<i>h</i>)</div>
<div class="t" style="left:1297px;top:1348.60px;font-size:24px;line-height:24px;color:#111;font-weight:normal;font-family:'Liberation Serif';transform-origin:0 0;transform: scaleX(1.0064);"><i>z</i> ~ <i>q</i><sub><i>θ</i></sub>(<i>z</i>|<i>x</i>)</div>
<div class="t" style="left:1052px;top:1399.20px;font-size:14.5px;line-height:14.5px;color:#111;font-weight:normal;font-family:'Liberation Sans';letter-spacing:0.024px;">N: Variable Length Sequence</div>
<div class="t" style="left:1052px;top:1416.80px;font-size:14.5px;line-height:14.5px;color:#111;font-weight:normal;font-family:'Liberation Sans';letter-spacing:0.005px;">K: Fixed Size Latent Code Length</div>
<div class="t" style="left:1052px;top:1434.40px;font-size:14.5px;line-height:14.5px;color:#111;font-weight:normal;font-family:'Liberation Sans';letter-spacing:-0.022px;">D: Model Hidden Dimension</div>
<div class="t" style="left:1412.3px;top:1415.50px;font-size:15px;line-height:15px;color:#111;font-weight:normal;font-family:'Liberation Sans';transform:translateX(-50%);">Latent code</div>
<div class="t" style="left:1412.3px;top:1434.00px;font-size:15px;line-height:15px;color:#111;font-weight:normal;font-family:'Liberation Sans';transform:translateX(-50%);">(compressed)</div>
<div class="t" style="left:1645.8px;top:1415.50px;font-size:15px;line-height:15px;color:#111;font-weight:normal;font-family:'Liberation Sans';transform:translateX(-50%);">Decoded hiddens</div>
<div class="t" style="left:1645.8px;top:1434.00px;font-size:15px;line-height:15px;color:#111;font-weight:normal;font-family:'Liberation Sans';transform:translateX(-50%);">(informative)</div>
<div class="t" style="left:1035.9px;top:1470.10px;font-size:20.5px;line-height:20.5px;color:#111;font-weight:normal;font-family:'Liberation Serif';letter-spacing:-0.146px;">Figure 3:&nbsp; Informative embeddings <b><i>h</i></b> are taken from decoder hidden states before mapping to</div>
<div class="t" style="left:1035.9px;top:1491.60px;font-size:20.5px;line-height:20.5px;color:#111;font-weight:normal;font-family:'Liberation Serif';transform-origin:0 0;transform: scaleX(0.9450);"><i>p</i><sub><i>θ</i></sub>(<b><i>x</i></b> | <b><i>z</i></b>). For auto-regressive decoders we use teacher forcing.</div>
<div class="tri" style="left:980px;top:1538.5px"></div>
<div class="t" style="left:1010.8px;top:1535.00px;font-size:23.5px;line-height:23.5px;color:#585858;font-weight:normal;font-family:'Liberation Sans';letter-spacing:0.495px;"><span class="g">Why it works:</span> <b>h</b> enriches <b>z</b> with decoder context <svg class="arr" viewBox="0 0 18 12" width="0.78em" height="0.5em"><path d="M1,6H12" stroke="currentColor" stroke-width="1.5"/><path d="M10.5,1.8 L17.5,6 L10.5,10.2 Z" fill="currentColor"/></svg> stronger discriminative</div>
<div class="t" style="left:980px;top:1564.60px;font-size:23.5px;line-height:23.5px;color:#585858;font-weight:normal;font-family:'Liberation Sans';letter-spacing:0.729px;">performance by approximating the input distribution.</div>
<div class="tri" style="left:980px;top:1679.5px"></div>
<div class="t" style="left:1010.8px;top:1675.90px;font-size:23.5px;line-height:23.5px;color:#555;font-weight:normal;font-family:'Liberation Sans';letter-spacing:0.275px;"><span class="g">Datasets:</span></div>
<div class="t" style="left:980px;top:1705.80px;font-size:23.5px;line-height:23.5px;color:#585858;font-weight:normal;font-family:'Liberation Sans';letter-spacing:0.117px;"><b>Images (classification task):</b> MNIST, Fashion-MNIST, EMNIST (digits/letters), and</div>
<div class="t" style="left:980px;top:1735.80px;font-size:23.5px;line-height:23.5px;color:#585858;font-weight:normal;font-family:'Liberation Sans';letter-spacing:0.017px;">MedMNIST suite (e.g., PathMNIST, DermaMNIST, OCTMNIST, etc.)</div>
<div class="t" style="left:980px;top:1766.30px;font-size:23.5px;line-height:23.5px;color:#585858;font-weight:normal;font-family:'Liberation Sans';letter-spacing:-0.106px;"><b>Molecules (property prediction regression task):</b> ZINC-15 with SMILES.</div>
<div class="tri" style="left:980px;top:1810px"></div>
<div class="t" style="left:1010.8px;top:1806.50px;font-size:23.5px;line-height:23.5px;color:#585858;font-weight:normal;font-family:'Liberation Sans';letter-spacing:0.320px;"><span class="g">Training:</span> Models were trained for 500k steps; Checkpoints selected by <b>lowest</b></div>
<div class="t" style="left:980px;top:1837.70px;font-size:23.5px;line-height:23.5px;color:#585858;font-weight:normal;font-family:'Liberation Sans';letter-spacing:0.176px;"><b>validation loss</b>, not by accuracy.&nbsp; InfoNCE shares the same encoder architecture.</div>
<div class="tri" style="left:980px;top:1881.5px"></div>
<div class="t" style="left:1010.8px;top:1877.90px;font-size:23.5px;line-height:23.5px;color:#585858;font-weight:normal;font-family:'Liberation Sans';letter-spacing:0.353px;"><span class="g">Evaluation:</span> Train lightweight heads on frozen codes for&nbsp; downstream tasks.</div>
<svg style="left:1000px;top:1980px" width="860" height="490" viewBox="1000 1980 860 490"><rect x="1353.6" y="2109.6" width="74.30000000000018" height="37.59999999999991" fill="#fdf7c9"/><rect x="1279.2" y="2184.9" width="74.39999999999986" height="37.69999999999982" fill="#fdf7c9"/><rect x="1507.5" y="2184.9" width="74.29999999999995" height="37.69999999999982" fill="#fdf7c9"/><rect x="1662.4" y="2184.9" width="73.79999999999995" height="37.69999999999982" fill="#fdf7c9"/><path d="M1009,1990.4H1832" stroke="#3a3a3a" stroke-width="1.1"/><path d="M1279.2,2029.1H1736.2" stroke="#3a3a3a" stroke-width="1"/><path d="M1009,2065.6H1832" stroke="#3a3a3a" stroke-width="1.1"/><path d="M1009,2071.2H1832" stroke="#3a3a3a" stroke-width="1.1"/><path d="M1009,2222.8H1832" stroke="#3a3a3a" stroke-width="1.1"/><path d="M1009,2228.4H1832" stroke="#3a3a3a" stroke-width="1.1"/><path d="M1009,2416.4H1832" stroke="#3a3a3a" stroke-width="1.1"/><path d="M1009,2421.5H1832" stroke="#3a3a3a" stroke-width="1.1"/><path d="M1273.6,1990.4V2458.5" stroke="#3a3a3a" stroke-width="1"/><path d="M1279.2,1990.4V2458.5" stroke="#3a3a3a" stroke-width="1"/><path d="M1428,1990.4V2458.5" stroke="#3a3a3a" stroke-width="1"/><path d="M1433.1,1990.4V2458.5" stroke="#3a3a3a" stroke-width="1"/><path d="M1581.8,1990.4V2458.5" stroke="#3a3a3a" stroke-width="1"/><path d="M1587.2,1990.4V2458.5" stroke="#3a3a3a" stroke-width="1"/><path d="M1736.2,1990.4V2458.5" stroke="#3a3a3a" stroke-width="1"/><path d="M1741.8,1990.4V2458.5" stroke="#3a3a3a" stroke-width="1"/><path d="M1353.6,2029.1V2458.5" stroke="#3a3a3a" stroke-width="1"/><path d="M1507.5,2029.1V2458.5" stroke="#3a3a3a" stroke-width="1"/><path d="M1662.4,2029.1V2458.5" stroke="#3a3a3a" stroke-width="1"/><path d="M1419,1987V2002" stroke="#000" stroke-width="1.3"/><path d="M1415.8,1999.5 L1422.2,1999.5 L1419,2005.5 Z" fill="#000"/><path d="M1573.4,1987V2002" stroke="#000" stroke-width="1.3"/><path d="M1570.2,1999.5 L1576.6000000000001,1999.5 L1573.4,2005.5 Z" fill="#000"/><path d="M1731,1987V2002" stroke="#000" stroke-width="1.3"/><path d="M1727.8,1999.5 L1734.2,1999.5 L1731,2005.5 Z" fill="#000"/><path d="M1837,2005V1990" stroke="#000" stroke-width="1.3"/><path d="M1833.8,1992.5 L1840.2,1992.5 L1837,1986.5 Z" fill="#000"/></svg>
<div class="t" style="left:1353px;top:1998.90px;font-size:23px;line-height:23px;color:#000;font-weight:normal;font-family:'Liberation Serif';transform:translateX(-50%);"><b>ESOL</b></div>
<div class="t" style="left:1507.5px;top:1998.90px;font-size:23px;line-height:23px;color:#000;font-weight:normal;font-family:'Liberation Serif';transform:translateX(-50%);"><b>FreeSolv</b></div>
<div class="t" style="left:1661.5px;top:1998.90px;font-size:23px;line-height:23px;color:#000;font-weight:normal;font-family:'Liberation Serif';letter-spacing:-0.129px;transform:translateX(-50%);"><b>Lipophilicity</b></div>
<div class="t" style="left:1787.2px;top:1998.90px;font-size:23px;line-height:23px;color:#000;font-weight:normal;font-family:'Liberation Serif';transform:translateX(-50%);"><b>Recon.</b></div>
<div class="t" style="left:1020.2px;top:2014.30px;font-size:23px;line-height:23px;color:#000;font-weight:normal;font-family:'Liberation Serif';letter-spacing:0.095px;"><b>Model (Latent K × D)</b></div>
<div class="t" style="left:1316.4px;top:2035.40px;font-size:23px;line-height:23px;color:#000;font-weight:normal;font-family:'Liberation Serif';transform:translateX(-50%);"><b>SVM</b></div>
<div class="t" style="left:1390.7px;top:2035.40px;font-size:23px;line-height:23px;color:#000;font-weight:normal;font-family:'Liberation Serif';transform:translateX(-50%);"><b>MLP</b></div>
<div class="t" style="left:1470.3px;top:2035.40px;font-size:23px;line-height:23px;color:#000;font-weight:normal;font-family:'Liberation Serif';transform:translateX(-50%);"><b>SVM</b></div>
<div class="t" style="left:1544.6px;top:2035.40px;font-size:23px;line-height:23px;color:#000;font-weight:normal;font-family:'Liberation Serif';transform:translateX(-50%);"><b>MLP</b></div>
<div class="t" style="left:1624.8px;top:2035.40px;font-size:23px;line-height:23px;color:#000;font-weight:normal;font-family:'Liberation Serif';transform:translateX(-50%);"><b>SVM</b></div>
<div class="t" style="left:1699.2px;top:2035.40px;font-size:23px;line-height:23px;color:#000;font-weight:normal;font-family:'Liberation Serif';transform:translateX(-50%);"><b>MLP</b></div>
<div class="t" style="left:1020.2px;top:2078.70px;font-size:23px;line-height:23px;color:#000;font-weight:normal;font-family:'Liberation Serif';letter-spacing:0.241px;">MIM (1 × 512)</div>
<div class="t" style="left:1316.4px;top:2078.70px;font-size:23px;line-height:23px;color:#000;font-weight:normal;font-family:'Liberation Serif';transform:translateX(-50%);">0.65</div>
<div class="t" style="left:1390.7px;top:2078.70px;font-size:23px;line-height:23px;color:#000;font-weight:normal;font-family:'Liberation Serif';transform:translateX(-50%);">0.34</div>
<div class="t" style="left:1470.3px;top:2078.70px;font-size:23px;line-height:23px;color:#000;font-weight:normal;font-family:'Liberation Serif';transform:translateX(-50%);">2.23</div>
<div class="t" style="left:1544.6px;top:2078.70px;font-size:23px;line-height:23px;color:#000;font-weight:normal;font-family:'Liberation Serif';transform:translateX(-50%);">1.82</div>
<div class="t" style="left:1624.8px;top:2078.70px;font-size:23px;line-height:23px;color:#000;font-weight:normal;font-family:'Liberation Serif';transform:translateX(-50%);">0.663</div>
<div class="t" style="left:1699.2px;top:2078.70px;font-size:23px;line-height:23px;color:#000;font-weight:normal;font-family:'Liberation Serif';transform:translateX(-50%);">0.61</div>
<div class="t" style="left:1787.2px;top:2078.70px;font-size:23px;line-height:23px;color:#000;font-weight:normal;font-family:'Liberation Serif';transform:translateX(-50%);">100%</div>
<div class="t" style="left:1020.2px;top:2116.20px;font-size:23px;line-height:23px;color:#000;font-weight:normal;font-family:'Liberation Serif';letter-spacing:0.207px;">cMIM (1 × 512)</div>
<div class="t" style="left:1316.4px;top:2116.20px;font-size:23px;line-height:23px;color:#000;font-weight:normal;font-family:'Liberation Serif';transform:translateX(-50%);">0.47</div>
<div class="t" style="left:1390.7px;top:2116.20px;font-size:23px;line-height:23px;color:#000;font-weight:normal;font-family:'Liberation Serif';transform:translateX(-50%);">0.19</div>
<div class="t" style="left:1470.3px;top:2116.20px;font-size:23px;line-height:23px;color:#000;font-weight:normal;font-family:'Liberation Serif';transform:translateX(-50%);">2.32</div>
<div class="t" style="left:1544.6px;top:2116.20px;font-size:23px;line-height:23px;color:#000;font-weight:normal;font-family:'Liberation Serif';transform:translateX(-50%);">1.67</div>
<div class="t" style="left:1624.8px;top:2116.20px;font-size:23px;line-height:23px;color:#000;font-weight:normal;font-family:'Liberation Serif';transform:translateX(-50%);">0.546</div>
<div class="t" style="left:1699.2px;top:2116.20px;font-size:23px;line-height:23px;color:#000;font-weight:normal;font-family:'Liberation Serif';transform:translateX(-50%);">0.38</div>
<div class="t" style="left:1787.2px;top:2116.20px;font-size:23px;line-height:23px;color:#000;font-weight:normal;font-family:'Liberation Serif';transform:translateX(-50%);">100%</div>
<div class="t" style="left:1020.2px;top:2153.70px;font-size:23px;line-height:23px;color:#000;font-weight:normal;font-family:'Liberation Serif';letter-spacing:0.131px;">MIM (1 × 512) info emb</div>
<div class="t" style="left:1316.4px;top:2153.70px;font-size:23px;line-height:23px;color:#000;font-weight:normal;font-family:'Liberation Serif';transform:translateX(-50%);">0.21</div>
<div class="t" style="left:1390.7px;top:2153.70px;font-size:23px;line-height:23px;color:#000;font-weight:normal;font-family:'Liberation Serif';transform:translateX(-50%);">0.29</div>
<div class="t" style="left:1470.3px;top:2153.70px;font-size:23px;line-height:23px;color:#000;font-weight:normal;font-family:'Liberation Serif';transform:translateX(-50%);">1.55</div>
<div class="t" style="left:1544.6px;top:2153.70px;font-size:23px;line-height:23px;color:#000;font-weight:normal;font-family:'Liberation Serif';transform:translateX(-50%);">1.4</div>
<div class="t" style="left:1624.8px;top:2153.70px;font-size:23px;line-height:23px;color:#000;font-weight:normal;font-family:'Liberation Serif';transform:translateX(-50%);">0.234</div>
<div class="t" style="left:1699.2px;top:2153.70px;font-size:23px;line-height:23px;color:#000;font-weight:normal;font-family:'Liberation Serif';transform:translateX(-50%);">0.28</div>
<div class="t" style="left:1787.2px;top:2153.70px;font-size:23px;line-height:23px;color:#000;font-weight:normal;font-family:'Liberation Serif';transform:translateX(-50%);">100%</div>
<div class="t" style="left:1020.2px;top:2191.20px;font-size:23px;line-height:23px;color:#000;font-weight:normal;font-family:'Liberation Serif';letter-spacing:0.115px;">cMIM (1 × 512) info emb</div>
<div class="t" style="left:1316.4px;top:2191.20px;font-size:23px;line-height:23px;color:#000;font-weight:normal;font-family:'Liberation Serif';transform:translateX(-50%);">0.21</div>
<div class="t" style="left:1390.7px;top:2191.20px;font-size:23px;line-height:23px;color:#000;font-weight:normal;font-family:'Liberation Serif';transform:translateX(-50%);">0.24</div>
<div class="t" style="left:1470.3px;top:2191.20px;font-size:23px;line-height:23px;color:#000;font-weight:normal;font-family:'Liberation Serif';transform:translateX(-50%);">1.74</div>
<div class="t" style="left:1544.6px;top:2191.20px;font-size:23px;line-height:23px;color:#000;font-weight:normal;font-family:'Liberation Serif';transform:translateX(-50%);">1.35</div>
<div class="t" style="left:1624.8px;top:2191.20px;font-size:23px;line-height:23px;color:#000;font-weight:normal;font-family:'Liberation Serif';transform:translateX(-50%);">0.24</div>
<div class="t" style="left:1699.2px;top:2191.20px;font-size:23px;line-height:23px;color:#000;font-weight:normal;font-family:'Liberation Serif';transform:translateX(-50%);">0.23</div>
<div class="t" style="left:1787.2px;top:2191.20px;font-size:23px;line-height:23px;color:#000;font-weight:normal;font-family:'Liberation Serif';transform:translateX(-50%);">100%</div>
<div class="t" style="left:1020.2px;top:2235.50px;font-size:23px;line-height:23px;color:#000;font-weight:normal;font-family:'Liberation Serif';letter-spacing:-0.228px;">CDDD (512)</div>
<div class="t" style="left:1316.4px;top:2235.50px;font-size:23px;line-height:23px;color:#000;font-weight:normal;font-family:'Liberation Serif';transform:translateX(-50%);"><b>0.33</b></div>
<div class="t" style="left:1470.3px;top:2235.50px;font-size:23px;line-height:23px;color:#000;font-weight:normal;font-family:'Liberation Serif';transform:translateX(-50%);"><b>0.94</b></div>
<div class="t" style="left:1624.8px;top:2235.50px;font-size:23px;line-height:23px;color:#000;font-weight:normal;font-family:'Liberation Serif';transform:translateX(-50%);"><b>0.4</b></div>
<div class="t" style="left:1020.2px;top:2273.50px;font-size:23px;line-height:23px;color:#000;font-weight:normal;font-family:'Liberation Serif';letter-spacing:0.158px;">†Seq2seq (N × 512)</div>
<div class="t" style="left:1316.4px;top:2273.50px;font-size:23px;line-height:23px;color:#000;font-weight:normal;font-family:'Liberation Serif';transform:translateX(-50%);">0.37</div>
<div class="t" style="left:1390.7px;top:2273.50px;font-size:23px;line-height:23px;color:#000;font-weight:normal;font-family:'Liberation Serif';transform:translateX(-50%);">0.43</div>
<div class="t" style="left:1470.3px;top:2273.50px;font-size:23px;line-height:23px;color:#000;font-weight:normal;font-family:'Liberation Serif';transform:translateX(-50%);">1.24</div>
<div class="t" style="left:1544.6px;top:2273.50px;font-size:23px;line-height:23px;color:#000;font-weight:normal;font-family:'Liberation Serif';transform:translateX(-50%);">1.4</div>
<div class="t" style="left:1624.8px;top:2273.50px;font-size:23px;line-height:23px;color:#000;font-weight:normal;font-family:'Liberation Serif';transform:translateX(-50%);">0.46</div>
<div class="t" style="left:1699.2px;top:2273.50px;font-size:23px;line-height:23px;color:#000;font-weight:normal;font-family:'Liberation Serif';transform:translateX(-50%);">0.61</div>
<div class="t" style="left:1787.2px;top:2273.50px;font-size:23px;line-height:23px;color:#000;font-weight:normal;font-family:'Liberation Serif';transform:translateX(-50%);">100%</div>
<div class="t" style="left:1020.2px;top:2311.00px;font-size:23px;line-height:23px;color:#000;font-weight:normal;font-family:'Liberation Serif';letter-spacing:0.096px;">†Perceiver (4 × 512)</div>
<div class="t" style="left:1316.4px;top:2311.00px;font-size:23px;line-height:23px;color:#000;font-weight:normal;font-family:'Liberation Serif';transform:translateX(-50%);">0.4</div>
<div class="t" style="left:1390.7px;top:2311.00px;font-size:23px;line-height:23px;color:#000;font-weight:normal;font-family:'Liberation Serif';transform:translateX(-50%);">0.36</div>
<div class="t" style="left:1470.3px;top:2311.00px;font-size:23px;line-height:23px;color:#000;font-weight:normal;font-family:'Liberation Serif';transform:translateX(-50%);">1.22</div>
<div class="t" style="left:1544.6px;top:2311.00px;font-size:23px;line-height:23px;color:#000;font-weight:normal;font-family:'Liberation Serif';transform:translateX(-50%);">1.05</div>
<div class="t" style="left:1624.8px;top:2311.00px;font-size:23px;line-height:23px;color:#000;font-weight:normal;font-family:'Liberation Serif';transform:translateX(-50%);">0.48</div>
<div class="t" style="left:1699.2px;top:2311.00px;font-size:23px;line-height:23px;color:#000;font-weight:normal;font-family:'Liberation Serif';transform:translateX(-50%);">0.47</div>
<div class="t" style="left:1787.2px;top:2311.00px;font-size:23px;line-height:23px;color:#000;font-weight:normal;font-family:'Liberation Serif';transform:translateX(-50%);">100%</div>
<div class="t" style="left:1020.2px;top:2348.00px;font-size:23px;line-height:23px;color:#000;font-weight:normal;font-family:'Liberation Serif';letter-spacing:0.204px;">†VAE (4 × 512)</div>
<div class="t" style="left:1316.4px;top:2348.00px;font-size:23px;line-height:23px;color:#000;font-weight:normal;font-family:'Liberation Serif';transform:translateX(-50%);">0.55</div>
<div class="t" style="left:1390.7px;top:2348.00px;font-size:23px;line-height:23px;color:#000;font-weight:normal;font-family:'Liberation Serif';transform:translateX(-50%);">0.49</div>
<div class="t" style="left:1470.3px;top:2348.00px;font-size:23px;line-height:23px;color:#000;font-weight:normal;font-family:'Liberation Serif';transform:translateX(-50%);">1.65</div>
<div class="t" style="left:1544.6px;top:2348.00px;font-size:23px;line-height:23px;color:#000;font-weight:normal;font-family:'Liberation Serif';transform:translateX(-50%);">3.3</div>
<div class="t" style="left:1624.8px;top:2348.00px;font-size:23px;line-height:23px;color:#000;font-weight:normal;font-family:'Liberation Serif';transform:translateX(-50%);">0.63</div>
<div class="t" style="left:1699.2px;top:2348.00px;font-size:23px;line-height:23px;color:#000;font-weight:normal;font-family:'Liberation Serif';transform:translateX(-50%);">0.55</div>
<div class="t" style="left:1787.2px;top:2348.00px;font-size:23px;line-height:23px;color:#000;font-weight:normal;font-family:'Liberation Serif';transform:translateX(-50%);">46%</div>
<div class="t" style="left:1020.2px;top:2385.00px;font-size:23px;line-height:23px;color:#000;font-weight:normal;font-family:'Liberation Serif';letter-spacing:0.241px;">MIM (1 × 512)</div>
<div class="t" style="left:1316.4px;top:2385.00px;font-size:23px;line-height:23px;color:#000;font-weight:normal;font-family:'Liberation Serif';transform:translateX(-50%);">0.58</div>
<div class="t" style="left:1390.7px;top:2385.00px;font-size:23px;line-height:23px;color:#000;font-weight:normal;font-family:'Liberation Serif';transform:translateX(-50%);">0.54</div>
<div class="t" style="left:1470.3px;top:2385.00px;font-size:23px;line-height:23px;color:#000;font-weight:normal;font-family:'Liberation Serif';transform:translateX(-50%);">1.95</div>
<div class="t" style="left:1544.6px;top:2385.00px;font-size:23px;line-height:23px;color:#000;font-weight:normal;font-family:'Liberation Serif';transform:translateX(-50%);">1.9</div>
<div class="t" style="left:1624.8px;top:2385.00px;font-size:23px;line-height:23px;color:#000;font-weight:normal;font-family:'Liberation Serif';transform:translateX(-50%);">0.66</div>
<div class="t" style="left:1699.2px;top:2385.00px;font-size:23px;line-height:23px;color:#000;font-weight:normal;font-family:'Liberation Serif';transform:translateX(-50%);">0.62</div>
<div class="t" style="left:1787.2px;top:2385.00px;font-size:23px;line-height:23px;color:#000;font-weight:normal;font-family:'Liberation Serif';transform:translateX(-50%);">100%</div>
<div class="t" style="left:1020.2px;top:2428.30px;font-size:23px;line-height:23px;color:#000;font-weight:normal;font-family:'Liberation Serif';letter-spacing:-0.185px;">Morgan fingerprints (512)</div>
<div class="t" style="left:1316.4px;top:2428.30px;font-size:23px;line-height:23px;color:#000;font-weight:normal;font-family:'Liberation Serif';transform:translateX(-50%);">1.52</div>
<div class="t" style="left:1390.7px;top:2428.30px;font-size:23px;line-height:23px;color:#000;font-weight:normal;font-family:'Liberation Serif';transform:translateX(-50%);">1.26</div>
<div class="t" style="left:1470.3px;top:2428.30px;font-size:23px;line-height:23px;color:#000;font-weight:normal;font-family:'Liberation Serif';transform:translateX(-50%);">5.09</div>
<div class="t" style="left:1544.6px;top:2428.30px;font-size:23px;line-height:23px;color:#000;font-weight:normal;font-family:'Liberation Serif';transform:translateX(-50%);">3.94</div>
<div class="t" style="left:1624.8px;top:2428.30px;font-size:23px;line-height:23px;color:#000;font-weight:normal;font-family:'Liberation Serif';transform:translateX(-50%);">0.63</div>
<div class="t" style="left:1699.2px;top:2428.30px;font-size:23px;line-height:23px;color:#000;font-weight:normal;font-family:'Liberation Serif';transform:translateX(-50%);">0.61</div>
<div class="tri" style="left:980px;top:2484px"></div>
<div class="t" style="left:1010.8px;top:2480.10px;font-size:23.5px;line-height:23.5px;color:#585858;font-weight:normal;font-family:'Liberation Sans';letter-spacing:0.356px;">On ESOL/FreeSolv/Lipophilicity regression, cMIM + informative embeddings is</div>
<div class="t" style="left:980px;top:2509.90px;font-size:23.5px;line-height:23.5px;color:#585858;font-weight:normal;font-family:'Liberation Sans';letter-spacing:0.219px;">competitive with or superior to baselines (e.g., CDDD <svg class="arr" viewBox="0 0 18 12" width="0.78em" height="0.5em"><path d="M1,6H12" stroke="currentColor" stroke-width="1.5"/><path d="M10.5,1.8 L17.5,6 L10.5,10.2 Z" fill="currentColor"/></svg> <b>supervised</b>, Seq2Seq, AE</div>
<div class="t" style="left:980px;top:2539.60px;font-size:23.5px;line-height:23.5px;color:#585858;font-weight:normal;font-family:'Liberation Sans';letter-spacing:0.362px;">variants) <b>while retaining 100% reconstruction</b> for the MIM family in these runs.</div>
<div class="tri" style="left:980px;top:2655px"></div>
<div class="t" style="left:1010.8px;top:2651.50px;font-size:23.5px;line-height:23.5px;color:#585858;font-weight:normal;font-family:'Liberation Sans';letter-spacing:0.527px;"><span class="g">cMIM:</span> A unified model with generative fidelity + discriminative gains.</div>
<div class="tri" style="left:980px;top:2695px"></div>
<div class="t" style="left:1010.8px;top:2691.30px;font-size:23.5px;line-height:23.5px;color:#585858;font-weight:normal;font-family:'Liberation Sans';letter-spacing:-0.005px;"><span class="g">A novel contrastive learning method:</span> <b>without positive augmentations</b> and</div>
<div class="t" style="left:980px;top:2721.00px;font-size:23.5px;line-height:23.5px;color:#585858;font-weight:normal;font-family:'Liberation Sans';letter-spacing:-0.178px;"><b>robust to batch size</b> (vs. InfoNCE).</div>
<div class="tri" style="left:980px;top:2765px"></div>
<div class="t" style="left:1010.8px;top:2761.20px;font-size:23.5px;line-height:23.5px;color:#585858;font-weight:normal;font-family:'Liberation Sans';letter-spacing:0.374px;"><span class="g">Informative embeddings:</span> A generic way to extract enriched features from</div>
<div class="t" style="left:980px;top:2791.60px;font-size:23.5px;line-height:23.5px;color:#585858;font-weight:normal;font-family:'Liberation Sans';letter-spacing:0.500px;">decoder hidden states (no extra training).</div></body></html>
